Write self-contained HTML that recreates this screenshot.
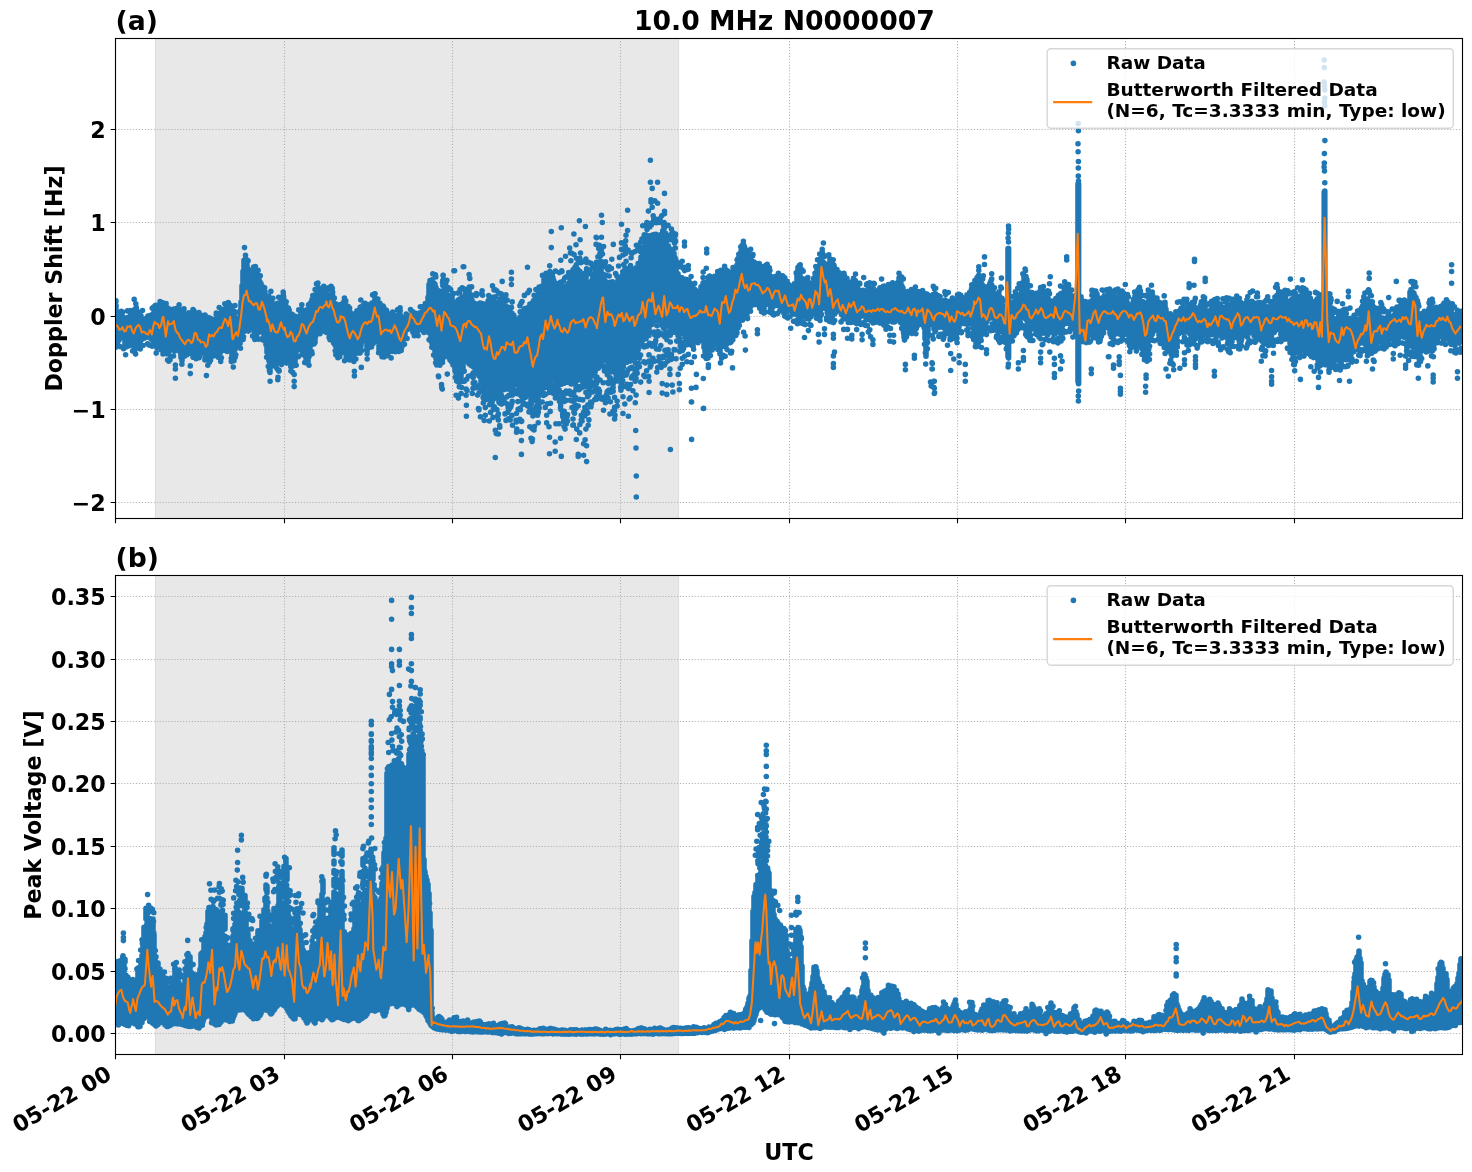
<!DOCTYPE html>
<html lang="en"><head><meta charset="utf-8"><title>10.0 MHz N0000007</title>
<style>html,body{margin:0;padding:0;background:#fff}svg{display:block}text{font-family:'DejaVu Sans','Liberation Sans',sans-serif;font-weight:700;fill:#000}</style></head><body>
<svg width="1472" height="1172" viewBox="0 0 1472 1172">
<rect width="1472" height="1172" fill="#fff"/>
<defs><clipPath id="c0"><rect x="115.5" y="38.5" width="1347" height="480"/></clipPath><clipPath id="c1"><rect x="115.5" y="575.5" width="1347" height="479"/></clipPath></defs>
<rect x="155.5" y="38.5" width="523" height="480.0" fill="#e8e8e8"/>
<path d="M155.5 38.5V518.5M678.5 38.5V518.5" stroke="#dedede" stroke-width="1.2" fill="none"/>
<path d="M115.5 518.5V38.5M284.5 518.5V38.5M452.5 518.5V38.5M620.5 518.5V38.5M789.5 518.5V38.5M957.5 518.5V38.5M1125.5 518.5V38.5M1294.5 518.5V38.5M115.5 502.5H1462.5M115.5 409.5H1462.5M115.5 316.5H1462.5M115.5 222.5H1462.5M115.5 129.5H1462.5" stroke="#b0b0b0" stroke-width="1.11" stroke-dasharray="1.11 1.83" fill="none"/>
<g clip-path="url(#c0)">
<path d="M116 308.8V343.6M117 317.7V336.5M118 313.2V341.2M119 316.7V340.3M120 317.2V334.2M121 314.5V332.2M122 314.8V337.5M123 317.8V335.8M124 321.2V335.4M125 326.2V343.8M126 320V346.9M127 318V340.2M128 317.8V344M129 317.1V340.7M130 325.7V338.4M131 316.4V340.2M132 314.6V339.2M133 314.4V345.1M134 315.6V347.9M135 314.2V349.6M136 319.3V341M137 310.9V337.9M138 313.6V342.4M139 315.6V341.6M140 322.5V340.4M141 315.8V340M142 318.9V337.8M143 319.1V338.4M144 319.9V337.9M145 322.9V337.9M146 324.9V334.9M147 329.7V330.4M148 319.7V336M149 318.5V337.2M150 315.5V337.2M151 323.3V339.1M152 315.5V338.9M153 314V339.6M154 312.3V337.1M155 312.5V344.8M156 313.4V341.7M157 310.6V347.9M158 310.2V346.3M159 312.1V342.8M160 314.6V343.4M161 308.4V344.1M162 311.8V345.8M163 307.3V345M164 312.8V350.7M165 312.5V346.4M166 314.2V353.6M167 313.8V353.7M168 317.5V345.6M169 320.7V351.4M170 315.2V346.4M171 313.2V348.1M172 311V349.6M173 312.4V349.2M174 309.1V346.4M175 310.7V345.9M176 311V344M177 313V345.4M178 313V350M179 320.4V349.6M180 313.5V351.7M181 321.7V357.5M182 313.7V360.8M183 315.4V347.8M184 321.1V351.4M185 316.5V347.9M186 321.4V346.4M187 313.8V347.9M188 313.8V345.3M189 314.2V347.3M190 323V346.9M191 314V353M192 313.4V345.2M193 315.4V348.6M194 319.9V349M195 316.3V355.4M196 318.6V349.4M197 317.3V352.3M198 316.9V350.4M199 319.6V349.5M200 319.5V341.8M201 316.5V347.2M202 320.2V343.6M203 316.8V349.4M204 318.6V351.1M205 319.6V352.6M206 323.7V354.7M207 324.2V356.8M208 326.9V356.1M209 324.9V354.5M210 323.8V346.7M211 321.9V354.9M212 323.1V348.2M213 325.5V350.2M214 320.2V347M215 327.1V345.6M216 322V346.8M217 317V340.9M218 314.8V349.8M219 317.5V351.9M220 317.1V346.4M221 312.6V351.1M222 312.5V348.9M223 310.3V346M224 309V333.9M225 312V340.6M226 314.2V337.8M227 307.1V341M228 310.7V345.2M229 304.5V348.8M230 305V351.2M231 306.7V348.9M232 309.2V358.6M233 311.7V351.1M234 311.4V352.9M235 321.2V349.6M236 320.8V343.5M237 323.5V343.9M238 318.1V343.5M239 322.7V340.1M240 317.4V336.8M241 302.1V340.5M242 285.9V332.7M243 271.2V324.1M244 260.4V323.9M245 259.6V314.9M246 260.5V323.1M247 264.2V317.8M248 268.8V323.7M249 273.4V323.3M250 275.3V324.3M251 275.6V326.9M252 276V328.4M253 270.8V326.1M254 271.5V331.5M255 271.3V331.3M256 274.5V333.3M257 274.9V331.4M258 275V331.5M259 277.6V332.2M260 282V329M261 284.7V329.2M262 286V323.4M263 290V331.5M264 290.4V335.5M265 291.8V338.3M266 298.6V344.7M267 302.7V352.2M268 303V358.2M269 309.6V361M270 303.9V372.4M271 303V362M272 308V355.8M273 306.5V351.4M274 306.3V360.3M275 308.1V362.9M276 315.7V363M277 307.3V362.7M278 305.4V359.9M279 305V361.6M280 304.3V361.6M281 308V355.6M282 298.4V351.6M283 303.1V353.4M284 303.6V347.6M285 308.9V353.6M286 306.1V352.7M287 308.5V355.7M288 318.6V356.4M289 318.1V359.6M290 317V360M291 326V359.6M292 319.7V365.8M293 320.4V366.1M294 323.7V362.7M295 325.9V363.5M296 320.6V355.1M297 320.6V348.5M298 322.2V348.7M299 323.2V346M300 315.9V345.2M301 313.1V343.6M302 314V341.5M303 312.4V347.2M304 312.7V344.7M305 311.5V355.7M306 315.4V358.4M307 317.4V361.1M308 321.1V363.6M309 310.5V356.8M310 306.2V347.8M311 305.7V344.9M312 299.6V344.5M313 301.8V340.3M314 304.4V343.9M315 301.6V342.5M316 294.1V327.8M317 291.6V325.4M318 290.9V330.4M319 292V329.1M320 293.7V327.3M321 292.1V319.1M322 292V327.1M323 292.8V331M324 293.8V323.6M325 294.5V330.3M326 295.5V332M327 298.9V332.7M328 297.8V330.7M329 294.7V329.4M330 297.7V333.5M331 295.6V335.8M332 303.5V335.8M333 296.7V338.9M334 302.8V342.8M335 304.9V344.9M336 305.9V346.8M337 316.6V341.3M338 313.5V347.7M339 306.9V352.2M340 306.8V349.3M341 305.2V348.9M342 304.1V346.4M343 310.7V348.9M344 312V352.6M345 304.8V353M346 309.7V351.3M347 308.1V351.4M348 306.4V345.6M349 311.9V347.1M350 311.8V353.3M351 321V349.3M352 320.8V353.8M353 322.9V353.5M354 314V353.5M355 315V351.1M356 315.2V347.9M357 310.7V351.7M358 318.2V352.6M359 314V346.1M360 316.7V349.3M361 306.8V345.8M362 308.6V341.5M363 308.4V337.7M364 307.1V331.9M365 303.2V329.6M366 309.5V339.7M367 311.1V349.9M368 315V345.2M369 308.3V347.4M370 310.7V337.5M371 307.8V339.9M372 303V339.4M373 305.2V333.7M374 307V334.5M375 298V332.2M376 299.9V332.7M377 304.8V335.8M378 304.8V332.8M379 306.4V346.9M380 307V351.3M381 313.2V353.2M382 309.4V356.7M383 315.4V354.7M384 319.8V352.3M385 313.3V344.9M386 314.3V344.3M387 319V346.9M388 318.3V346.5M389 318.1V348.9M390 317.4V346.1M391 325.3V351.1M392 317.7V342.5M393 319.1V344.1M394 320.7V342.1M395 320.8V341.3M396 319V343.3M397 315.6V335.9M398 319.3V342M399 313.4V337.5M400 314.1V335.2M401 317.5V342.3M402 317.4V345.4M403 319.6V341.6M404 320.7V336.9M405 323.2V335.1M406 325.2V330M407 322.7V329.8M408 317.3V325.3M409 323.6V325.6M410 315.6V318.5M411 316.6V318M412 312.7V321.8M413 311.8V327.4M414 313.8V330.7M415 322V332.2M416 313.7V330.1M417 315.1V332.2M418 317.2V329.4M419 314.8V329M420 312.7V323.6M421 316.9V320M422 312.1V322M423 320.6V323.5M424 315.7V325.3M425 313.5V325.9M426 308V326.3M427 304.6V328.9M428 297.3V330.2M429 284.6V332.8M430 280.6V328.3M431 284V336.7M432 279.8V343.2M433 287.7V342.8M434 283.1V347.1M435 284.2V351.9M436 287.6V358.2M437 294.5V358.1M438 290.6V358.3M439 301V356.4M440 295.1V360.1M441 292.9V355.5M442 298.9V350.7M443 290.8V358.1M444 291.6V353.8M445 295.4V349.6M446 294.9V353.2M447 295.4V354.7M448 299.7V356.9M449 299.6V351M450 303.9V360M451 301.1V360.9M452 302.1V362.3M453 301.5V364.9M454 307.1V365.3M455 308V370.7M456 302.7V373M457 303V369M458 300.3V378.8M459 301.8V381.9M460 299V376.7M461 301.2V377.9M462 300.8V372.2M463 297V369M464 300.5V362.1M465 299.5V360.8M466 298.4V353.8M467 298.3V355.3M468 298.8V350.9M469 291V353.4M470 294.8V353.3M471 295.8V361.3M472 300.1V363.7M473 303.5V361.2M474 303.1V356.2M475 303.8V359.5M476 304.9V357.2M477 304.8V366.2M478 303.9V368.5M479 306V376M480 303V372.5M481 303.6V383.7M482 303.6V386.2M483 303.9V388.9M484 309.6V383.8M485 318.6V389.4M486 314.1V386.4M487 313.6V385.6M488 305.3V385.1M489 300.1V384.2M490 302.8V384.6M491 299.5V392.1M492 303.6V393.4M493 297.4V393.6M494 300.3V395.6M495 304V398.3M496 308.4V397.8M497 311.3V396.2M498 303.6V393.8M499 302V391.5M500 307.9V389.1M501 303.3V381.9M502 305.3V387.9M503 308.5V389.9M504 310.4V389.5M505 307.1V389.3M506 313.5V382.4M507 306.7V385.6M508 307.2V384.8M509 307.6V383.4M510 310.3V379.1M511 314.9V386.4M512 313.4V387M513 316.6V383.2M514 316.4V383M515 318.9V383.6M516 322.1V384M517 326.1V379.8M518 321.6V383M519 322V377.7M520 317V376.2M521 317V380M522 320.1V380.6M523 311.4V379.6M524 309.4V384.1M525 308.6V382.4M526 311.5V385.9M527 311.6V387.5M528 307.6V389.6M529 306.7V394M530 316.2V394.9M531 319.7V402M532 325.4V395.3M533 321.7V398.5M534 310V394.5M535 306V400.1M536 300.3V395.5M537 295.9V399.1M538 295.1V400M539 300.9V394.9M540 295V394.5M541 295.8V392.3M542 286.1V387M543 286V381.9M544 279.1V382.9M545 278.1V387.5M546 282.2V387.2M547 276.4V383.5M548 281.6V382.4M549 272.9V380.4M550 271.6V384M551 273.3V379.2M552 282.2V377.2M553 277.9V373.1M554 281V379.9M555 286.6V378.9M556 290.5V379M557 283.9V382.4M558 290.8V378.4M559 285V381.9M560 284.5V376.5M561 286.6V384.3M562 294V384.1M563 285.8V383.5M564 287.1V377.7M565 290.4V380.1M566 293.5V382M567 299.6V382.3M568 295.9V382.1M569 287.6V378.1M570 281.4V380M571 275.3V383.7M572 275.9V381.6M573 269.8V383.6M574 272.7V379.8M575 267.4V380.4M576 271.1V378.6M577 268.8V378.4M578 269.5V370.3M579 278.6V373.7M580 271.6V378.2M581 274.8V374M582 281.4V376.8M583 280.1V377.6M584 277.7V375.6M585 279.2V378.5M586 274.1V379.8M587 285.9V384.4M588 289.8V383.9M589 284.8V385.6M590 282.9V380.2M591 283.7V374.2M592 280.1V371.9M593 281.6V367.2M594 278.5V363.4M595 278.4V360.9M596 279.9V357.8M597 279.6V356.5M598 274.1V356.9M599 264.3V355.1M600 267.4V350.8M601 268.2V354.7M602 275V355.8M603 277.9V357.1M604 275.1V355.5M605 280.6V359.9M606 282.3V360.5M607 286.6V360.9M608 285.9V364M609 284.9V364.9M610 282.7V366.6M611 284.7V369M612 285.1V369.2M613 286V369.7M614 286.9V371.5M615 288.9V368.6M616 283V360.5M617 287.4V366.3M618 280.2V364.5M619 279.3V363.4M620 281.7V356.1M621 278.5V357.9M622 278.4V352.8M623 273.5V357.3M624 271.5V357.2M625 268.2V359.4M626 268.3V362.2M627 270.2V362.3M628 270.7V361.3M629 271.5V354.6M630 276.3V358.2M631 268.6V356.4M632 269.9V352.3M633 270.4V356.7M634 278V346.1M635 275.1V348M636 267.9V341.8M637 271.1V343.6M638 269.4V337.6M639 269V337.1M640 264.2V332.6M641 257.1V327.8M642 261.8V329.6M643 249.5V335.3M644 247.2V338.2M645 245.1V336.9M646 242.3V338.7M647 242.3V335M648 243.8V335M649 237.9V335.4M650 236.7V323.1M651 242.5V324M652 242V324.4M653 234.9V320.6M654 234.5V321.1M655 241.1V314M656 234.4V317M657 237V316.7M658 239.2V320.8M659 241.7V312.1M660 243.7V319.2M661 239.6V317.2M662 241.2V325M663 241.4V326.8M664 245.9V328.6M665 247.3V326M666 251.4V322.4M667 251.6V317.7M668 252.8V316.9M669 251.5V314.6M670 253V312.9M671 249.2V313.3M672 250.6V311.6M673 252.9V318.2M674 253.6V318.8M675 257.8V324.2M676 262.3V321.3M677 275.9V329.5M678 273.8V335.5M679 276.8V339.4M680 277.6V333.2M681 278.5V333M682 277.8V332.2M683 281.9V327.1M684 286.4V334M685 285.1V337.4M686 279.4V338.7M687 283.2V341.2M688 284.7V335.8M689 281.4V339.3M690 284.1V342.1M691 283.7V340M692 288.5V342.3M693 287.1V334.7M694 290.8V342.5M695 289.5V340M696 290.7V339.7M697 293.4V339.7M698 297.2V342.7M699 299.6V339M700 297.9V340.6M701 286.8V339.3M702 292.8V331.2M703 283.3V337.4M704 285.2V347.5M705 285.5V351.4M706 285.5V351.8M707 287.4V355.7M708 291V350.5M709 284.5V352.7M710 292V342.8M711 284V340.6M712 285.4V337.3M713 286.3V337.1M714 286.6V341.1M715 285.8V336.5M716 286.8V337.3M717 283.5V343.8M718 279.9V342.7M719 281.6V347.8M720 279.9V354.1M721 285.2V346M722 281.2V346.4M723 279.1V346M724 278.9V344.8M725 275.4V343.5M726 272.5V341.4M727 272V339.5M728 271.1V340.6M729 272.3V338M730 272.4V342.7M731 275.2V341.9M732 281.2V340.3M733 276.5V336.9M734 272.3V331.9M735 274.3V331.4M736 272.4V328M737 273.5V324.8M738 269.9V318.9M739 259.7V318.8M740 255.7V316.9M741 251.1V312.5M742 249V311.7M743 250.5V307.4M744 250.5V309.5M745 253.8V310.9M746 257.2V310.8M747 260.6V308.4M748 254.7V307.4M749 255.5V308.7M750 255.4V307.8M751 259.7V304.5M752 266.1V301.4M753 264.9V302.8M754 262V299.1M755 262.8V301.6M756 271.2V302M757 273.4V300.9M758 274.2V301.5M759 269.4V301M760 271.8V300.4M761 277.1V299.7M762 274.3V303.6M763 278.5V308M764 272.7V309M765 275.7V305M766 271.8V296.3M767 273.6V295.7M768 276.1V300.5M769 272V304.4M770 278.1V305.4M771 281.9V306M772 280.3V298.7M773 282.7V307.1M774 290.2V305.5M775 284.9V304.1M776 282.8V303.5M777 281.6V297.5M778 278.8V301.7M779 280.4V304.2M780 282.7V302.8M781 287.3V304.5M782 286V305.5M783 284V303.4M784 284.9V309.8M785 281.6V305.3M786 284.6V311.5M787 284.1V311.6M788 292.8V309.4M789 292.1V304.8M790 295.9V310.6M791 295.7V309.2M792 292.9V303.4M793 297.2V311M794 287.4V303.7M795 283.6V309.4M796 286.4V312.2M797 272.6V311.8M798 267.3V312.2M799 268.3V315.8M800 271.3V315.7M801 281.9V310.1M802 284V310.1M803 278.7V312.6M804 279.7V313.4M805 284.2V315.9M806 284.2V315.8M807 284.9V318.7M808 286.4V315.8M809 286.9V316.6M810 285.2V309.7M811 288V316.7M812 285.3V314.4M813 283V312.1M814 280.8V311.6M815 277V312.3M816 282.2V306.7M817 268.7V316.3M818 269.8V315.4M819 269.9V315.8M820 259V311M821 258.3V309.5M822 261.8V305.4M823 261.7V302.6M824 263V298.2M825 268V305.8M826 266.8V301M827 269.8V309.7M828 269.6V307.2M829 263.6V312.5M830 258.7V315.5M831 261.6V313.1M832 267.4V309.4M833 264.2V304.5M834 265.4V306.9M835 273.8V313.6M836 277.1V308.3M837 274.6V309.3M838 272.2V307.6M839 280.6V311M840 281.1V309.7M841 284.9V311.5M842 279.4V309.3M843 280.6V307.7M844 279.7V311.7M845 281.2V306.5M846 286.5V310.8M847 282.7V313.1M848 286.7V311.5M849 291.9V311.8M850 297V313.5M851 289.7V307.2M852 287V313.3M853 285.7V307.3M854 292.2V317.2M855 293.3V311.9M856 288.3V321.5M857 287V319.4M858 288.8V316.1M859 290.9V317.1M860 297.7V316.7M861 297.3V314.1M862 291.1V313.6M863 290.4V315.6M864 291.5V315.2M865 298.2V312M866 294.2V318.6M867 292.2V319.3M868 296.3V319.1M869 288.1V319.6M870 287.7V316.5M871 288.1V321M872 289.3V320.4M873 288.9V323M874 291.1V321.1M875 291.2V312.4M876 294V318.3M877 297.6V314M878 295.8V313.6M879 297.7V315.1M880 293V315.1M881 292.4V321.3M882 298.1V315.1M883 296.4V322.8M884 294.2V322M885 294.1V321.2M886 295.2V317.6M887 291.4V321M888 293.4V319M889 292.4V319.7M890 292.2V318.9M891 291.3V318.2M892 291.6V309M893 294.7V316.5M894 292.3V312M895 296.4V313.8M896 292.8V316.8M897 287.6V314.6M898 282.5V311.2M899 280V307M900 283.4V316.5M901 285.7V315.3M902 286.1V323.7M903 288V325.3M904 301.3V337.2M905 298.7V334.4M906 298V331.6M907 298.7V328.5M908 305.4V322.5M909 299.2V326.5M910 297.3V324.3M911 295.3V321.3M912 294.9V323.2M913 299.7V320.7M914 292.4V326.6M915 294.6V318.5M916 292V325.7M917 291.5V326.4M918 293.9V319.3M919 291.8V324.8M920 296.1V311.8M921 292.3V316.5M922 300.5V318.7M923 294.8V323.5M924 295.8V327.4M925 298.5V338.8M926 293.8V356.2M927 294.1V339.9M928 297.6V333.7M929 297.3V318.7M930 298.2V320.3M931 301.1V319.3M932 299.2V324.4M933 297.6V321.5M934 297.1V329.2M935 296.8V330M936 297.6V328.9M937 298V323.9M938 298.2V325.3M939 302.8V323.3M940 308.1V327.2M941 304.5V326.9M942 303.4V323.2M943 302.5V326.3M944 306.6V327.7M945 300V328.9M946 308.7V324.8M947 301.4V331.5M948 308.3V330.5M949 302.2V332.2M950 303.9V327.2M951 309.5V330.1M952 308.1V328.6M953 313.4V322.7M954 311.2V327.3M955 309.9V326M956 308.3V324.9M957 312.3V327.5M958 306V320.9M959 306.7V327.3M960 312V320.7M961 308.3V321.9M962 306.1V320.5M963 308.3V318.2M964 312.1V317.6M965 308.9V315.8M966 310V313.8M967 307.5V316.2M968 302.9V318.4M969 299.8V323.4M970 299.3V322.6M971 296.7V321.2M972 291.9V320.6M973 285.3V327.7M974 287.9V334.7M975 280.5V334.9M976 280V336.7M977 277.8V335.7M978 276.5V331.7M979 277.4V332.3M980 280V328.7M981 280.6V330M982 284.3V320M983 285.7V324.6M984 287.2V321.6M985 289.1V324.5M986 295.1V323M987 289.1V321.5M988 296.2V316M989 294.2V315M990 290.3V318.3M991 287.8V316.6M992 285.9V313.3M993 290.4V312.2M994 293.3V317.2M995 296.1V326.5M996 307.7V324.2M997 301.3V330.6M998 301.7V331M999 308.5V331.8M1000 302.8V329.6M1001 301.8V329.1M1002 298.4V327.7M1003 305.7V331.7M1004 317.9V335.9M1005 312.1V336.6M1006 314.2V336.1M1007 318.8V335.1M1008 314.9V335.4M1009 320.5V335.1M1010 312.2V330.9M1011 314.5V333M1012 313.9V321.9M1013 302.4V325.9M1014 303.7V325.1M1015 303.5V323.1M1016 305.2V318.7M1017 301.4V319.4M1018 304.9V311.6M1019 295V312.3M1020 297.1V308.4M1021 296.7V312.5M1022 299.3V315.8M1023 283.8V316M1024 277.1V310.9M1025 278.6V314.4M1026 276.6V319.5M1027 280.2V320.8M1028 298.5V330.5M1029 294.7V328.6M1030 299.2V329.7M1031 301.2V322.5M1032 298.5V327.1M1033 299.4V328.8M1034 300.5V328.9M1035 302.9V327.7M1036 306V325.4M1037 306.6V325.8M1038 300.3V319M1039 299.7V327.6M1040 304.1V326.3M1041 295.8V332.1M1042 297.2V333.1M1043 296.6V330.6M1044 299V333.1M1045 301.1V331.4M1046 305V328.2M1047 301.2V320.8M1048 305.3V327.3M1049 300.6V330.2M1050 304.4V329.7M1051 310.8V323.9M1052 307.3V332.3M1053 311.3V331.1M1054 313.6V332.8M1055 312.9V334.1M1056 307.8V332.2M1057 307.1V327.8M1058 305.1V324.4M1059 301.7V332.3M1060 307.3V332.7M1061 297.1V326.4M1062 293.1V329.6M1063 299.1V324.7M1064 292.3V318.9M1065 289.5V323.8M1066 288.3V318.2M1067 290.2V314.9M1068 291.2V317.1M1069 294.8V311.6M1070 303.3V323.3M1071 305.8V326.6M1072 298.8V317.8M1073 301.4V323.9M1074 305.8V324.6M1075 303.8V323.4M1076 304.1V325.5M1077 305.2V331M1078 309.2V331.3M1079 308.1V330.3M1080 307.1V329.3M1081 307.4V329.9M1082 306.8V327.9M1083 304.4V331.4M1084 307.9V328M1085 309.6V324.8M1086 307.1V329.6M1087 306.9V333.2M1088 311.7V334.7M1089 307.9V327.6M1090 303.3V335M1091 303.2V324.3M1092 302.4V328M1093 305.3V320.4M1094 300V318M1095 299.4V327M1096 295.8V325.3M1097 295.9V328.3M1098 306.3V327.8M1099 299.4V334.4M1100 298.4V323.5M1101 304.6V325.6M1102 303.7V323.8M1103 297.7V320.3M1104 299.1V320M1105 297.9V317.6M1106 301.2V315.1M1107 306.2V325.3M1108 303.5V320.4M1109 298.9V327M1110 300V333.3M1111 295.9V328M1112 303.1V331.6M1113 299V329.2M1114 299.6V326.4M1115 300.1V332.3M1116 302.1V331.5M1117 306.3V332.9M1118 308.3V330.9M1119 306V329.3M1120 299.2V322.3M1121 300.3V324.7M1122 302.4V321M1123 305V325.5M1124 302.4V328.1M1125 302.3V329.4M1126 309.9V330M1127 302V331M1128 304.4V329.1M1129 309.4V339.6M1130 313.6V341.4M1131 317.7V334.9M1132 308.8V333M1133 306.9V332.7M1134 308V333.9M1135 298.3V330.3M1136 295.2V338.9M1137 295.4V331.6M1138 297.4V329.8M1139 306.1V336.2M1140 300.5V333.5M1141 302.9V332M1142 307.8V335.3M1143 307.3V348.3M1144 307.5V351.7M1145 310.1V354M1146 307.6V354.7M1147 310.3V351.2M1148 302.3V346.4M1149 298.7V338.7M1150 298.4V336.6M1151 299V335M1152 299.4V329.4M1153 307V326.8M1154 304.2V320.2M1155 302.7V328.5M1156 302V327.3M1157 305.4V329.2M1158 303.9V328.7M1159 309.9V331.8M1160 311.9V331.6M1161 310.9V334.8M1162 307.6V335.3M1163 307.1V338.9M1164 305.1V344.5M1165 302.4V340.6M1166 309.2V347.3M1167 314.1V349.1M1168 318.8V350.4M1169 317.8V346.8M1170 318.8V350.6M1171 320.1V353.7M1172 330.6V356.3M1173 327.8V354.9M1174 320.9V351.9M1175 320.6V349M1176 319.7V336.2M1177 314.1V336.6M1178 312.6V325.9M1179 313.3V329.7M1180 318.1V324.8M1181 308.3V328.2M1182 308.9V331M1183 316.1V328.9M1184 309.5V329.2M1185 310.6V324.4M1186 313.2V330.8M1187 309V326M1188 309V330.9M1189 308.1V328.5M1190 310.3V334.1M1191 304.5V329M1192 305.4V332.8M1193 305.8V331.6M1194 309.1V335.4M1195 307.4V336.2M1196 308.9V335.5M1197 311.9V336.6M1198 315.5V334.1M1199 314.1V332.3M1200 310.7V331.6M1201 307.9V328.6M1202 308.1V331.2M1203 303.7V331.2M1204 303.8V331.8M1205 305.4V329.4M1206 315.9V327.7M1207 311.7V332.4M1208 318.8V332.5M1209 312.9V332.4M1210 313V333.1M1211 309.4V330.7M1212 308.6V327.9M1213 307.8V329.9M1214 308.4V333M1215 305.6V331.4M1216 303.2V324.8M1217 301.4V333.3M1218 305.5V333M1219 308.1V327.9M1220 314.4V330.7M1221 313.3V334.4M1222 311.5V337.9M1223 309.1V328.8M1224 308.1V331.4M1225 307.3V334.2M1226 309V332.4M1227 314.4V337M1228 307.7V340.5M1229 308.7V340.7M1230 308.9V338.7M1231 311.9V345.1M1232 310.4V341.8M1233 308.8V337.2M1234 307.3V337.3M1235 306.4V334.3M1236 309.5V335.9M1237 309.1V332M1238 309.5V337.7M1239 310.4V340M1240 313V337.3M1241 319.1V335M1242 316.1V336.3M1243 319.1V335.7M1244 315.4V328.9M1245 312.1V328.5M1246 311.6V327.6M1247 309.3V331.6M1248 306.3V332.4M1249 306.2V333.2M1250 302.2V333M1251 302.3V329.2M1252 301.3V329.3M1253 307.1V327.7M1254 310.3V331.7M1255 307.4V329.8M1256 303.6V324.6M1257 304V328.7M1258 302.9V335.7M1259 307.7V329.1M1260 319V339.3M1261 317.3V338.1M1262 319.6V341.3M1263 314.7V337.5M1264 310.8V343.7M1265 315.2V341.4M1266 308.9V342.6M1267 314.2V331.9M1268 306.9V338.1M1269 308.4V335.8M1270 316.6V334.7M1271 315.3V331.9M1272 316.2V333.7M1273 311.4V333M1274 308.4V331.2M1275 301V328.1M1276 296.9V329.9M1277 295.3V323.5M1278 295.9V329M1279 298.5V327.9M1280 307.2V329.2M1281 303.7V331.2M1282 310.2V331.5M1283 304.8V334.6M1284 303.2V333.4M1285 300V330.5M1286 300.7V336.8M1287 303.6V338.6M1288 303.9V338.9M1289 303.5V334.7M1290 301.1V343.3M1291 304.5V344.1M1292 299.1V351M1293 302.1V355.2M1294 299.2V352.5M1295 309.5V350.2M1296 309.2V352.3M1297 302.9V351.9M1298 303.7V348.8M1299 298.1V347.8M1300 297.5V343.7M1301 296.6V346.2M1302 295.2V346.9M1303 297V339.8M1304 296.8V343M1305 298V342M1306 298.8V337.6M1307 298.8V345M1308 299.8V345.4M1309 301.1V340.6M1310 306.2V341.2M1311 303.4V341.2M1312 303.7V345.7M1313 311.3V347.9M1314 302.3V342.2M1315 301.6V343.1M1316 301.5V343.7M1317 300.9V355.4M1318 300.4V360.6M1319 302.3V361.3M1320 310V355.1M1321 302.8V357.8M1322 303.5V349.5M1323 303.9V352.3M1324 305.1V350M1325 314.4V350.1M1326 307.1V357M1327 311.7V355.8M1328 304.7V356.9M1329 307.7V360.7M1330 310.8V359M1331 307.7V354.3M1332 311.2V353.2M1333 321.2V357.4M1334 325.7V358.1M1335 319.9V352.6M1336 319.5V360.1M1337 318.5V352.8M1338 319.7V356.1M1339 321.4V357.9M1340 327.8V359.8M1341 324.6V357.1M1342 322V352.4M1343 325.7V354.6M1344 321.4V353.3M1345 318.5V351.6M1346 319.8V355.4M1347 322.1V355.4M1348 327.6V351.8M1349 324.4V354.9M1350 318.5V357.5M1351 318.6V354.3M1352 327.6V351.9M1353 319.5V347.5M1354 322V351.6M1355 330.4V345.5M1356 321.2V349.7M1357 321.7V342M1358 319.8V344.3M1359 319.1V339.3M1360 321.2V341.7M1361 318.2V342.9M1362 323.4V340.5M1363 318.8V339.9M1364 304.8V335.8M1365 300.1V344M1366 301.2V345.6M1367 300.7V347.1M1368 303.7V339.8M1369 301.3V347.3M1370 307.9V348.4M1371 311.4V346.8M1372 310.5V348.3M1373 318.7V350.4M1374 318.6V348.9M1375 318.7V347.7M1376 318.4V337M1377 313.8V340.1M1378 313.6V339.7M1379 311.1V335.5M1380 317V338M1381 321.7V329.2M1382 317.9V336M1383 318.8V334.1M1384 322.8V337.4M1385 318.9V332.1M1386 318.1V334.6M1387 326.4V336.3M1388 318.5V334.9M1389 318.3V334.7M1390 318.2V334.9M1391 316.9V335.2M1392 317.9V337.7M1393 317.3V336.9M1394 315.3V336.3M1395 318.5V336.6M1396 311.6V334.8M1397 307V336.2M1398 309.5V335.6M1399 312V332.7M1400 316.5V334.7M1401 316.9V331M1402 311.1V334M1403 312.7V327.5M1404 314.3V324.4M1405 310.8V332M1406 317V336.2M1407 315.8V334.4M1408 317.3V343.6M1409 304.5V342.7M1410 292V342.7M1411 290.6V340.8M1412 291.9V343.5M1413 292.7V341.9M1414 293.4V345.7M1415 296.3V343.3M1416 297.5V350M1417 303.1V356M1418 316.2V356.3M1419 314.8V356M1420 323.6V351.2M1421 316.9V351.5M1422 320.2V349M1423 324.6V347.3M1424 319V348.6M1425 319.8V344.5M1426 323.5V343.5M1427 314.8V343.9M1428 312.2V345.5M1429 308.8V344.9M1430 306.5V338M1431 306.9V342.6M1432 307.2V338M1433 311.6V344.2M1434 311.8V344.8M1435 312.1V341.6M1436 314.4V335.5M1437 313.4V333.9M1438 312.9V334.2M1439 311.3V331.2M1440 316.3V334.8M1441 313.5V327.9M1442 314.7V333.2M1443 319.3V332.9M1444 316.1V333.7M1445 312.5V332.6M1446 318.1V334.3M1447 312.1V335.7M1448 312.1V329.8M1449 311.2V339.8M1450 311.8V340.6M1451 313.9V341.4M1452 313.9V341.4M1453 317.7V343.6M1454 319V343.4M1455 320.6V342.6M1456 321.8V343.3M1457 319.5V341.5M1458 321.3V340.4M1459 319.4V338.1M1460 314V331.8M1461 313.6V337M1462 316.1V331.7M1008 248.5V356.8M1008.6 248.5V358.1M1078 183.7V381.7M1078.6 184V383.8M1324.2 192.2V357.7M1324.8 191.1V356.1M116 300.9v.01M116.2 306v.01M115.6 302.8v.01M115.8 347.2v.01M117.7 314.5v.01M118.2 345.5v.01M119.3 315.7v.01M120 346.6v.01M119.5 315.7v.01M119.6 315.3v.01M121.3 311.3v.01M122.1 312.8v.01M122.6 312.1v.01M123.1 347.4v.01M123.6 348.7v.01M124.5 318.2v.01M125.6 354.7v.01M126.5 317.9v.01M125.7 345.9v.01M127.5 310.9v.01M129.1 311.5v.01M128.8 340.1v.01M128.7 345.9v.01M130.3 310.5v.01M131.5 311.4v.01M130.6 314.2v.01M132.4 314.9v.01M133.3 310.2v.01M132.6 351v.01M133.7 311v.01M135.2 309v.01M135.4 353.6v.01M135.8 303.8v.01M136.2 307.6v.01M136.3 307.6v.01M135.6 354.1v.01M137.5 345.3v.01M136.6 347.5v.01M139.3 313.1v.01M138.7 345.1v.01M140.2 349v.01M141.2 344.8v.01M142.5 310.5v.01M143.1 345.5v.01M142.6 339.1v.01M147 319.8v.01M146.8 317.8v.01M147.9 316.1v.01M147.6 343.8v.01M148.9 345.1v.01M149.1 336.3v.01M150.6 338.3v.01M152.2 308.2v.01M151.6 315.2v.01M152.1 346.2v.01M153.3 342v.01M153.8 306.8v.01M154.7 306.6v.01M155.6 305.2v.01M156.2 353.1v.01M159.2 304.7v.01M159.4 307.5v.01M158.6 307.7v.01M160.1 301.6v.01M161.5 345.6v.01M161 349.8v.01M162.1 302.5v.01M162.1 306.6v.01M162.2 349.6v.01M163 304.5v.01M163 354v.01M163.4 305.8v.01M164.5 303.6v.01M165 306.1v.01M164.8 352.3v.01M166.1 303.5v.01M165.8 310.8v.01M166 309.8v.01M167.4 307.7v.01M167.3 309.6v.01M167.6 360v.01M168.8 361.2v.01M169.2 312.2v.01M168.9 313.1v.01M168.5 353.5v.01M170 359.7v.01M169.6 309.1v.01M170.1 311.9v.01M170.7 356.6v.01M173.4 350.3v.01M173.5 356v.01M173.6 348.7v.01M174.4 345.7v.01M174.7 351.1v.01M174.9 350.3v.01M175.7 311.8v.01M176.8 308.2v.01M177.9 309.4v.01M179.1 304.9v.01M178.6 350.3v.01M179.3 349.8v.01M180.2 352v.01M181.3 310.1v.01M181.9 364.2v.01M183.4 310.3v.01M184 308.9v.01M184.8 356.1v.01M186.1 354.7v.01M185.8 353v.01M187 354.7v.01M186.6 349.4v.01M188.9 312.7v.01M190.1 315.2v.01M191.4 353.7v.01M193 309.6v.01M193 357.2v.01M193.8 310.5v.01M195.6 317v.01M195.6 352.7v.01M196.1 358.7v.01M197.4 313.3v.01M196.8 350.6v.01M197.6 316v.01M198.9 312.6v.01M199.1 357.8v.01M199.3 353.4v.01M199.5 356.4v.01M200.1 315.4v.01M200.8 353.5v.01M200.8 315v.01M201.4 348.3v.01M205 315.1v.01M204.9 359.9v.01M205.2 357.4v.01M205.8 357.8v.01M208.2 317.6v.01M207.8 365.3v.01M208.6 320.7v.01M209.4 323.5v.01M209.4 362.3v.01M210.4 318.3v.01M210.5 360.3v.01M209.5 361.5v.01M211.2 320.8v.01M211 355v.01M213.4 356v.01M213.1 319.9v.01M214.1 352.1v.01M215.2 353.2v.01M214.6 345.6v.01M216.3 313v.01M216.2 314.6v.01M215.9 351.8v.01M216.1 348.7v.01M217.9 354.1v.01M218.2 357.2v.01M217.5 355v.01M219.2 307.5v.01M220.3 352.7v.01M220.7 361.5v.01M221.1 313.2v.01M220.8 314.5v.01M221.4 357.8v.01M224.1 350.3v.01M224.1 348v.01M224.8 303.7v.01M226.3 348.2v.01M226.4 345.9v.01M226.5 347.3v.01M227.1 351.5v.01M228.3 302.5v.01M227.7 350v.01M231.3 361.6v.01M231.3 358.2v.01M233.3 367.1v.01M232.6 359.6v.01M234 360.8v.01M235 305.5v.01M235.1 357.4v.01M235.8 354.8v.01M237.5 346.6v.01M238.1 312.3v.01M240.1 343.4v.01M240.5 348.2v.01M243.1 339.4v.01M243.5 336.9v.01M244.4 326.5v.01M244.4 326.5v.01M244.6 331.2v.01M245.5 255.2v.01M244.6 325.8v.01M244.9 324.5v.01M246.1 259.3v.01M245.7 261v.01M247.1 260v.01M246.7 328v.01M248.1 260.7v.01M248.4 331.1v.01M248.5 269.7v.01M249.6 272.8v.01M249.9 271.5v.01M250.7 272.6v.01M252.6 336.1v.01M253.6 267.1v.01M254.5 337.5v.01M255.4 266.5v.01M254.8 339.4v.01M256.7 336.4v.01M258.1 270.4v.01M258.3 276.7v.01M258.4 339.2v.01M260.3 275.8v.01M261 283.5v.01M261.8 338.9v.01M262.7 339.9v.01M263 338.3v.01M264.7 287.8v.01M266.6 357.2v.01M267.1 298.6v.01M267.2 296.3v.01M268.3 366.4v.01M268.8 296.4v.01M269.4 370.6v.01M269 298.6v.01M271.8 301.5v.01M272.2 364.4v.01M272.9 298.3v.01M273.7 365.4v.01M275.2 304.4v.01M275.6 366.1v.01M276.3 367.4v.01M275.9 364.3v.01M277.3 303.2v.01M277.5 369.3v.01M278 377.2v.01M278.7 297.3v.01M279 370.7v.01M279 370.3v.01M279.2 371v.01M278.8 371.1v.01M279.9 297.8v.01M281.5 364.6v.01M281 298v.01M281 301.1v.01M281.2 359v.01M283.2 292.1v.01M283.3 361.7v.01M283.3 294.3v.01M283.6 296.5v.01M283.8 299v.01M284.4 357.4v.01M284.4 358.2v.01M285.4 353.2v.01M286.2 301.7v.01M285.6 359.1v.01M286.6 363.1v.01M286.8 308.8v.01M288.3 308v.01M289.2 310v.01M289.1 314.8v.01M289.4 359.4v.01M290.1 315.3v.01M290.7 314.3v.01M290.8 366.8v.01M290.9 371.1v.01M292.2 314.4v.01M292 318.7v.01M292.7 372.4v.01M294.2 374.5v.01M294.8 316v.01M295.1 318.2v.01M295.2 363.6v.01M296.2 365.2v.01M298.3 356.8v.01M298.2 319.7v.01M298.8 309.9v.01M299.5 348.5v.01M300.2 349.6v.01M301.8 304.8v.01M302 354.4v.01M301.8 309.6v.01M303.6 310.9v.01M304.7 362.6v.01M304.8 311.6v.01M306.7 309.7v.01M308.5 304.9v.01M309 365.3v.01M310.4 303.3v.01M310.9 302.5v.01M310.7 352.2v.01M312.1 353.7v.01M311.7 351.6v.01M311.8 351.9v.01M312.8 295.5v.01M314.3 296.4v.01M315.1 289.5v.01M315.6 336.4v.01M316.5 283.9v.01M316.6 291v.01M316.8 333.1v.01M317.9 283.1v.01M318.3 333.3v.01M319 288.6v.01M318.7 287.9v.01M318.7 333.4v.01M319.7 333.6v.01M320 333.7v.01M320.4 330.4v.01M321.7 293.4v.01M321.5 327.9v.01M323.8 286.2v.01M323.6 292.9v.01M324.3 289.9v.01M325.2 288.3v.01M326.3 332.5v.01M327.2 294.5v.01M327.2 289.4v.01M328.4 287.7v.01M328.3 289.5v.01M329.1 337.6v.01M330 288.4v.01M330 339.7v.01M329.5 333.2v.01M331.1 286.3v.01M331.1 339v.01M332.3 288.4v.01M332.5 294.2v.01M332.4 339.7v.01M332.7 292.3v.01M334.3 298.1v.01M333.6 343v.01M335.2 350.7v.01M335.8 354.8v.01M336.2 304v.01M336.6 355.2v.01M337.1 309.1v.01M337.9 357.7v.01M338.5 307v.01M338.4 306.5v.01M337.7 355.1v.01M339.3 306.7v.01M340.4 353.4v.01M339.8 356.8v.01M341.1 304.2v.01M343 303.5v.01M344.4 298v.01M344 301.4v.01M344.6 360.8v.01M345 303.9v.01M345.8 300.9v.01M346.2 357.1v.01M346.9 354.9v.01M349.6 360v.01M349.6 308v.01M350.1 355.2v.01M352.6 359.4v.01M353.9 361.5v.01M354.5 354.3v.01M354.5 352.3v.01M355.9 359v.01M358.2 352.9v.01M360.2 307.4v.01M360.1 353v.01M360.8 300v.01M361.8 350.5v.01M363.5 306.4v.01M363.2 305.3v.01M365.2 335.7v.01M366.3 304.4v.01M367.1 353.7v.01M370.2 305.9v.01M371 303.7v.01M371.5 347v.01M372.6 294.9v.01M373.2 343.5v.01M374.1 341.5v.01M373.7 294.3v.01M375.1 338.3v.01M375.1 293.7v.01M374.8 293.7v.01M374.5 335.1v.01M375.6 338.3v.01M377.3 341.4v.01M377.9 299v.01M378.9 348.9v.01M378.6 352.7v.01M379.9 303.4v.01M381.9 310v.01M383.1 306.1v.01M383.5 310.6v.01M382.8 307.3v.01M383.3 311.8v.01M383.7 307.4v.01M384 356.9v.01M385.1 310.5v.01M384.8 350.3v.01M386 355.9v.01M386.5 310.4v.01M386.4 351.4v.01M387.8 354.4v.01M388.6 313.7v.01M390.5 316.2v.01M390.3 316.3v.01M390.4 316.4v.01M391.1 357.9v.01M391.4 318.8v.01M392.6 312.1v.01M393.3 317.4v.01M393 315.2v.01M392.8 351.3v.01M393.8 317.7v.01M394.1 318.6v.01M394.5 347v.01M395.5 351.8v.01M395.5 346.8v.01M395.4 347.5v.01M396 345.9v.01M397.4 310.3v.01M396.9 346.6v.01M397.7 309.6v.01M397.9 309.5v.01M398.8 351.5v.01M399.1 311.1v.01M398.6 348.2v.01M400.1 307.7v.01M399.6 314.5v.01M400.1 346.8v.01M401.2 350.5v.01M401.6 347.5v.01M401.9 346.9v.01M402.1 345.9v.01M404.5 344.2v.01M405.9 316.6v.01M406.2 314v.01M407.1 338.5v.01M407.9 317.7v.01M409.4 315.9v.01M409.1 326.3v.01M409.2 325.1v.01M410.5 309.6v.01M410.6 329v.01M410.8 327.6v.01M410.7 325.1v.01M412.9 332.3v.01M413.5 330.4v.01M414.3 335.8v.01M415.4 313.2v.01M417.4 313.5v.01M418.4 330.6v.01M418.1 335.7v.01M419.1 313.9v.01M419.2 313.3v.01M418.8 327.8v.01M419.1 328.4v.01M420.3 306.8v.01M420.5 313.8v.01M419.6 313.2v.01M421.2 329.6v.01M421.4 326.2v.01M422.9 306.6v.01M422.5 323.4v.01M423.9 332.5v.01M424.1 327.8v.01M425.3 303.6v.01M424.5 311.3v.01M424.9 308.2v.01M425.3 325.1v.01M425.4 331.8v.01M425 329.8v.01M425.9 303.9v.01M427.2 331.1v.01M429.1 339.7v.01M431 341.2v.01M431.8 347.3v.01M432.8 273.9v.01M432.9 347.8v.01M433.6 355.1v.01M435.4 274.7v.01M435.2 354.3v.01M435.8 276.9v.01M435.6 357v.01M435.6 362.7v.01M436.7 364.9v.01M436.7 364.9v.01M439.5 291.1v.01M439.1 362.9v.01M439.9 363v.01M440.1 363.6v.01M439.9 365.3v.01M440.2 361.1v.01M442.1 292.1v.01M442.5 282.5v.01M442.4 359.7v.01M443.5 279.3v.01M442.5 362.5v.01M442.8 285.5v.01M443.4 290.5v.01M442.8 280.5v.01M445.2 286.8v.01M446.3 292.3v.01M445.8 283.6v.01M446.9 280.2v.01M449.3 289.1v.01M448.6 287.8v.01M450.1 289v.01M450.7 289.6v.01M451.6 294.8v.01M452.2 297.4v.01M453.6 293.5v.01M455.3 377.3v.01M456.4 303v.01M456.6 381v.01M457.9 293.1v.01M458.2 382v.01M459.3 386.8v.01M459.6 292.9v.01M459.6 299v.01M460.1 289.6v.01M461.1 393.6v.01M462.2 287.9v.01M462.2 381.4v.01M461.6 387.5v.01M464.2 371.2v.01M464.2 371.1v.01M464.4 381.2v.01M465.4 294.2v.01M464.5 289.3v.01M465 289.4v.01M465 290.2v.01M466.5 290.2v.01M467.1 390.5v.01M466.7 379.2v.01M467.5 358.1v.01M468.4 376.2v.01M469 363.7v.01M469.2 289.5v.01M469.3 287v.01M469.4 362.2v.01M469.4 356.8v.01M469.8 278.4v.01M470.8 365.3v.01M471.4 375.4v.01M472.2 295.2v.01M471.6 286.9v.01M472.3 393.4v.01M473.1 366.7v.01M473.1 373.2v.01M473.3 383.3v.01M473.2 373v.01M472.7 375.3v.01M473.4 374.1v.01M473.3 373.4v.01M473.3 382.7v.01M473.2 377.6v.01M473.9 374.6v.01M475.1 370.6v.01M474.8 382.5v.01M475.9 373.5v.01M476.3 295.4v.01M475.5 305v.01M476.3 293.6v.01M476.1 369.6v.01M476.4 366.5v.01M476.1 387.7v.01M477.2 294.2v.01M476.7 385.8v.01M477.6 395.1v.01M478.4 408.5v.01M479.1 392.7v.01M479 408.8v.01M479.1 387.1v.01M478.9 410v.01M478.9 385.8v.01M480.4 416.7v.01M480.9 387.6v.01M480.9 391.3v.01M482.1 290.7v.01M481.9 293.8v.01M482.6 295.2v.01M483.5 398.3v.01M483.3 402.9v.01M483.1 397.3v.01M484.5 393.7v.01M484.4 400.6v.01M484.2 420.5v.01M484.9 390.7v.01M484.6 391.7v.01M484.5 399.1v.01M485.1 398.7v.01M486 399.4v.01M486.1 305.8v.01M486.4 387.9v.01M487.2 393.2v.01M487.2 305.1v.01M486.8 393.7v.01M488 301.2v.01M489 299.3v.01M488.7 295.6v.01M488.8 396.4v.01M488.8 399.5v.01M489.3 421v.01M489.5 404.7v.01M491.1 403.1v.01M490.5 412.5v.01M492.5 286v.01M492.5 285.7v.01M492.1 404.8v.01M492.2 401.7v.01M493.4 398.2v.01M492.6 394.4v.01M493.2 409.6v.01M493 417.4v.01M494 289.9v.01M494.4 406.9v.01M495.3 296.9v.01M495.3 289.8v.01M496.2 433.6v.01M496.7 290.7v.01M496.9 409.5v.01M497.7 415.8v.01M498.1 415.2v.01M498.8 293v.01M498.9 402.1v.01M499.8 403.2v.01M500 298.8v.01M500.3 293.6v.01M500.2 390.3v.01M500.3 399.1v.01M499.7 425.5v.01M499.8 427.2v.01M501.4 294v.01M500.6 302.2v.01M501.4 395.2v.01M502.2 399v.01M501.6 404.1v.01M502 400.2v.01M502 402.7v.01M502.5 399.7v.01M504.4 402v.01M504.2 301.9v.01M504.2 298.9v.01M505.2 299.9v.01M505 413.9v.01M505.9 294.9v.01M505.8 301.2v.01M506 420.4v.01M506.8 397v.01M507.2 300v.01M506.5 387.6v.01M507.4 388.9v.01M506.5 403.6v.01M508.2 406v.01M508.1 407.7v.01M507.7 412.3v.01M509.5 386v.01M509 418.6v.01M508.9 395.2v.01M509.1 409.4v.01M510.2 420v.01M511.4 307.4v.01M511.2 388.8v.01M511.2 391v.01M511.1 405.7v.01M510.5 395.2v.01M512.2 301.9v.01M512 390.3v.01M511.8 403.3v.01M512 415.4v.01M512.6 395v.01M513.8 315.4v.01M513.9 385.3v.01M514.3 390.4v.01M514.5 393.5v.01M516.4 422v.01M516.5 413.5v.01M515.6 392.4v.01M517 320.3v.01M517.4 393.7v.01M518.1 409.3v.01M517.8 401.6v.01M518.7 386.2v.01M518.9 389.5v.01M519.5 393.8v.01M520.2 311.7v.01M519.8 392.4v.01M520.4 384.2v.01M519.9 305.8v.01M519.8 419.3v.01M520 408.2v.01M520.4 409.7v.01M521 303.2v.01M521 303.3v.01M520.9 388.6v.01M520.8 385.9v.01M521.5 392.9v.01M521 395.8v.01M522.1 301.5v.01M521.8 393.4v.01M522.2 388.4v.01M521.7 421.1v.01M521.9 400.6v.01M523 404.6v.01M523.4 402.8v.01M524.4 295.4v.01M524.2 383.9v.01M523.9 388.7v.01M524.5 393.4v.01M525.3 397.5v.01M524.9 390.3v.01M525.3 395v.01M525.5 392.4v.01M527 388.7v.01M527.2 391.8v.01M527.1 404.2v.01M527.9 292.8v.01M529.4 290.4v.01M530.3 308.7v.01M529.9 304.1v.01M530.4 407.9v.01M530.3 408.3v.01M530.6 304.9v.01M531.3 403.7v.01M530.8 411.9v.01M531.2 411.5v.01M531 438.2v.01M531.6 411.6v.01M532.5 302.5v.01M532.1 441.6v.01M532.3 428.8v.01M532.7 409.2v.01M532.9 415v.01M534.3 411.3v.01M533.7 300.5v.01M534.2 409.1v.01M534.1 295.3v.01M534 429.9v.01M533.5 428.6v.01M535.4 296.5v.01M534.5 412.1v.01M535.3 409.8v.01M535.9 289.5v.01M535.6 408.9v.01M535.5 298.9v.01M536.2 406.8v.01M536.6 407.9v.01M537.3 404.3v.01M538.3 407.9v.01M538.4 293v.01M538.2 422.7v.01M538.4 412.2v.01M538 409.8v.01M537.7 412.7v.01M539.1 287.1v.01M539.2 407.9v.01M539.4 287.4v.01M538.8 405.9v.01M538.9 407.7v.01M539.9 287.6v.01M542.2 402v.01M542.5 275.4v.01M543.4 395.4v.01M543.3 392.9v.01M544.4 387.3v.01M545.3 394.6v.01M545.3 407.4v.01M546.1 273.4v.01M549.2 392.4v.01M549.7 265.8v.01M550.1 391.7v.01M549.6 388.9v.01M550.7 388.4v.01M552.2 387.8v.01M552.3 275v.01M551.7 274.7v.01M551.6 386v.01M552.5 388v.01M553.5 393.6v.01M554.7 388.9v.01M555.4 398v.01M555 386.5v.01M555.5 271.1v.01M555.6 383.7v.01M556.2 396.9v.01M556.9 391.4v.01M557.7 385.4v.01M558.1 382.6v.01M557.7 393v.01M559.3 272.6v.01M559.5 401.4v.01M559.1 389.7v.01M558.7 392.1v.01M559 389.8v.01M559.3 390.7v.01M559.7 391.7v.01M560.4 282.4v.01M559.6 397.7v.01M560.8 260.2v.01M560.9 409.5v.01M560.7 405.5v.01M561.7 270.7v.01M562 271.6v.01M561.7 392.8v.01M563.4 280.8v.01M562.7 382.5v.01M562.8 395.2v.01M562.6 413.4v.01M562.7 416v.01M562.7 413.3v.01M563.4 398.9v.01M564.2 411.3v.01M564 426.6v.01M565 392.4v.01M564.7 278.1v.01M564.6 383.1v.01M565.5 256.2v.01M564.9 416v.01M566.2 276.7v.01M565.6 393.8v.01M566 400.4v.01M566.2 391.1v.01M566.3 424.1v.01M566.4 393v.01M566.9 381.5v.01M567 416.8v.01M567.5 414.5v.01M566.7 391.5v.01M567.4 421.2v.01M568.5 288v.01M568 283.9v.01M568.1 392.1v.01M568.8 273.3v.01M568.7 272.5v.01M569.4 391.1v.01M570 279.3v.01M569.7 248v.01M570.4 252.9v.01M570 400.2v.01M570.7 394.5v.01M570.9 260.7v.01M571.1 384v.01M571.3 253v.01M572.1 395v.01M572.3 401v.01M573.4 424.9v.01M573 419v.01M574.1 254.6v.01M573.9 234v.01M573.9 392.3v.01M573.9 412.1v.01M574.5 268.6v.01M575.2 384v.01M575.3 397.1v.01M575.2 404.8v.01M574.5 413.2v.01M575 399.5v.01M574.9 398.8v.01M576.5 258.3v.01M576.3 264.7v.01M576 244.7v.01M575.5 398.6v.01M576.3 388.5v.01M576 388.4v.01M575.8 408.6v.01M576 407v.01M577.2 387.2v.01M578.5 386.5v.01M578.4 261.8v.01M577.8 380.3v.01M579.3 387.2v.01M578.8 387.9v.01M578.8 389.7v.01M579.6 388.5v.01M579.8 258.4v.01M579.9 259.2v.01M580.1 239.8v.01M580.5 253v.01M579.5 399.4v.01M579.8 389v.01M579.9 424.5v.01M580.8 262.8v.01M582.1 377.3v.01M582.4 379.8v.01M582.1 421.1v.01M582.8 382.3v.01M582.9 383.2v.01M582.9 414.6v.01M583 387.1v.01M583.9 386.8v.01M583.7 412v.01M584.5 261.5v.01M585.3 273.1v.01M585.1 384.6v.01M584.8 407.5v.01M584.6 416v.01M585.9 259.1v.01M585.9 392.4v.01M585.6 411.6v.01M586.6 274.8v.01M586.7 272.5v.01M586.6 268.9v.01M586.7 262.4v.01M587 262.8v.01M587.5 396.8v.01M586.7 410.5v.01M588.4 262.4v.01M587.9 404.9v.01M587.8 413.1v.01M588.8 387.9v.01M589.8 270.2v.01M589.7 389.6v.01M589.6 389.7v.01M590 390.1v.01M591 375.2v.01M591.1 383v.01M590.9 263.4v.01M591 406.7v.01M590.6 402.1v.01M591.9 273.7v.01M592.2 267.7v.01M592 275.3v.01M592 375.9v.01M591.7 385.9v.01M592.4 391.9v.01M594.2 265.3v.01M594.8 275.9v.01M595.4 399.1v.01M595.2 371.5v.01M594.7 374.2v.01M595.3 381.7v.01M595.7 270.8v.01M596.1 269.5v.01M596.4 262.3v.01M596.4 383.4v.01M595.8 368.2v.01M595.6 387.4v.01M596.3 377.6v.01M597 359.6v.01M596.8 391.6v.01M596.5 396.9v.01M596.5 399.2v.01M596.9 377.1v.01M598.3 368.2v.01M597.9 256.7v.01M597.6 381.3v.01M597.6 366.2v.01M598.7 248.4v.01M599.3 245.4v.01M599.5 391v.01M599.2 380.2v.01M599.4 366.6v.01M598.6 389v.01M600.3 256.1v.01M599.9 253.5v.01M600 380v.01M600 396.9v.01M599.7 363.4v.01M601.4 250.1v.01M601 261.3v.01M601.3 353.6v.01M601.5 359.7v.01M601.5 399.1v.01M602 365.9v.01M602.5 265.1v.01M602.1 364.7v.01M602 359.5v.01M603.3 274.3v.01M602.5 254v.01M603.2 382.7v.01M602.7 365.8v.01M604.4 370.4v.01M603.6 246.5v.01M605.5 261.9v.01M604.5 371v.01M604.9 399.7v.01M604.6 370.4v.01M605.8 266.9v.01M606.1 275.2v.01M606.4 394.8v.01M606 369.2v.01M605.6 370.7v.01M607.4 268.9v.01M607.4 365.4v.01M607.3 374.7v.01M607.2 391.7v.01M608.4 270v.01M608.1 397.8v.01M607.8 372.8v.01M607.6 382.5v.01M607.6 372.5v.01M608.7 267.6v.01M609.2 276v.01M609.2 266.9v.01M608.7 392v.01M608.5 383.6v.01M608.7 390.4v.01M610 282.4v.01M609.7 283.8v.01M609.9 414v.01M610.4 401.8v.01M610.2 377.9v.01M609.7 377.8v.01M611.4 268.4v.01M611.1 371.9v.01M611 392.2v.01M611.8 381v.01M612.5 281.8v.01M611.8 259.2v.01M612.3 388.5v.01M613.1 387.4v.01M613.4 380.4v.01M613.2 391.3v.01M613.2 383.8v.01M612.7 380.8v.01M613 411.3v.01M613.6 380.7v.01M614.5 381v.01M615.2 379.5v.01M615 415.3v.01M615.6 273.5v.01M615.9 374.1v.01M616.3 377.4v.01M617.4 378.4v.01M616.9 275.9v.01M616.6 373.1v.01M617.2 406v.01M617.1 381v.01M616.8 376.7v.01M617.1 401.1v.01M616.6 376.2v.01M617 378.8v.01M618.6 266v.01M618.9 370.7v.01M619 373.5v.01M618.9 372.2v.01M620.1 277.5v.01M620.4 370.4v.01M619.5 257.4v.01M621.4 367.7v.01M621.2 370.8v.01M620.8 377.1v.01M621.3 384.1v.01M620.9 390.2v.01M622.3 369.9v.01M621.8 378.9v.01M621.7 387.8v.01M621.7 375.4v.01M622.8 271.8v.01M623.3 273.4v.01M623.4 362.5v.01M623.4 366.6v.01M623.1 255v.01M622.7 380.5v.01M623.1 375.7v.01M622.6 371.5v.01M623.8 264.5v.01M623.8 361.6v.01M625.5 253.7v.01M625.2 250.3v.01M624.8 404v.01M625.1 375.1v.01M626.1 261.2v.01M626 235.2v.01M625.7 240.9v.01M626.2 375v.01M625.7 386.6v.01M625.7 373.5v.01M627.5 268.7v.01M627 373.1v.01M628.1 250v.01M628.4 388.6v.01M628.1 369.7v.01M627.6 386.2v.01M628.6 268.5v.01M629.1 388v.01M630.3 361.1v.01M630 368.4v.01M629.8 368.7v.01M630.1 397.9v.01M631.1 252.8v.01M630.5 265.6v.01M631.1 257.8v.01M630.5 384.6v.01M631.1 367.7v.01M632.2 253.1v.01M632 367.2v.01M632 376.5v.01M631.5 378v.01M632.9 390.8v.01M634.3 271.1v.01M633.6 354.8v.01M634.4 357.4v.01M634.1 352.8v.01M634 374.5v.01M634 369.1v.01M634.6 251.8v.01M635.5 351.4v.01M635.4 362.8v.01M635.2 381.2v.01M634.8 358.2v.01M636 348.5v.01M636.4 245.2v.01M635.6 372.5v.01M637.1 345.1v.01M637.5 250.1v.01M636.7 369.4v.01M636.5 353.8v.01M637.2 373.3v.01M636.6 355.9v.01M636.8 373.5v.01M638 247.9v.01M638.4 348.9v.01M638.1 263.5v.01M637.9 346.7v.01M637.5 344.6v.01M638.4 355.9v.01M637.5 366.8v.01M637.7 351.2v.01M637.8 350.6v.01M639.2 246v.01M639.4 366.8v.01M638.7 363.5v.01M639.3 358.3v.01M640.3 251.4v.01M641.2 339.3v.01M640.6 242.2v.01M640.6 355.1v.01M641.7 343.5v.01M641.9 239v.01M641.8 339.7v.01M643 345v.01M643 339.7v.01M642.7 225.7v.01M643.9 237.4v.01M644.3 234.8v.01M644.1 347v.01M644 361.9v.01M643.6 346.4v.01M645.2 346.6v.01M644.9 376.8v.01M646.2 224.6v.01M646.2 235v.01M646.9 222.5v.01M647 229.4v.01M647.3 345.5v.01M646.9 346.2v.01M646.6 370.8v.01M648.4 211.1v.01M648.6 376.4v.01M649 361v.01M649 354.9v.01M649.5 343.2v.01M649.8 226.9v.01M650 235.9v.01M650.2 224.7v.01M650.5 363.1v.01M650.2 367.1v.01M650.9 223.4v.01M651.4 225v.01M651 202.3v.01M651 365v.01M652.3 343.8v.01M652.2 346.2v.01M653.2 215.7v.01M653.7 219.9v.01M653.8 222v.01M654.4 344.3v.01M653.6 332.3v.01M654.2 332.1v.01M654.8 200.9v.01M654.8 335.1v.01M654.9 344.5v.01M655.2 342.9v.01M656.4 219.2v.01M656.1 222.8v.01M655.6 220.1v.01M655.7 340.6v.01M657.3 237.6v.01M657.1 325.7v.01M656.5 348.9v.01M658 222.4v.01M658.4 237.6v.01M658 331.5v.01M657.6 335.9v.01M658.2 335.1v.01M658.7 360.9v.01M659 349.3v.01M658.9 333.7v.01M660.1 238.6v.01M660.2 218.5v.01M660 333v.01M661.4 222.7v.01M660.9 234.6v.01M660.8 345.6v.01M661.1 367.5v.01M662 334.7v.01M662 222.9v.01M661.7 215.8v.01M662.3 334v.01M661.6 364v.01M661.9 333.9v.01M662.5 238.6v.01M662.7 230.7v.01M663.2 356.3v.01M663.4 357.8v.01M663.8 229.6v.01M664.1 222.6v.01M663.7 226v.01M664.5 365.1v.01M664.7 227.6v.01M665.5 235.6v.01M664.7 336.3v.01M664.9 350.3v.01M665 337v.01M665.2 363.6v.01M666.1 237.7v.01M665.6 233.2v.01M666.5 355.1v.01M665.9 350.3v.01M667 252.3v.01M667.4 246.4v.01M666.8 241.1v.01M666.6 325.1v.01M666.8 332v.01M667.2 333.1v.01M666.9 339.7v.01M667.3 332.8v.01M666.7 332v.01M668.3 332v.01M668.2 245.8v.01M668.1 225.2v.01M667.8 361.1v.01M668.1 349.9v.01M667.9 351.3v.01M669.1 326.8v.01M668.8 250.4v.01M669.3 323.8v.01M670.1 235.3v.01M669.9 322.9v.01M670.2 335.2v.01M670.2 355.5v.01M670.3 335v.01M669.5 358.5v.01M670.3 342v.01M671.4 239.7v.01M671.2 320.9v.01M671.1 320.3v.01M671.3 327.7v.01M670.5 323v.01M671.1 359.4v.01M671.4 355.5v.01M672.3 232v.01M671.6 234v.01M671.7 331.3v.01M673.2 237v.01M672.6 330v.01M673.1 322.8v.01M673.6 331.3v.01M673.8 253.9v.01M674 332.3v.01M674.1 349.6v.01M675.3 248.1v.01M674.5 243.1v.01M675.2 326.6v.01M675.3 235.4v.01M675 240.1v.01M675.2 349.9v.01M675.6 262.9v.01M675.7 259.5v.01M676 358.8v.01M676.6 268.1v.01M676.7 341.1v.01M678.3 266.9v.01M678.2 374.4v.01M679.3 341.3v.01M680.3 346.4v.01M679.7 339.4v.01M679.8 262.7v.01M680.2 368.2v.01M679.8 351.6v.01M680.3 345.4v.01M680.8 266v.01M681.3 343.8v.01M682.5 350.4v.01M681.6 349.7v.01M683 268.3v.01M682.6 344.5v.01M683.6 348.6v.01M683.7 342.6v.01M684.7 267.3v.01M684.6 270.6v.01M684.7 356.3v.01M684.7 342.6v.01M687.2 344.7v.01M686.9 361.8v.01M688.3 269.2v.01M687.6 269.4v.01M689 344v.01M691.1 276.6v.01M691.8 345.5v.01M693.2 346.6v.01M693.6 349.2v.01M694.7 283.4v.01M694.7 341.1v.01M703 277.5v.01M703.5 282.6v.01M703.5 356v.01M706.1 282.5v.01M706.2 358.5v.01M707.8 277.9v.01M708.4 364.8v.01M708 358.1v.01M708.7 279.4v.01M708.6 277v.01M709.6 276v.01M710.4 355.6v.01M710.5 349.2v.01M710.6 282.8v.01M710.9 279.9v.01M711.4 342.6v.01M712.1 350v.01M712 280.8v.01M712.5 345.8v.01M711.6 341.8v.01M712.7 347.9v.01M714.4 281v.01M714.5 276.2v.01M714.8 340.8v.01M715.9 276.2v.01M716.2 280v.01M717 276.2v.01M716.8 277.3v.01M716.9 344.6v.01M717.7 271.5v.01M717.7 274.8v.01M717.8 349.4v.01M720.8 270.4v.01M722.2 270.5v.01M722.2 273.6v.01M721.7 276.7v.01M722.2 273.9v.01M721.6 358.2v.01M722.6 270.2v.01M722.7 355v.01M724.6 266.3v.01M725.3 270v.01M724.9 268.3v.01M725.3 343.4v.01M725.2 343.2v.01M724.5 346.5v.01M726.2 272.7v.01M726 344.2v.01M726.4 344.5v.01M727.1 349.6v.01M731.3 352.9v.01M730.6 272.8v.01M731.7 351.3v.01M733 267.5v.01M732.8 339.7v.01M733.5 273.8v.01M733.8 268.5v.01M735.2 267.9v.01M735.5 267v.01M735 271v.01M735.8 335.4v.01M736.2 270.5v.01M736.4 332.8v.01M737.1 259.8v.01M737 332.9v.01M737.2 264.6v.01M737.1 326.4v.01M738.2 258.3v.01M738.1 328.1v.01M738.8 254.3v.01M739 254.5v.01M738.9 322.4v.01M739.3 325.6v.01M739.6 318.8v.01M739.9 318.8v.01M740 318.9v.01M740.8 246.9v.01M741.4 317.2v.01M742.4 245v.01M741.7 249.1v.01M741.9 248.8v.01M743.4 241.2v.01M742.7 320.1v.01M743.3 316.1v.01M742.9 315.2v.01M744.4 251.5v.01M744.3 247.1v.01M743.7 244.9v.01M744.5 247.4v.01M744.6 247v.01M744.9 314.6v.01M744.9 314.7v.01M745.3 311.9v.01M747 315.6v.01M747.6 318.6v.01M747.5 252.3v.01M748.8 253.5v.01M748.5 250.4v.01M749.4 311v.01M749.8 254.1v.01M750.5 311.3v.01M749.6 306v.01M750.7 249.2v.01M750.8 306.1v.01M751.4 305.1v.01M752.6 255.9v.01M753 254.5v.01M753.2 304.7v.01M755.4 300.6v.01M755.2 304.4v.01M757.5 304.8v.01M759.2 266.8v.01M759.2 263.5v.01M759.7 308.3v.01M759.7 307.8v.01M760.9 269.3v.01M762.3 310.4v.01M762.4 270.1v.01M761.5 311.8v.01M762.8 266.6v.01M763.6 273.9v.01M764 313.1v.01M765 312.2v.01M766 265.3v.01M766.2 265.2v.01M767.2 264.4v.01M766.6 269.7v.01M768 302.7v.01M768.7 268.9v.01M769.4 267.7v.01M768.6 302.9v.01M768.8 304.2v.01M769.5 311.7v.01M769.9 270.6v.01M770.4 312.6v.01M770.4 308.9v.01M770.5 309.8v.01M771.4 310.9v.01M770.7 309.8v.01M771.8 276.8v.01M772.4 313.1v.01M773.4 278.2v.01M773.1 280.3v.01M773 314.4v.01M772.8 312.6v.01M773.8 314.9v.01M774.5 279.6v.01M775.7 276.3v.01M776.6 278.2v.01M777 280.9v.01M777.4 305.4v.01M777.6 313.4v.01M778.4 273.2v.01M778.7 274.1v.01M779.7 305.7v.01M779.7 310.9v.01M781 309.4v.01M782 283.9v.01M782.6 275.9v.01M783 284.7v.01M783.4 280v.01M784 313.5v.01M784.8 316.3v.01M784.8 277.7v.01M784.9 310.8v.01M786.3 317.1v.01M786.3 310.6v.01M787.1 281.3v.01M788.4 284.4v.01M787.7 318v.01M789.2 286.6v.01M789.7 292.9v.01M790.4 290.3v.01M789.6 295.1v.01M790.1 316.4v.01M790.6 290v.01M791.9 289.7v.01M792.2 291.5v.01M792.3 313.2v.01M793.4 285.4v.01M793.5 321.3v.01M794.3 283.8v.01M793.9 311v.01M794.1 313.5v.01M794.6 321.4v.01M794.7 314.3v.01M796.2 272.9v.01M797.5 323.7v.01M797.9 319.3v.01M798.6 322.4v.01M799.5 267.2v.01M798.6 319.6v.01M798.8 321.8v.01M800.2 264.8v.01M799.6 265.3v.01M800.2 268.1v.01M801.4 323.1v.01M800.8 268.9v.01M801.4 318.7v.01M802 269.8v.01M802 314.5v.01M802.5 322v.01M803.3 323v.01M803.2 271.2v.01M803.6 324v.01M805.2 324.6v.01M807.1 280.4v.01M807.4 283v.01M806.8 279.9v.01M807.4 278.8v.01M807.8 277.6v.01M807.6 280.1v.01M809.2 284.3v.01M809 319.1v.01M810.4 283.2v.01M809.8 324.6v.01M810.9 325.4v.01M811 315.5v.01M812.3 284v.01M811.8 283.2v.01M813.6 278.4v.01M813.5 313v.01M815 273.2v.01M815.8 266.6v.01M816.6 318.2v.01M817.5 259.8v.01M819.7 254.1v.01M820 313.3v.01M820.1 320.4v.01M820.8 315.8v.01M820.7 313.6v.01M821.4 314.4v.01M820.5 315.7v.01M822.2 249.4v.01M822.5 252.7v.01M822.9 257.1v.01M824.3 307.3v.01M825.3 256.1v.01M825.6 308.6v.01M826.6 319.7v.01M826.6 317.8v.01M827.2 312.7v.01M828.8 254.7v.01M829.6 321.5v.01M829.9 317.5v.01M832 322.1v.01M832.1 262.5v.01M833.2 259.7v.01M833.5 322.6v.01M832.8 315.4v.01M834.1 320.7v.01M834.3 313.6v.01M834.7 320.5v.01M834.8 268.4v.01M835.7 269.5v.01M836.4 275.2v.01M836.2 269.9v.01M837 269.5v.01M836.9 271.1v.01M839.3 272.7v.01M841.1 321.9v.01M841.2 313.8v.01M842.3 279.1v.01M842.4 277v.01M841.9 314.8v.01M843.1 319.3v.01M844.4 275.6v.01M843.9 273.2v.01M845.2 318.7v.01M844.7 277.3v.01M845.1 317.7v.01M846.5 282.3v.01M846.7 278.3v.01M846.9 278.2v.01M847.3 311.6v.01M848.3 322.4v.01M848.3 281.7v.01M848.8 287.4v.01M848.9 316v.01M850.3 317.9v.01M850.9 322.4v.01M850.7 316.5v.01M852.4 283.8v.01M852.4 321.2v.01M853.3 281.5v.01M853.2 279.7v.01M852.8 285.1v.01M853.5 278.2v.01M855.3 280.5v.01M855.1 320.4v.01M854.7 322.4v.01M856.3 321.6v.01M855.5 322.7v.01M856.4 320.5v.01M856.7 329.6v.01M857.2 283.7v.01M856.9 283v.01M856.5 323.6v.01M857.9 283.1v.01M859 283.8v.01M858.8 320.8v.01M859.7 283.3v.01M859.7 283.9v.01M860.9 324.5v.01M862.2 291.8v.01M863.4 322.9v.01M864.9 324.6v.01M866.2 318.8v.01M865.6 325.4v.01M866.8 284.1v.01M866.5 285.1v.01M867.3 325.5v.01M867.8 283.5v.01M867.9 289.8v.01M868.8 288.7v.01M869.1 318.6v.01M869.6 282.7v.01M869.8 329.7v.01M869.8 319.1v.01M873.8 283.4v.01M874.3 283.7v.01M874 290.1v.01M873.7 288.8v.01M875.6 322.3v.01M878.4 290.6v.01M879.1 322.4v.01M879.9 287.9v.01M880 291.6v.01M879.9 323.1v.01M882.1 289.7v.01M882.5 289.2v.01M883.2 286.2v.01M883.2 288.6v.01M882.8 287.1v.01M882.7 323.8v.01M884.2 286v.01M883.6 289.4v.01M884 325.3v.01M886 329.3v.01M886.1 290.2v.01M885.8 322.7v.01M887 286.6v.01M887.3 286.1v.01M888.4 284.5v.01M887.7 327.6v.01M888.1 292.6v.01M887.7 286.2v.01M888.2 286.9v.01M888.1 321.6v.01M887.9 327v.01M888.7 291.9v.01M890.5 328.5v.01M890.9 287.6v.01M891.2 289.5v.01M892.6 282.7v.01M893 319.4v.01M892.6 321.9v.01M894.1 286.2v.01M895.1 291.6v.01M895.5 320.7v.01M894.6 322v.01M896 289.5v.01M896 289.1v.01M895.6 291.8v.01M895.8 320.3v.01M897.4 317.9v.01M897.9 282.2v.01M898 315.4v.01M899 273.2v.01M899 278v.01M899.7 277.8v.01M900.2 276.9v.01M900.4 322.5v.01M900.7 276.5v.01M900.9 282.8v.01M900.9 319.2v.01M901.6 277v.01M901.7 328.4v.01M902.1 328.9v.01M903.3 278.9v.01M903.5 333v.01M904.7 339.5v.01M904.5 340.1v.01M906.4 336.9v.01M907 293.5v.01M906.7 297.5v.01M906.7 335.5v.01M907 332.7v.01M907.1 333.5v.01M907 329.7v.01M907.8 291.5v.01M908.1 295.8v.01M907.8 331.3v.01M909.4 295.7v.01M909 325.3v.01M908.8 331.2v.01M909.9 327.4v.01M911.4 289.6v.01M910.6 332.2v.01M911.5 330.7v.01M910.6 324.6v.01M911.4 329.7v.01M911.9 333.6v.01M911.6 327.8v.01M912.4 331.8v.01M913.7 291.8v.01M914.2 292.6v.01M915.4 287v.01M915.6 291.4v.01M916.3 328.4v.01M915.9 333.8v.01M920.5 322.3v.01M921.8 291.9v.01M922.6 290.5v.01M925.4 352.9v.01M925.1 293.9v.01M924.5 344.2v.01M925.7 364.1v.01M927.4 348.8v.01M927.6 342.5v.01M927.9 336.2v.01M929.1 295.6v.01M929.2 322.9v.01M932.2 335.6v.01M933.3 286.4v.01M933.2 338.9v.01M932.5 298v.01M933.2 294.5v.01M933.7 297.8v.01M934.5 289v.01M935.5 293.7v.01M935.5 330.7v.01M935.1 331.8v.01M935.7 288.2v.01M936 327.7v.01M936.6 299.3v.01M937 296.8v.01M937.4 295.2v.01M939.1 301v.01M939 298.1v.01M938.8 336.4v.01M940.5 301.3v.01M940 299.7v.01M940.1 296.5v.01M940.3 334.2v.01M941 302.1v.01M941.7 334.3v.01M943.3 339.3v.01M943.9 337.2v.01M944.9 291.9v.01M945 332.7v.01M945.7 294.5v.01M945.5 333.9v.01M946.6 301v.01M947.5 345.3v.01M948.3 292.5v.01M948.4 333.8v.01M950.2 338.2v.01M950 339.8v.01M950.9 300.9v.01M950.6 339.8v.01M952.4 298.1v.01M952.3 331.1v.01M953.4 334.1v.01M953.5 301.3v.01M953.9 303.5v.01M954.4 337.1v.01M953.9 338.3v.01M954.3 335.9v.01M954.9 299.7v.01M955.3 303.8v.01M954.9 305.5v.01M955.3 332.3v.01M954.9 331v.01M954.6 332.9v.01M955.9 339v.01M956.1 308.9v.01M957.1 342.8v.01M956.8 299.8v.01M957 338.2v.01M956.9 333.7v.01M956.6 330.3v.01M957.5 294.9v.01M957.8 297.3v.01M959.1 294.2v.01M958.9 303v.01M959.3 331.1v.01M959.7 298.6v.01M960.4 304.2v.01M960.8 295.4v.01M961.3 332.7v.01M961.3 331.6v.01M961.3 323.6v.01M961.8 297v.01M961.6 332.1v.01M962.4 297.8v.01M962.3 303.7v.01M962.8 299.9v.01M963.2 308.7v.01M962.8 300.4v.01M962.9 318.8v.01M962.6 318.6v.01M963.7 308v.01M964.1 321.2v.01M964 322.4v.01M964.2 319.1v.01M964.7 323.8v.01M964.6 302.6v.01M965.3 305.3v.01M966.4 297.3v.01M966.3 323.9v.01M967 294.9v.01M966.8 330v.01M968.2 333.4v.01M968 335.6v.01M968.1 329.1v.01M969.3 333.5v.01M969.7 292.4v.01M971.5 288.9v.01M971.3 323.3v.01M971.3 324.2v.01M971.8 335v.01M972.2 289.1v.01M971.7 284.7v.01M972.6 336.8v.01M972.9 333.2v.01M973.6 339.6v.01M975.3 346.6v.01M974.9 280.6v.01M976 343.1v.01M975.6 346.7v.01M976.8 346.5v.01M976.7 341v.01M977.4 341.9v.01M978.3 343.2v.01M978.8 266.8v.01M978.8 341.1v.01M978.8 275.4v.01M978.8 270.5v.01M978.7 276.1v.01M980.4 339.1v.01M981.2 340.5v.01M980.8 334.4v.01M980.5 337.9v.01M981.9 333v.01M981.9 331.8v.01M981.7 332.3v.01M983.3 275.8v.01M982.7 279.1v.01M982.9 334.1v.01M982.8 330v.01M984.1 327.2v.01M984.6 332.1v.01M986.5 334.6v.01M985.9 287v.01M987.5 327.5v.01M989.3 329.6v.01M989.4 285.1v.01M989.9 283.6v.01M990.4 282.4v.01M990.8 330.7v.01M991.2 280.4v.01M991.7 273.7v.01M991.6 284.9v.01M991.7 278.9v.01M992.3 328.6v.01M992.3 324.3v.01M991.6 327.7v.01M992.3 323.7v.01M993.3 330.3v.01M994.1 329.2v.01M994 328.4v.01M994.5 287.7v.01M996.4 337.4v.01M996.7 335.7v.01M998.4 293.2v.01M998.5 340.1v.01M997.7 297.6v.01M998.3 336.4v.01M999.1 291.7v.01M999.2 295.8v.01M999 299.5v.01M999.3 299.3v.01M999.3 337v.01M998.6 338.4v.01M999.8 342.6v.01M999.8 338.6v.01M1000.8 287v.01M1003.8 300.7v.01M1004.2 339.4v.01M1003.6 339.1v.01M1004.9 310.8v.01M1005 308.2v.01M1004.9 342.3v.01M1006.3 349.1v.01M1007.4 308.2v.01M1006.5 336.9v.01M1007 347.4v.01M1008 306.6v.01M1008.1 310.7v.01M1007.9 344.7v.01M1009 303.1v.01M1008.6 307.1v.01M1008.8 305.1v.01M1008.7 338.7v.01M1010.3 336.8v.01M1010.8 336.5v.01M1012.4 341v.01M1012.4 306.1v.01M1012.2 330.6v.01M1013.1 296.5v.01M1014 335.8v.01M1014.1 302.8v.01M1014.4 330.1v.01M1013.7 327.7v.01M1015.3 291.7v.01M1014.9 299.2v.01M1015.2 300.1v.01M1014.7 323.8v.01M1015.4 329.6v.01M1016.2 293.8v.01M1016.4 332.9v.01M1016.2 298.4v.01M1016.7 328.7v.01M1017.1 321.5v.01M1017.9 329.6v.01M1017.7 288.2v.01M1018.1 321.7v.01M1018.3 325.2v.01M1019.1 283.8v.01M1018.9 321.6v.01M1019 316.5v.01M1019.2 315.6v.01M1019.9 287v.01M1020.4 322.7v.01M1019.9 325.1v.01M1021 284.8v.01M1020.7 287.8v.01M1021.5 325.5v.01M1022 327.8v.01M1022 292v.01M1021.5 292.1v.01M1022.4 282.7v.01M1022.8 273.8v.01M1023.1 325.5v.01M1022.7 317.8v.01M1023.6 274.9v.01M1025.5 270.8v.01M1025.1 269v.01M1025 316.9v.01M1025.7 334.4v.01M1026 330.8v.01M1026.9 279.5v.01M1026.8 336.1v.01M1027.1 329.4v.01M1026.7 332.9v.01M1027.8 285.3v.01M1027.7 337v.01M1030.4 285.7v.01M1030.1 339.8v.01M1030.2 292.6v.01M1030.1 334.5v.01M1030.1 330.2v.01M1029.9 340.3v.01M1031.1 340.4v.01M1030.8 292.5v.01M1030.5 335.7v.01M1031.9 292.6v.01M1032.9 340.5v.01M1032.7 298.2v.01M1033.3 295.1v.01M1034 297.6v.01M1035.4 294.4v.01M1036.1 293.2v.01M1036.2 300.4v.01M1035.6 334.1v.01M1036.8 295.6v.01M1036.7 331.2v.01M1038 330.4v.01M1037.9 335.4v.01M1038.6 298.1v.01M1038.9 329.9v.01M1039.1 337.3v.01M1039.5 292.3v.01M1040.2 290.9v.01M1040.6 287.5v.01M1041.3 293.9v.01M1040.6 338.7v.01M1042.2 344.7v.01M1043.4 286.5v.01M1043.2 298v.01M1042.8 344.3v.01M1043.8 291.4v.01M1044.7 291.7v.01M1045.3 339.4v.01M1045.7 292.1v.01M1046 294.8v.01M1046.4 298.8v.01M1047.3 300.7v.01M1047.6 290.8v.01M1048 297.2v.01M1047.8 335v.01M1048.9 340.6v.01M1048.7 291.4v.01M1049.2 329.5v.01M1049.2 331.7v.01M1049.5 293.7v.01M1051.5 301v.01M1052.2 306.5v.01M1051.9 306.9v.01M1053.3 338.5v.01M1053.5 341.7v.01M1053.5 304.9v.01M1054.1 334.2v.01M1054.9 301.8v.01M1055.3 340.4v.01M1055 333.2v.01M1055.8 298.6v.01M1057.1 298v.01M1057.9 343v.01M1057.7 297.2v.01M1058.5 295.3v.01M1059 297.6v.01M1059.5 295.3v.01M1058.7 338.2v.01M1060.5 293.7v.01M1060.5 286.1v.01M1061.1 341v.01M1060.7 296.1v.01M1060.6 337v.01M1061.2 333.6v.01M1062.8 338.4v.01M1062.9 331.5v.01M1063 333.3v.01M1064.2 288.6v.01M1063.7 330.7v.01M1064.7 281.8v.01M1066.4 331.9v.01M1065.9 284.7v.01M1067 287.2v.01M1068.5 284.5v.01M1068.1 287.9v.01M1067.9 317.4v.01M1068.3 323.3v.01M1068.7 285.5v.01M1069.9 331.6v.01M1070.3 291.3v.01M1069.6 293v.01M1070.1 329v.01M1071.7 290.1v.01M1072.4 295.9v.01M1072.9 337.1v.01M1073.6 328.5v.01M1075.5 296.2v.01M1074.9 298v.01M1075.2 301.4v.01M1074.5 299.3v.01M1075.2 323.7v.01M1076.4 295.2v.01M1075.5 297.5v.01M1075.7 300.7v.01M1075.6 329.4v.01M1076.4 335.4v.01M1075.6 333v.01M1077.4 300.1v.01M1078.5 297.7v.01M1078.6 302v.01M1079.1 302.2v.01M1078.7 333.8v.01M1078.5 337.1v.01M1079.6 300.4v.01M1080.3 331.2v.01M1081.4 341.4v.01M1080.7 297.6v.01M1081.1 296.9v.01M1081.2 339.9v.01M1081.2 329.7v.01M1081.2 336.5v.01M1081.7 300v.01M1082 332.8v.01M1083.8 341.7v.01M1084.3 337.7v.01M1085.3 301.6v.01M1086.3 342.6v.01M1087.1 333.8v.01M1087.6 303.3v.01M1087.8 339.2v.01M1087.5 340.7v.01M1089.1 302v.01M1088.6 335v.01M1089.2 342.3v.01M1090.4 341.3v.01M1090.8 301.8v.01M1091.9 290.4v.01M1092.4 302.8v.01M1091.9 295.3v.01M1093.2 290.6v.01M1093.4 300v.01M1092.9 300v.01M1092.6 300.1v.01M1093.7 337.8v.01M1094.7 291.2v.01M1095.1 332.5v.01M1094.8 333.9v.01M1094.6 333.9v.01M1096.2 295.2v.01M1095.8 291v.01M1097 294v.01M1096.7 338.2v.01M1098.5 341.9v.01M1099.1 299.3v.01M1099.3 337.8v.01M1099.8 341v.01M1100.3 339.2v.01M1099.9 341.5v.01M1101.4 336.2v.01M1102.2 290v.01M1102.5 327.2v.01M1101.7 325.7v.01M1103.3 290.6v.01M1103.2 328.3v.01M1103.6 332.9v.01M1104.3 295.8v.01M1103.6 328.8v.01M1104.1 319.9v.01M1105.4 327.2v.01M1106.4 289.8v.01M1106.1 327.6v.01M1108.1 292.2v.01M1108.8 297.6v.01M1109.1 296.4v.01M1109.5 289v.01M1110.2 290.5v.01M1110.2 334.3v.01M1110.2 343.8v.01M1111.3 337.1v.01M1112.8 344.6v.01M1112.6 296.2v.01M1113.4 295.4v.01M1113.2 339.3v.01M1113 336.4v.01M1113.2 336.2v.01M1113.2 341.8v.01M1113.8 294v.01M1114.2 341.4v.01M1114.3 330.9v.01M1114.3 334.7v.01M1115.2 290.1v.01M1114.7 291.1v.01M1115.2 292.3v.01M1116.2 341.3v.01M1117 342.1v.01M1117.2 297.5v.01M1117 333.5v.01M1117.9 289.1v.01M1117.9 342.6v.01M1119.1 292.5v.01M1120.4 334.5v.01M1120.1 340.5v.01M1121.2 341.1v.01M1120.5 298.1v.01M1122.1 291v.01M1122.5 337.3v.01M1122.3 295.4v.01M1121.7 299.7v.01M1122.1 330.4v.01M1123.2 292.7v.01M1123.5 295.9v.01M1124.5 300v.01M1123.5 332.3v.01M1125.7 302.8v.01M1127.4 294.5v.01M1127.4 334.8v.01M1126.6 340.5v.01M1128.4 297.1v.01M1127.6 341.7v.01M1129.4 345.4v.01M1129.8 309.9v.01M1129.8 351.8v.01M1130.8 348.1v.01M1130.7 312.4v.01M1130.9 347.9v.01M1131.7 305.8v.01M1131.7 341.9v.01M1133.1 302v.01M1132.8 335.9v.01M1133.1 334.6v.01M1133.9 343.1v.01M1133.6 299.3v.01M1134.3 342.9v.01M1134.4 338.2v.01M1134 343.7v.01M1134.9 296.4v.01M1134.6 292.1v.01M1135.1 347.3v.01M1136.4 351.1v.01M1138.2 289.5v.01M1138.4 339.4v.01M1138.2 346.6v.01M1139.5 287.3v.01M1139.4 291.3v.01M1138.8 292.4v.01M1139 342.2v.01M1140.4 290.9v.01M1139.7 298.3v.01M1140.4 338v.01M1140.5 294.4v.01M1140.6 342.5v.01M1141.3 347.5v.01M1140.6 340.8v.01M1141.3 339.2v.01M1141.9 354.4v.01M1142 349.1v.01M1142.7 295.2v.01M1143.2 301.8v.01M1144.4 359.7v.01M1144.6 356.5v.01M1145.5 303.8v.01M1145.9 295.9v.01M1147 361.3v.01M1146.6 295.1v.01M1147 356.5v.01M1148.2 290.1v.01M1147.6 358.5v.01M1147.7 295.3v.01M1147.8 295.1v.01M1149.4 359.5v.01M1148.7 296v.01M1148.7 349.4v.01M1148.9 347.6v.01M1149.6 354.1v.01M1149.6 346.3v.01M1151 337.6v.01M1152.3 292.1v.01M1151.7 333.6v.01M1152.1 340.2v.01M1152.2 334.4v.01M1152.8 296.7v.01M1152.8 295.8v.01M1152.9 332.6v.01M1152.7 331.9v.01M1154.3 328.6v.01M1154.5 340.7v.01M1154.6 301.7v.01M1157 298.1v.01M1157.4 329.3v.01M1158.2 301.9v.01M1158.5 339.6v.01M1157.7 330.6v.01M1158 339.5v.01M1158.9 334.7v.01M1159.3 336.9v.01M1159.1 331.3v.01M1160.2 303v.01M1160.1 332.6v.01M1159.9 335v.01M1160.1 342.7v.01M1160.5 343.4v.01M1161 303.1v.01M1161.2 305.8v.01M1160.8 338.5v.01M1164.2 295.9v.01M1164.2 347.5v.01M1165.1 353.5v.01M1168.9 314.7v.01M1169.9 363.2v.01M1170.3 313.8v.01M1169.5 351.2v.01M1170.8 318.4v.01M1170.6 363.1v.01M1170.7 360.2v.01M1172.3 315.9v.01M1171.9 317.9v.01M1172.2 318.6v.01M1172.8 320.1v.01M1173.2 364.7v.01M1172.6 363.8v.01M1174.2 351.9v.01M1174.7 319.1v.01M1176.4 355.3v.01M1175.8 311.9v.01M1176.1 314.7v.01M1175.8 344.2v.01M1176.3 351.9v.01M1177.3 347v.01M1177.2 343.7v.01M1177.5 302.2v.01M1177.6 340.8v.01M1179.3 311.1v.01M1178.9 333.8v.01M1179.6 301.8v.01M1179.6 327.8v.01M1180.7 329.1v.01M1182.7 341.8v.01M1182.7 303.4v.01M1182.9 332.5v.01M1184 299.3v.01M1183.9 302v.01M1183.6 307.7v.01M1183.5 329.9v.01M1184.4 337.4v.01M1185 308.4v.01M1186.2 339.5v.01M1186.3 341v.01M1186.4 332v.01M1185.7 339.5v.01M1186.8 299.3v.01M1187 345.1v.01M1187.9 303.9v.01M1187.7 342.9v.01M1187.6 343.3v.01M1187.7 341.8v.01M1187.9 343.3v.01M1189.3 344.9v.01M1188.9 341.9v.01M1191.1 337.6v.01M1192.6 302.2v.01M1193.4 343.7v.01M1193.9 342.5v.01M1193.6 341v.01M1195.3 298.4v.01M1194.8 307v.01M1194.5 302v.01M1194.6 338.1v.01M1194.5 336.1v.01M1195.4 338.8v.01M1196.5 345.5v.01M1196.1 309.6v.01M1197.2 348.1v.01M1197.8 345.5v.01M1198.4 311.1v.01M1200.4 305.4v.01M1200.4 335.1v.01M1201.3 301.8v.01M1201.2 304.4v.01M1200.5 341.1v.01M1200.9 338.2v.01M1201.5 342v.01M1203.3 296.8v.01M1203.1 334.1v.01M1202.8 334.6v.01M1203.6 302.8v.01M1203.6 335.5v.01M1204.3 334.8v.01M1204.9 301.8v.01M1204.6 297.8v.01M1205.3 331.7v.01M1204.9 331.8v.01M1205.6 340.8v.01M1205.5 332.5v.01M1206.3 340.4v.01M1207.3 304.6v.01M1206.7 340.3v.01M1207.7 341.7v.01M1208.1 335.8v.01M1208.9 311v.01M1210.4 303v.01M1209.8 340.5v.01M1211.1 303.8v.01M1211.4 304.9v.01M1210.6 334.2v.01M1211.6 301.2v.01M1211.6 309.6v.01M1211.6 334.7v.01M1212.9 343.4v.01M1213.6 303.6v.01M1214.1 307.4v.01M1214.1 305.9v.01M1214.7 299.6v.01M1214.6 340.2v.01M1216.2 337.3v.01M1217.3 298.6v.01M1217.1 335.3v.01M1218.4 345.4v.01M1218.2 342.4v.01M1218.3 344.2v.01M1220.6 349.7v.01M1220.9 306.1v.01M1220.5 304.1v.01M1222.2 347.9v.01M1222.9 298.7v.01M1223.1 346.7v.01M1222.8 336.8v.01M1222.9 337.4v.01M1225.2 301.7v.01M1227.4 349.3v.01M1227 298.1v.01M1227.1 303.1v.01M1226.6 297.8v.01M1228.4 308.2v.01M1227.6 304.6v.01M1227.5 343.8v.01M1229.2 298.4v.01M1228.7 351.7v.01M1228.6 342.5v.01M1229.1 349.9v.01M1230.2 352.7v.01M1229.8 306.2v.01M1230 307.2v.01M1230.9 344.6v.01M1232.9 299.2v.01M1232.6 302.1v.01M1232.6 300.6v.01M1233.7 346.5v.01M1235.4 302.6v.01M1235.9 299.8v.01M1235.7 303.5v.01M1236.4 301.9v.01M1236.5 337.6v.01M1236.7 296.1v.01M1237.2 306.8v.01M1237.8 297.8v.01M1237.7 303.8v.01M1237.6 346.3v.01M1239.4 298.2v.01M1238.6 348.8v.01M1239.4 341.8v.01M1239.8 303.1v.01M1239.6 307v.01M1239.8 341.2v.01M1239.8 349v.01M1241.4 346.1v.01M1240.9 302.5v.01M1241.1 341.8v.01M1240.6 340.9v.01M1240.7 339.3v.01M1241.7 304.7v.01M1241.8 303.8v.01M1241.7 339.3v.01M1242 337.1v.01M1243 306.7v.01M1242.9 308.4v.01M1243.7 310.9v.01M1244.3 304.5v.01M1244.2 311.8v.01M1246.1 303.1v.01M1246.3 348v.01M1246.9 299.8v.01M1247 346.3v.01M1247.8 296.5v.01M1247.7 307.3v.01M1247.8 302.1v.01M1247.6 337.2v.01M1247.8 333.9v.01M1247.6 344.2v.01M1248.4 342.4v.01M1248.7 302.4v.01M1250.2 292.5v.01M1250.1 342.7v.01M1250.4 341v.01M1252.6 291.1v.01M1254.3 341.6v.01M1254.2 336.2v.01M1254.7 303.4v.01M1255.4 337.1v.01M1255.1 342.2v.01M1256.5 296.8v.01M1255.9 337.4v.01M1257.3 293.1v.01M1257.4 338.1v.01M1257.6 296.7v.01M1258.4 337.8v.01M1259.5 338.9v.01M1259.5 305v.01M1260.1 302.5v.01M1259.9 310.2v.01M1259.8 339.4v.01M1259.7 339.8v.01M1260.8 312.6v.01M1261.2 309.9v.01M1261.2 312.9v.01M1261.4 349.3v.01M1262.2 313.5v.01M1262.3 347v.01M1262.8 312.7v.01M1262.9 355.7v.01M1264.2 308.1v.01M1264 304.7v.01M1263.6 303.9v.01M1264 303.1v.01M1264 344.3v.01M1265.3 351.8v.01M1264.7 301.8v.01M1266.3 307.6v.01M1266.3 307.5v.01M1266.5 299.8v.01M1265.9 300.9v.01M1265.7 350.9v.01M1267.5 298.8v.01M1267.7 296.8v.01M1268.3 345.4v.01M1269.3 335.7v.01M1270 301.4v.01M1270.1 345v.01M1271.2 306.1v.01M1270.8 310.7v.01M1270.7 301.7v.01M1271 338v.01M1271 334.9v.01M1271.6 307.4v.01M1271.5 337.4v.01M1271.5 342.1v.01M1273.3 345.4v.01M1272.6 307.4v.01M1274.3 341.7v.01M1273.8 301.1v.01M1274.2 332.5v.01M1275.2 340.4v.01M1274.9 297v.01M1274.9 331.1v.01M1275.6 287.2v.01M1276.3 340.3v.01M1276 329.9v.01M1276.9 284.6v.01M1277.4 341.4v.01M1277.3 287.8v.01M1277 295.9v.01M1278.4 329.4v.01M1279.2 296.1v.01M1278.6 297v.01M1278.6 291.3v.01M1279.3 294.3v.01M1278.9 339v.01M1279.4 339.4v.01M1279.4 339.8v.01M1280.6 292.3v.01M1281 303v.01M1280.8 334.3v.01M1281.5 338v.01M1281 341.6v.01M1281.6 294.5v.01M1281.9 298v.01M1281.9 299.6v.01M1281.8 301.7v.01M1282.8 336.8v.01M1283.6 291.5v.01M1283.8 301.1v.01M1283.6 299.2v.01M1285.1 290.4v.01M1285.5 297.7v.01M1284.8 295.7v.01M1285.1 339.2v.01M1285.8 299.9v.01M1286.5 292.5v.01M1287.4 348.1v.01M1286.9 292.9v.01M1287.5 337.7v.01M1287.7 290.7v.01M1287.6 348.5v.01M1288.7 293.8v.01M1289.1 302.3v.01M1289.7 293.6v.01M1289.9 292.7v.01M1290.1 352.5v.01M1291.9 359.5v.01M1292.6 292.9v.01M1294 291.7v.01M1293.8 297.9v.01M1293.6 364.6v.01M1294.3 364.8v.01M1295.2 293.1v.01M1294.7 370.7v.01M1294.7 358.3v.01M1294.7 359.2v.01M1295.5 361.5v.01M1297.1 296v.01M1297.3 352.8v.01M1297.7 287.8v.01M1298.2 350.6v.01M1299 348.7v.01M1299.1 356.7v.01M1300 354.9v.01M1300.5 350.2v.01M1299.8 357.6v.01M1300.8 290.9v.01M1302.4 287.7v.01M1302.4 345.7v.01M1303 348.5v.01M1303.9 288.3v.01M1304 356.1v.01M1303.6 292.9v.01M1304.3 345.3v.01M1305.5 352.2v.01M1305 290.5v.01M1305.4 290.7v.01M1304.8 290.2v.01M1304.7 351.2v.01M1305.4 342.7v.01M1306 289.8v.01M1305.6 296.1v.01M1306.4 296v.01M1306.5 345.2v.01M1306.9 293.6v.01M1306.8 353.3v.01M1307.8 294.7v.01M1308.4 297.3v.01M1307.8 348.6v.01M1308.5 351.9v.01M1309.4 293.4v.01M1309.1 298.7v.01M1309.3 298.3v.01M1309.5 350.3v.01M1308.6 351.5v.01M1310.4 298.4v.01M1310.8 302.6v.01M1310.8 300.9v.01M1311.3 356.5v.01M1310.7 355.6v.01M1311.7 356.4v.01M1313.4 357.6v.01M1312.7 303.8v.01M1312.6 353.5v.01M1313.6 347.9v.01M1314.3 355.1v.01M1313.5 351v.01M1315.2 356.7v.01M1315.5 292.4v.01M1315 352.1v.01M1315.5 355.9v.01M1315.1 350.2v.01M1316.5 300.1v.01M1317.3 293.2v.01M1317.3 364.8v.01M1317.3 298.7v.01M1318.2 360.2v.01M1317.9 367.7v.01M1319.2 294.5v.01M1319.3 300.3v.01M1319.4 363.7v.01M1320.2 365.8v.01M1321.1 297.5v.01M1320.9 299.3v.01M1321.6 298.9v.01M1321.6 356.2v.01M1321.7 364.6v.01M1322.5 303.1v.01M1323.1 359.6v.01M1323.8 356.2v.01M1325 364.8v.01M1326.5 297.9v.01M1326.1 363.3v.01M1326.2 358.2v.01M1325.8 359.6v.01M1326.6 295.9v.01M1326.6 299.5v.01M1327.2 364.9v.01M1329 372.2v.01M1329.2 293.9v.01M1329.4 299.5v.01M1328.9 370.2v.01M1329.9 294v.01M1330.3 302.7v.01M1329.8 364.6v.01M1330.2 365.9v.01M1329.5 368.5v.01M1330.8 298.2v.01M1330.9 364.4v.01M1330.7 366.6v.01M1331 361v.01M1332 308.1v.01M1332.2 357.6v.01M1331.7 357.4v.01M1333 364.5v.01M1334.3 309.3v.01M1333.8 358v.01M1333.7 364v.01M1333.8 367.6v.01M1335.2 312.1v.01M1334.5 365.1v.01M1334.5 365.1v.01M1335 360.2v.01M1336.2 319v.01M1335.8 369.5v.01M1336.7 366.4v.01M1337.8 311.3v.01M1338.8 315.5v.01M1340.1 320.2v.01M1339.9 363.9v.01M1340.2 369.9v.01M1341 368v.01M1341.2 311.4v.01M1340.7 314.6v.01M1340.8 359.8v.01M1341.2 363.8v.01M1341.6 311.1v.01M1341.7 364.7v.01M1342.3 315.4v.01M1342.1 315v.01M1341.8 360.5v.01M1341.5 355.9v.01M1342.9 311.6v.01M1343 316.3v.01M1342.8 313.8v.01M1343.6 309.7v.01M1344.9 309.3v.01M1345.3 366.8v.01M1346.5 309.4v.01M1346.3 313.7v.01M1345.8 317v.01M1345.9 359.8v.01M1347.1 319.7v.01M1348.1 365.4v.01M1347.6 366.3v.01M1350 308.1v.01M1350.2 356.3v.01M1350.2 360.1v.01M1352.1 362.1v.01M1352 358.8v.01M1354 322.5v.01M1353.9 319.7v.01M1354.1 315.2v.01M1354.9 315.3v.01M1354.5 320.5v.01M1356.4 361.2v.01M1356.8 349.5v.01M1357.6 311v.01M1357.6 347.8v.01M1358.4 348.6v.01M1358.7 355.3v.01M1359.4 310.3v.01M1358.9 313.5v.01M1360.1 355.6v.01M1360.1 353.2v.01M1359.9 351.3v.01M1360.5 312.4v.01M1360.8 318.3v.01M1361.3 309.1v.01M1361.6 307.7v.01M1361.9 311.2v.01M1362.3 349.9v.01M1361.5 350.2v.01M1362.5 301.2v.01M1362.8 350.9v.01M1362.6 306.1v.01M1364.3 350v.01M1363.8 296.9v.01M1364.2 342.5v.01M1364.9 293v.01M1365.2 350.3v.01M1367.3 299v.01M1367.2 291.7v.01M1367.4 355.8v.01M1368.5 289.7v.01M1367.8 353.9v.01M1369.3 291.3v.01M1369.3 353.9v.01M1370.2 294.6v.01M1369.8 349.4v.01M1371.4 295.8v.01M1371.2 349.7v.01M1372.5 305.6v.01M1372.3 301.8v.01M1372.2 306.9v.01M1371.8 353.2v.01M1373.3 360.1v.01M1374.2 307.3v.01M1374.1 361.4v.01M1374.6 312.5v.01M1375.2 315.7v.01M1375.2 347.9v.01M1374.9 351.3v.01M1375.4 350.8v.01M1376.4 348.1v.01M1376.5 311.7v.01M1376.9 345.9v.01M1377.8 311.8v.01M1377.8 309.8v.01M1377.8 312.5v.01M1378.6 348.6v.01M1378.6 308.3v.01M1379.1 341.6v.01M1380.8 302.6v.01M1381.7 304.9v.01M1382 348.1v.01M1382.4 310.2v.01M1381.6 308.3v.01M1381.8 310.2v.01M1382.1 340.9v.01M1382.5 345.5v.01M1382.2 346.9v.01M1382.2 342.9v.01M1382.8 309.7v.01M1383.5 345.7v.01M1383.4 308.9v.01M1383.5 345.1v.01M1384.1 349v.01M1383.6 311.7v.01M1383.9 342.5v.01M1385.3 311.1v.01M1386.4 311.5v.01M1385.6 341.7v.01M1385.7 347.1v.01M1386.2 346.9v.01M1385.8 338.2v.01M1386.5 341.9v.01M1388.3 315.1v.01M1388.2 342.5v.01M1388 343.7v.01M1388.1 342.6v.01M1388.8 312.1v.01M1388.7 339.6v.01M1389.5 338.3v.01M1389.3 336.5v.01M1388.9 334.6v.01M1390.1 338.1v.01M1389.6 344.4v.01M1391.3 338.9v.01M1390.5 339.3v.01M1392.2 309v.01M1394 309.4v.01M1394.5 343.1v.01M1393.5 339.6v.01M1394 345.1v.01M1395.3 313.3v.01M1395.4 341.7v.01M1394.7 339.9v.01M1395 345.8v.01M1396.3 340.3v.01M1396.6 341.6v.01M1396.8 340.9v.01M1397.8 343.8v.01M1397.9 337.4v.01M1399.1 300.4v.01M1399.3 337.6v.01M1398.9 342.2v.01M1400.1 300.2v.01M1400.9 304.9v.01M1400.6 301.8v.01M1402.4 343v.01M1401.9 301.8v.01M1401.9 308.3v.01M1401.9 301.1v.01M1402 307.2v.01M1402.6 308v.01M1404.4 300v.01M1404 333.3v.01M1404.1 337.3v.01M1405.2 343.9v.01M1404.6 304.2v.01M1404.5 331.4v.01M1405.4 337.7v.01M1405.2 331.4v.01M1406.3 301.9v.01M1406.6 350.9v.01M1406.8 347.3v.01M1408.4 303.1v.01M1407.8 307v.01M1408.8 346.3v.01M1410 342.7v.01M1411 281.5v.01M1410.5 353.7v.01M1411 289.6v.01M1410.5 352.1v.01M1411.9 282.3v.01M1412.1 356.3v.01M1412.4 291.9v.01M1412.3 352.2v.01M1412.5 281.6v.01M1413 346.7v.01M1413.7 283.4v.01M1413.6 285.7v.01M1414.3 351.6v.01M1414.4 348.7v.01M1414.9 282.4v.01M1414.9 356.5v.01M1414.9 355.8v.01M1415.9 286.7v.01M1416.4 356.5v.01M1415.6 356.1v.01M1416.2 355.3v.01M1416.8 365v.01M1416.8 364.3v.01M1417.5 300.8v.01M1418.2 303.9v.01M1418.3 363.6v.01M1418.3 363.5v.01M1418.8 306.2v.01M1418.6 365.3v.01M1419.3 359.4v.01M1420.4 356.3v.01M1421.2 317.1v.01M1420.8 316.4v.01M1421.3 313.8v.01M1420.6 360.2v.01M1420.5 361.5v.01M1422.2 314.1v.01M1422 314.7v.01M1421.7 358.6v.01M1423.5 319.9v.01M1424.3 311.4v.01M1424 313.2v.01M1424.4 319v.01M1424.1 349.1v.01M1424.6 345.7v.01M1425.9 312.7v.01M1426.3 316v.01M1425.8 318v.01M1425.9 312.1v.01M1426.2 352v.01M1426.2 349.6v.01M1427.3 351.4v.01M1428.1 312.4v.01M1429.1 302.9v.01M1428.9 345.4v.01M1429.9 300.3v.01M1430.8 303.7v.01M1430.8 348.2v.01M1431.3 350.5v.01M1431.6 300.3v.01M1431.5 355.9v.01M1431.9 299.3v.01M1432.2 299.3v.01M1432.7 302.5v.01M1433.4 356.7v.01M1432.8 350.6v.01M1434.1 348.7v.01M1435.3 340.3v.01M1436 311.9v.01M1436.2 307.3v.01M1436.2 312.6v.01M1437.3 339.4v.01M1437.8 342.6v.01M1440.3 336.6v.01M1440.6 306.6v.01M1441.2 343.1v.01M1442 306.5v.01M1443 304.9v.01M1443.2 309.4v.01M1443.5 340.6v.01M1444.1 303.1v.01M1444 310.8v.01M1443.9 342.5v.01M1445.4 344.5v.01M1444.9 307.8v.01M1445.2 333.4v.01M1445.3 335.9v.01M1445.4 337v.01M1446.4 299.7v.01M1445.7 302.5v.01M1445.9 305v.01M1446.3 334.6v.01M1448 302.1v.01M1448.2 337.3v.01M1449.3 338.7v.01M1449.7 306.8v.01M1450 342.7v.01M1450.8 350.8v.01M1451.4 309.7v.01M1451 344.3v.01M1452.3 303.8v.01M1451.8 309v.01M1452.4 343.7v.01M1452.3 344.5v.01M1453.2 306.2v.01M1454.4 306.7v.01M1454.1 314.5v.01M1454.4 315.2v.01M1454.3 344.2v.01M1454.6 316v.01M1455 345.6v.01M1454.8 352.4v.01M1455.9 353v.01M1455.7 349.3v.01M1457.4 310.2v.01M1458.3 316.5v.01M1458.2 312.3v.01M1459.1 350.5v.01M1459.3 343.1v.01M1460.2 350.2v.01M1460.1 349.5v.01M1460.5 352.3v.01M1461 314.6v.01M1461 340.5v.01M1461.2 348.3v.01M1460.7 348.8v.01M1461.8 312.4v.01M1461.7 311.4v.01M134.2 299.4v.01M175.4 365.1v.01M175.4 369v.01M175.4 378.2v.01M190.3 365.9v.01M190.3 373.6v.01M206.4 375.6v.01M244.5 247.6v.01M270.9 291.4v.01M270.1 381.3v.01M277.8 379.7v.01M294.2 381.3v.01M294.2 386.6v.01M354.4 371.3v.01M354.4 375.9v.01M361.3 367.4v.01M367.2 350.5v.01M367.2 359v.01M400.2 310.6v.01M453.9 270.7v.01M463.2 266.8v.01M443.2 275.3v.01M441.7 387.4v.01M438.6 376.7v.01M551.3 231.5v.01M551.3 247.6v.01M561.3 227.7v.01M579.4 220.8v.01M585.4 226.5v.01M527.5 267.3v.01M511.4 272.2v.01M511.4 279.1v.01M511.4 284.5v.01M502.2 281.4v.01M596.6 237.7v.01M596.6 244.6v.01M443 275.3v.01M454.6 270.7v.01M463.8 266.8v.01M469.1 274.5v.01M438.4 376.1v.01M447.3 374.1v.01M441.5 384.5v.01M442.3 389.1v.01M466.1 389.1v.01M473 388.4v.01M456.1 395.3v.01M458.4 398.1v.01M466.1 395.3v.01M466.4 405.3v.01M466.4 416.3v.01M485.3 407.6v.01M485.3 415.3v.01M498.3 413.7v.01M498.3 419.9v.01M495.3 430.3v.01M498.3 434v.01M495.3 457.5v.01M512.2 401.4v.01M510.6 407.1v.01M516 420.2v.01M521.4 421.4v.01M512.5 425.2v.01M516.8 429.1v.01M521.4 431.7v.01M516.5 432.2v.01M521.4 440.6v.01M521.4 454.4v.01M527.5 406v.01M529 411.9v.01M532.9 416v.01M537.5 415.3v.01M529.8 426.8v.01M534.4 426.5v.01M532.4 439.1v.01M547.5 403.7v.01M550.5 403.3v.01M550.2 411.4v.01M546.7 415.3v.01M546.7 422.9v.01M549 426.8v.01M549.5 437.2v.01M555.2 442.1v.01M560.5 438.3v.01M549.5 453.7v.01M555.2 451.3v.01M561.3 456.4v.01M561.3 398.4v.01M564.4 401.4v.01M560.5 407.6v.01M562.8 416.8v.01M565.9 418.3v.01M555.9 423.7v.01M559 423.7v.01M565.1 429.1v.01M563.6 421.4v.01M572 407.6v.01M578.2 406v.01M582.8 399.9v.01M588.9 395.3v.01M591.2 403v.01M586.6 411.4v.01M581.3 415.3v.01M588.9 419.9v.01M581.3 419.9v.01M588.2 425.2v.01M585.9 429.1v.01M572.8 425.2v.01M576.7 429.1v.01M579.7 432.9v.01M576.3 439.5v.01M585.1 439.8v.01M583.6 443.7v.01M586.6 445.7v.01M578.2 454.4v.01M583.6 455.2v.01M578.2 456.4v.01M586.6 461.6v.01M650.4 160.3v.01M650.4 182.2v.01M657.6 182.2v.01M652.2 188.4v.01M664.5 193.4v.01M651 199.9v.01M657.6 203.3v.01M652.2 207.3v.01M664.5 211.4v.01M664.5 213.7v.01M601.5 215.3v.01M602.3 222.5v.01M627.6 210.3v.01M621.5 224.2v.01M627.6 230.6v.01M596.1 237.2v.01M601.5 237.2v.01M596.1 244.4v.01M613.3 244.4v.01M621.5 242.9v.01M625.3 246v.01M621.5 249.4v.01M671.4 229.1v.01M675.5 234.1v.01M684.5 242.1v.01M684.5 246v.01M675.5 241.4v.01M706.7 249v.01M706.7 252.9v.01M682.2 261.3v.01M688.3 265.5v.01M706.3 268.2v.01M703.2 272.1v.01M640.7 382.1v.01M649.1 381.3v.01M649.1 392.5v.01M662.2 383.6v.01M662.2 393.1v.01M666.8 385.1v.01M666.8 394.4v.01M672.2 385.1v.01M672.9 392v.01M679.4 383.6v.01M679.4 389.7v.01M603.8 397.4v.01M614.6 397.4v.01M623 396.7v.01M629.2 399v.01M635.3 402.8v.01M636.1 395.1v.01M591.5 403.6v.01M603.5 410.2v.01M614.6 407.4v.01M614.6 410.5v.01M623 413.5v.01M628.4 416.2v.01M614.6 418.9v.01M691.4 388.2v.01M696 387.4v.01M691.4 402v.01M703.3 408.5v.01M696.4 374.4v.01M703.3 378.5v.01M691.4 362.4v.01M682.2 358.3v.01M682.2 364.4v.01M688.3 354.4v.01M694.4 356.7v.01M708.3 367.5v.01M720.5 362.9v.01M732.5 367.9v.01M745.4 350.1v.01M743.6 332.2v.01M745.1 336v.01M757.4 329.8v.01M757.4 333.7v.01M725.2 356.3v.01M730.5 352.9v.01M669.9 374.4v.01M669.9 369v.01M656.8 372.1v.01M657.6 367.5v.01M660.6 362.9v.01M654.5 361.3v.01M653 358.3v.01M665.3 350.6v.01M671.4 354.4v.01M659.1 356.7v.01M599.2 393.6v.01M594.6 399.7v.01M608.4 390.5v.01M620.7 387.4v.01M626.9 384.4v.01M605.4 402.8v.01M636.1 378.2v.01M643.8 375.2v.01M645.3 362.9v.01M823.4 243v.01M855.5 274.1v.01M863.7 277.6v.01M881.6 279.1v.01M790.7 328.3v.01M804.5 337.5v.01M808.4 330.6v.01M818.4 334.4v.01M819.1 342.1v.01M824.5 334.4v.01M824.5 328.7v.01M833.4 334.4v.01M833.4 338.3v.01M834.5 352.1v.01M833.4 355.9v.01M833.4 363.6v.01M833.4 367.4v.01M843.7 329.4v.01M847.5 329.4v.01M847.5 338.3v.01M851.8 335.2v.01M851.8 339v.01M862.1 334.4v.01M862.1 339.8v.01M868.3 332.1v.01M870.6 336.7v.01M872.9 339.8v.01M872.9 344.4v.01M889.8 335.2v.01M889.8 341.3v.01M893.6 335.2v.01M893.6 342.1v.01M914.4 355.2v.01M914.4 358.2v.01M905.4 364.4v.01M905.4 369.7v.01M932 362.8v.01M932 369v.01M930.5 382v.01M934.3 381.3v.01M931.2 385.9v.01M934.3 388.2v.01M934.3 393.5v.01M984.5 256.9v.01M984.5 264.5v.01M1001.4 278.1v.01M1001.4 288.3v.01M1050.3 276.8v.01M1049.5 283.7v.01M1066.7 256.9v.01M1066.7 259.9v.01M932.3 363.6v.01M932.3 369v.01M933.8 381.3v.01M933.8 387.4v.01M934.6 392.8v.01M950.7 353.6v.01M953.8 359v.01M950.7 370.5v.01M959.2 355.9v.01M959.2 362.8v.01M965.3 364.4v.01M965.3 374.4v.01M965.3 381.3v.01M981.5 347.5v.01M986.5 349.8v.01M986.5 353.6v.01M1018.3 362.8v.01M1018.3 369v.01M1023.4 350.5v.01M1023.4 357.5v.01M1023.4 360.5v.01M1040.6 352.1v.01M1040.6 358.2v.01M1040.6 362.8v.01M1049.8 352.1v.01M1054.4 358.2v.01M1054.4 364.4v.01M1060.5 355.9v.01M1062.1 361.3v.01M1060.5 369v.01M1054.4 373.6v.01M1054.4 377.4v.01M1091.3 369v.01M1091.3 373.6v.01M1108.9 356.7v.01M1125.3 284.5v.01M1151.5 285.3v.01M1189.1 283.7v.01M1194 285.3v.01M1189.1 287.6v.01M1205.2 278.4v.01M1205.2 281.4v.01M1194.5 259.2v.01M1194.5 261.5v.01M1108.4 356.7v.01M1113.5 365.1v.01M1113.5 368.2v.01M1119.2 356.7v.01M1119.2 361.3v.01M1119.2 364.4v.01M1120.4 375.4v.01M1120.4 388.2v.01M1120.4 391.2v.01M1120.4 394.3v.01M1146.1 375.1v.01M1146.1 378.2v.01M1145.6 386.3v.01M1145.6 392.3v.01M1168.3 376.3v.01M1166 369v.01M1173.7 369.7v.01M1179.9 368.2v.01M1184.5 364.4v.01M1184.5 359.8v.01M1184.5 352.8v.01M1188.3 350.5v.01M1195.5 356.7v.01M1195.5 360.5v.01M1195.5 364.4v.01M1195.5 367.4v.01M1214.4 371.3v.01M1214.4 375.9v.01M1261.3 361.3v.01M1265.1 355.9v.01M1273.5 353.3v.01M1271.6 370.5v.01M1271.6 376.7v.01M1271.6 381.3v.01M1271.6 384.3v.01M1290.4 279.1v.01M1302.4 279.9v.01M1331.1 299.9v.01M1337.2 301.4v.01M1342.6 303.7v.01M1348.4 291.4v.01M1348.4 296.8v.01M1369.2 273v.01M1369.2 278.4v.01M1388.7 297.6v.01M1396.3 281.4v.01M1451.6 264.8v.01M1451.6 271.5v.01M1451.6 283.3v.01M1300.4 379.4v.01M1310.8 366.7v.01M1314.2 371.3v.01M1317.3 366.7v.01M1320.3 372v.01M1318.5 377.4v.01M1318.5 387.4v.01M1339.5 380.5v.01M1349.5 381.3v.01M1366.4 361.3v.01M1372.5 369v.01M1393.3 353.6v.01M1393.3 359v.01M1400.2 355.2v.01M1405.6 355.9v.01M1408.6 360.5v.01M1405.6 365.1v.01M1405.6 368.2v.01M1410.9 355.2v.01M1418.3 378.2v.01M1427.8 365.9v.01M1433.2 375.1v.01M1433.2 378.2v.01M1433.2 382v.01M1457.5 371.7v.01M1457.5 378.2v.01M635.7 430.5v.01M636 448v.01M636.3 476v.01M636.3 497v.01M670.4 449.5v.01M691.6 439.4v.01M703.6 408.4v.01M691.6 402v.01M1008.5 226v.01M1008.7 229v.01M1008.4 233v.01M1008.1 238v.01M1008.5 242v.01M1008.4 364v.01M1008.1 367v.01M1078.2 123.6v.01M1078.4 130.7v.01M1078 143.7v.01M1078.1 151.8v.01M1078.4 161.5v.01M1078.3 168v.01M1078.3 176v.01M1078.5 181v.01M1078.7 391v.01M1078.3 396v.01M1078.4 401v.01M1324.2 60.1v.01M1324.3 67.6v.01M1324.2 82v.01M1324.5 86v.01M1324.7 90v.01M1324.8 98v.01M1324.5 102v.01M1324.7 106v.01M1324.9 140.6v.01M1324.4 153.6v.01M1324.3 163v.01M1324.1 167v.01M1324.5 171v.01M1324.8 182.8v.01" stroke="#1f77b4" stroke-width="5.56" stroke-linecap="round" fill="none"/>
<path d="M116.2 325.2L117.8 326.5L119.4 329.7L121 329.4L122.6 327.2L124.2 331.5L125.8 331.1L127.4 326.4L129 326.8L130.6 325.8L132.2 331L133.8 333.5L135.4 328.6L137 326.3L138.6 324.9L140.2 327.1L141.8 332.6L143.4 331.7L145 332.5L146.6 334.1L148.2 334.4L149.8 330.1L151.4 332.6L151.9 334.4L153 327.5L154.6 321.9L156.2 323.6L157.8 323.7L159.4 328.1L161 325.3L162.6 317.6L163.4 316.8L164.2 323.2L165.8 336.6L167.4 326L168 321.4L169 324.4L170.6 324L172.2 323.5L173.8 321.2L175.4 329.5L177 332.7L178.6 333.8L180.2 338.1L181.8 339.9L183.4 342.5L185 344.4L186.6 341.2L188.2 339.8L189.8 340.6L191.4 343.2L193 340.8L194.6 333.1L196.2 333.3L197.8 339.5L199.4 339.9L201 342.5L202.6 341.9L204.2 342.6L205.8 346.9L207.4 345.1L209 334.4L210.6 336.5L212.2 335L213.8 336.4L215.4 332.8L217 331.9L218.6 328.5L220.2 327.4L221.8 328.1L223.4 323L225 318.8L226.6 320.9L228.2 326.1L229.8 318.8L230.2 316.8L231.4 328L232.5 339L233 339.2L234.6 335L236.2 332.4L237.8 335.8L239.4 328.2L241 316.3L242.6 301.8L244.2 295.1L245.8 294.7L246.6 290.6L247.4 294.4L249 301.2L250.6 301.4L252.2 303.8L253.8 305.2L255.4 303.4L257 303.2L258.6 309.4L260.2 309.5L261.8 301.8L263.4 305.2L265 311L266.6 317.4L267 321.4L268.2 320.1L269.8 325.2L270.9 331.3L271.4 328.9L272.4 324.4L273 326.7L274.6 331.1L276.2 332.4L277.8 332.5L279.4 327.6L281 322.2L282.6 327.3L284.2 329.9L284.7 327.5L285.8 333.4L287.4 337.2L289 336.3L290.6 331.8L292.2 333.8L293.8 341.1L295.4 341.4L297 336.8L298.6 335.4L300.2 331.1L301.8 324L303.4 325L305 329.6L306.6 333.5L308.2 328.5L309.8 324.9L311.4 322.9L313 321.8L314.6 317.1L316.2 311L317.8 311.7L319.4 307.5L321 306.9L322.6 308.1L324.2 305.8L325.8 304.1L326.5 301.4L327.4 306.1L329 307.3L330.6 300.7L332.2 307.2L333.8 310.5L335.4 317L337 322.1L338.6 322.6L340.2 319.7L340.6 316L341.8 317.4L343.4 316.9L345 320.6L346.6 327.6L348.2 334.1L349.8 338.4L351.4 333.1L353 331L354.6 333L356.2 335.8L357.8 339.3L359.4 336.5L361 330L362.6 325.3L364.2 323.1L365.8 322.2L367.4 324L369 321.4L370.6 322.2L372.2 320L373.8 312.4L374.8 307.5L375.4 311L377 316.6L378.6 316.1L380.2 327.4L381 334.4L381.8 332.1L383.4 331.3L385 329.7L386.6 329.8L388.2 331.2L389.8 330L391.4 333.1L393 329.4L394.6 325.3L396.2 328.3L397.8 333L399.4 338.6L401 340.9L402.6 336.3L404.2 331.5L405.8 328.8L407.4 326.3L409 322.5L410.6 313.8L412.2 317.6L413.8 318.6L415.4 322.2L417 324L418.6 324.1L420.2 323.4L421.8 319.5L423.4 316.8L425 312.9L426.6 312.1L428.2 309.6L429.8 307.7L431.4 308.5L433 311.5L434.6 310.5L436.2 320.7L437.2 326L437.8 320.8L439.4 315.6L441 326.5L441.5 330.6L442.6 322.2L444.2 311.8L445.8 313.7L447.4 316.9L449 318.7L450.6 325.3L452.2 326.1L453.8 326.3L455.4 327.7L457 330.9L458.6 336.1L460.2 341.3L461.8 333.1L463.4 324.7L465 323.6L466.1 327.5L466.6 323.5L468.2 321.1L469.8 321L471.4 323.9L473 325.4L474.6 327L476.2 326.9L477.8 329.2L479.4 331.6L481 333.4L482.6 343L484.2 349L485.8 347.8L486.8 349.8L487.4 346.1L489 336.4L490.6 343.5L492.2 353.6L493.8 358.8L495.4 358.8L497 352.2L498.6 354.6L500.2 350.1L501.8 346.8L503.4 347.3L505 350.1L506.6 342.2L508.2 343.8L509.8 344.6L511.4 345.1L513 341.7L514.6 352.1L516.2 353L517.8 351.6L519.4 347.1L521 346.1L522.6 345.8L524.2 342.1L525.8 343.6L527.4 337.3L529 346.2L530.6 353.4L532.2 363.9L532.9 366.7L533.8 362.3L535.4 356.9L537 355.8L538.6 347.5L540.2 336.9L541.8 334.4L542.9 339L543.4 336.5L545 324.8L545.6 320.6L546.6 324.9L547.5 329.8L548.2 327.6L549.8 320.9L550.9 316L551.4 318.9L553 324.7L554.6 328.5L556.2 324.8L557.5 319.8L557.8 322.3L559.4 325.7L561 331.2L562.6 332.1L564.2 328.2L565.8 330.3L567.4 332.9L569 330.6L570.6 323L572.2 321L573.8 319.9L575.4 323.2L577 322.2L578.6 322.5L580.2 321.4L581.8 321.1L583.4 319L585 324.7L585.6 327.5L586.6 324.2L588.2 319.4L589.8 317.4L591.4 317.4L593 318.8L594.6 322.4L596.2 325.3L596.9 328.3L597.8 321.3L599.4 312.7L601 303.4L602.6 297.5L603.1 297.6L604.2 311.2L605.4 322.2L605.8 319.1L607.4 311.7L609 315L610.6 314L612.2 316L613.8 320.6L614.6 326L615.4 324.4L617 318.3L618.6 314.5L620.2 316.6L621.8 312.8L623.4 321.3L625 319.4L626.6 313.2L628.2 318.1L629.8 321.2L631.4 317.3L633 316.6L634.6 326L636.2 322.5L637.8 316L639.4 314L641 312.6L642.6 301.7L644.2 310.6L645.3 317.6L645.8 314.4L647.4 301.7L649 299.3L650.6 301.3L651.4 301.4L652.2 295L652.5 293L653.8 302.5L655.4 314.3L657 309.7L658.6 305.7L660.2 310.4L661.8 316.3L662.2 316.8L663.4 303.1L664.2 296.1L665 302.9L666.6 315.3L668.2 311.9L669.8 302.2L671.4 304.3L673 308.1L674.6 307.7L676.2 308.1L677.8 305.7L679.4 311.6L681 307.2L682.6 308.2L684.2 312.2L685.8 309.9L687.4 308.9L689 314.4L690.6 318L692.2 317L693.8 315.7L695.4 316.1L697 314.7L698.6 313.1L700.2 310.4L701.8 312.6L703.4 312.1L705 312.1L706 306L706.6 307.7L708.2 315.1L709.8 314.9L711.4 316.1L713 312.7L714.6 308.7L716.2 310L717.8 311.9L719.4 321.5L719.8 323.7L721 311.2L722.1 302.2L722.6 302.3L724.2 302.9L725.8 296L727.4 305.3L729 313L730.6 310.4L732.2 302.6L733.8 298.3L735.4 289.5L737 292.8L738.6 288L740.2 280.2L741.8 273.8L743.4 283.9L745 288.2L746.6 284.6L748.2 290.6L749.8 289.7L751.4 283.9L753 283.6L754.6 283.1L756.2 285L757.8 284.7L759.4 286.6L761 289.7L762.6 293.4L764.2 291.9L765.8 290.5L767.4 287.9L769 289.3L770.6 293.3L772.2 298.6L773.8 293.5L775.4 290.6L777 291.2L778.6 290.6L780.2 297.6L781.8 302.9L783.4 299.9L785 295.4L786.6 300.7L788.2 305.9L789.8 305.7L791.4 305.3L793 304.3L794.6 310.8L796.2 304.5L797.8 298.6L799.4 300.5L801 294.8L802.6 298.5L804.2 300.1L805.8 302L807.4 308.4L809 299.2L810.6 299.4L812.2 307.8L813.8 302.2L815.4 291.1L817 293.1L818.6 298.7L819.1 304.5L820.2 286.2L821.4 266.8L821.8 268.7L823.4 277.5L825 282.6L826 280.7L826.6 284.9L828.2 296.1L829.8 290.9L830.3 289.1L831.4 295.1L833 307.9L834.6 303.8L836.2 301.3L837.8 299.4L839.4 306.9L841 310.5L842.6 304.9L844.2 308.4L845.8 313.3L847.4 309.1L849 303.4L850.6 307.2L852.2 305L853.8 301.9L855.4 307.5L857 312.2L858.6 310.6L860.2 309.5L861.8 306.4L863.4 307.4L865 311.9L866.6 311.9L868.2 310.7L869.8 310.6L871.4 312L873 309.9L874.6 310.9L876.2 310.6L877.8 308.5L879.4 310.6L881 309.1L882.6 309L884.2 311L885.8 312.2L887.4 311.1L889 312.3L890.6 312L892.2 309.5L893.8 309.3L895.4 308L897 310.2L898.6 310.8L900.2 311.8L901.8 310.7L903.4 312.8L905 313.3L906.6 311.6L908.2 307.6L909.8 311.9L911.4 315.1L913 309.4L914.6 308.7L916.2 312.6L916.7 316L917.8 310.3L919.4 311.8L921 310.8L922.6 308.4L924.2 319.3L925.1 322.9L925.8 317.4L927.4 309.6L929 311.2L930.6 313.1L932.2 317L933.8 320.3L935.4 315.6L937 314.2L938.6 313.1L940.2 312.9L941.8 313.7L943.4 314.2L945 316.8L946.6 311.8L948.2 315L949.8 321.7L951.4 316.3L953 319.9L954.6 321.8L956.2 317.4L956.9 311.4L957.8 311.5L959.4 312.6L961 314.3L962.6 312.8L964.2 315.7L965.8 314.6L967.4 313.4L969 311.3L970.6 316.7L972.2 312.2L973.8 305.9L974.1 301.4L975.4 303.8L977 301.5L978.6 297.7L980.2 299.8L981.8 317L983.4 314.4L985 316.7L986.6 319.6L988.2 314.7L989.8 309L991.4 308L993 310.4L994.6 316.5L996.2 318.3L997.8 317.4L999.4 314.4L1001 314.8L1002.6 316.8L1004.2 323.1L1005.3 323.7L1005.8 311.9L1007.3 282.2L1007.4 285.7L1009 323.3L1009.6 333.7L1010.6 323.9L1011.4 315.2L1012.2 315.3L1013.8 318.7L1015.4 318.2L1017 313.9L1018.6 312.3L1020.2 310.9L1021.8 308.5L1023.4 304.6L1025 305.6L1026.6 309.6L1028.2 310L1029.8 317L1031.4 318.6L1033 315.9L1034.6 313.4L1036.2 309.5L1037.8 313.8L1039.4 311.4L1041 308.2L1042.6 310.5L1044.2 316.5L1045.8 318.1L1047.4 317.4L1049 316.2L1050.6 314.3L1052.2 314.9L1053.8 317.7L1055.4 307L1057 313.8L1058.6 317.2L1060.2 319.3L1061.8 317.8L1063.4 313.3L1065 310.8L1066.6 311.5L1068.2 312.8L1069.8 313.5L1071.4 315.2L1072.8 319.8L1073 316.3L1074.6 301.6L1075.1 298.3L1076.2 272L1077.7 233.8L1077.8 236.9L1079.4 317.5L1079.7 333.7L1081 329.6L1082.6 330.8L1083.6 329.8L1084.2 334.7L1085.4 340.6L1085.8 337.3L1087.4 321L1089 320.1L1090.6 323.2L1092.2 318.2L1093.8 312.5L1095.4 310.3L1097 317.7L1098.6 322.9L1100.2 317.1L1101.8 314L1103.4 311.6L1105 311.4L1106.6 312.6L1108.2 313.8L1109.8 313.5L1111.4 313.4L1113 311L1114.6 314L1116.2 314.7L1117.8 319.3L1119.4 316.3L1121 313.2L1122.6 311.6L1124.2 310.9L1125.8 311.5L1127.4 313.7L1129 317.5L1130.6 314.8L1132.2 315.4L1133.8 320L1135.4 317.1L1137 313.5L1138.6 313.6L1140.2 312.3L1141.8 315.6L1143.4 323.6L1145 335.6L1146.6 333.8L1148.2 322.3L1149.8 319.1L1151.4 317.5L1153 315.5L1154.6 320.2L1156.2 321L1157.8 315.5L1159.4 317.6L1161 318.7L1162.6 317.8L1164.2 320.7L1165.8 321.3L1167.4 331.2L1169 341L1170.6 338.7L1172.2 333.5L1173.8 330.6L1175.4 325.6L1177 323.1L1178.6 318.5L1180.2 320.5L1181.8 320.9L1183.4 317.3L1185 321.2L1186.6 319.1L1188.2 319.5L1189.8 317.8L1191.4 316.2L1193 313L1194.6 315.4L1196.2 319.7L1197.8 322.1L1199.4 320.9L1201 322.2L1202.6 320.7L1204.2 318.8L1205.8 320.8L1207.4 327.3L1209 323.3L1210.6 325.3L1212.2 322.8L1213.8 320.3L1215.4 316.4L1217 323.1L1218.3 326L1218.6 322.6L1220.2 316.3L1221.8 315.7L1223.4 318L1225 318.6L1226.6 319.5L1228.2 319.2L1229.8 322.3L1231.4 328.5L1233 322.6L1234.6 319L1236.2 316.4L1237.8 313.2L1239.4 315.9L1241 325.6L1242.6 323.9L1244.2 319.5L1245.8 317.4L1247.4 316.9L1249 319.5L1250.6 322.2L1252.2 319.6L1253.8 317.2L1255.4 317.5L1257 317.1L1258.6 317.8L1260.2 324.6L1261.3 330.6L1261.8 327.6L1263.4 324.4L1265 319.6L1266.6 318.1L1268.2 320.9L1269.8 323.3L1271.4 322.7L1273 317.7L1274.6 318.6L1276.2 319.3L1277.8 318.9L1279.4 316.8L1281 316.3L1282.6 317.6L1284.2 317.5L1285.8 317L1287.4 321.3L1289 318.6L1290.6 322.1L1292.2 322L1293.8 325L1295.4 323.1L1297 322.5L1298.6 326.4L1300.2 324.6L1301.8 321.1L1303.4 327.9L1305 320.4L1306.6 320.3L1308.2 326.1L1309.8 323.5L1311.4 324.4L1311.9 329L1313 328.6L1314.6 322.1L1316.2 322.4L1317.8 330.7L1318.8 336.7L1319.4 330.4L1320.3 322.1L1321 329.3L1321.9 336.7L1322.6 300.9L1324.2 232.5L1324.6 217.7L1325.8 255L1327.2 319.8L1327.4 322.2L1328.8 342.1L1329 341L1330.6 332.3L1332.2 333.5L1333.8 333.7L1335.4 339.7L1337 341.9L1338.6 343L1340.2 338.4L1341.8 327.6L1343.4 335.3L1345 328.7L1346.6 327.1L1348.2 328.8L1349.8 328.9L1351.4 331.8L1353 336.9L1354.6 343.6L1355.6 348.2L1356.2 345.5L1357.8 340.4L1359.4 337.9L1361 333.9L1362.6 334.4L1364.2 331L1365.2 325.2L1365.8 329.2L1366.4 330.6L1367.4 324L1368.7 311.4L1369 314.4L1370.6 333.9L1371.3 342.9L1372.2 339.1L1373.8 331.6L1375.4 331L1377 331.2L1378.6 327.8L1380.2 325.6L1381.8 333.7L1383.4 328.4L1385 328.5L1386.6 330.1L1388.2 326L1389.8 323.3L1391.4 321.5L1393 320.3L1394.6 318.8L1396.2 321.7L1397.8 321L1399.4 319.7L1401 322L1402.6 317.1L1404.2 319.1L1405.8 317L1407.4 319.3L1409 323.8L1410.6 323.1L1410.9 324.4L1412.2 311.4L1413.2 301.4L1413.8 301.6L1415.4 306L1417 328.9L1417.4 336L1418.6 329.4L1419.4 321.4L1420.2 329.5L1421.8 337.7L1423.4 331.9L1425 328.3L1426.6 324.8L1428.2 326.3L1429.8 326.5L1431.4 325L1433 326.1L1434.6 326.1L1436.2 321.3L1437.8 320.9L1439.4 317.9L1441 320L1442.6 317.5L1444.2 319.6L1445.8 320.8L1447.4 316.6L1449 321.7L1450.6 322.7L1452.2 328.2L1453.8 331L1455.4 333.6L1457 331.2L1458.6 329.2L1460.2 326.7" stroke="#ff7f0e" stroke-width="2.08" stroke-linejoin="round" stroke-linecap="square" fill="none"/>
</g>
<path d="M115.5 518.5v4.86M284.5 518.5v4.86M452.5 518.5v4.86M620.5 518.5v4.86M789.5 518.5v4.86M957.5 518.5v4.86M1125.5 518.5v4.86M1294.5 518.5v4.86M115.5 502.5h-4.86M115.5 409.5h-4.86M115.5 316.5h-4.86M115.5 222.5h-4.86M115.5 129.5h-4.86" stroke="#000" stroke-width="1.11" fill="none"/>
<rect x="115.5" y="38.5" width="1347.0" height="480.0" fill="none" stroke="#000" stroke-width="1.11" stroke-linejoin="miter"/>
<text x="105.78" y="510.94" text-anchor="end" font-size="22.222">−2</text>
<text x="105.78" y="417.94" text-anchor="end" font-size="22.222">−1</text>
<text x="105.78" y="324.94" text-anchor="end" font-size="22.222">0</text>
<text x="105.78" y="230.94" text-anchor="end" font-size="22.222">1</text>
<text x="105.78" y="137.94" text-anchor="end" font-size="22.222">2</text>
<text transform="translate(61.52 278.5) rotate(-90)" text-anchor="middle" font-size="22.222">Doppler Shift [Hz]</text>
<text x="115.5" y="30.17" font-size="26.667">(a)</text>
<rect x="1047.19" y="48.70" width="406.05" height="79.5" rx="3.7" fill="#fff" fill-opacity="0.8" stroke="#ccc" stroke-opacity="0.8" stroke-width="1.39"/>
<circle cx="1073.4" cy="63.40" r="2.78" fill="#1f77b4"/>
<path d="M1053.1 102.10H1092.2" stroke="#ff7f0e" stroke-width="2.08" fill="none"/>
<text x="1106.42" y="69.23" font-size="18.511">Raw Data</text>
<text x="1106.42" y="96.40" font-size="18.511">Butterworth Filtered Data</text>
<text x="1106.42" y="117.13" font-size="18.511">(N=6, Tc=3.3333 min, Type: low)</text>
<rect x="155.5" y="575.5" width="523" height="479.0" fill="#e8e8e8"/>
<path d="M155.5 575.5V1054.5M678.5 575.5V1054.5" stroke="#dedede" stroke-width="1.2" fill="none"/>
<path d="M115.5 1054.5V575.5M284.5 1054.5V575.5M452.5 1054.5V575.5M620.5 1054.5V575.5M789.5 1054.5V575.5M957.5 1054.5V575.5M1125.5 1054.5V575.5M1294.5 1054.5V575.5M115.5 1033.5H1462.5M115.5 971.5H1462.5M115.5 908.5H1462.5M115.5 846.5H1462.5M115.5 783.5H1462.5M115.5 721.5H1462.5M115.5 659.5H1462.5M115.5 596.5H1462.5" stroke="#b0b0b0" stroke-width="1.11" stroke-dasharray="1.11 1.83" fill="none"/>
<g clip-path="url(#c1)">
<path d="M116 972.5V1022.4M117 971V1021.4M118 965.4V1017.6M119 965V1019.9M120 961.1V1022.3M121 964V1021.8M122 962.1V1021.7M123 955.9V959M123 961.1V1023.6M124 965.3V1023.9M125 959.3V961.9M125 968.5V968.8M125 975.3V1024.5M126 975.2V1025.1M127 977.4V1025.2M128 977.2V982.9M128 981.9V1024.7M129 986.8V1024.2M130 992.3V1022.9M131 998.1V1022.9M132 987.7V1022.5M133 983.1V987.1M133 986.2V1021.9M134 980.3V984.9M134 994.2V1021.3M135 986.5V1024M136 982V1023.8M137 979.9V1024.2M138 968.1V975.4M138 973.4V1026.8M139 978.4V1026.8M140 976.5V1026.4M141 963.2V1022.9M142 955.5V1022.4M143 943.5V1019M144 927.3V934.2M144 932.3V1018.5M145 930.1V1017.3M146 908.4V918.9M146 932V1017M147 923.4V1016.1M148 921.1V1015.2M149 923.4V1016.8M150 909.7V911.5M150 918.6V925.6M150 929.9V1018.9M151 938.4V1020.4M152 922.8V930.2M152 930.3V1022.5M153 919.1V930.5M153 930.5V1023.6M154 934.5V1024.1M155 959V1025.1M156 964.4V1025.9M157 966.3V1024.4M158 963.1V972M158 979V1024.4M159 977.2V1023.2M160 969.2V979.1M160 979.2V1022.3M161 988.4V1021.9M162 980.8V1021.5M163 982.4V1022.8M164 985.4V1023.3M165 986.9V1024.7M166 984.2V990.5M166 991.3V1025.6M167 999.7V1026.5M168 993.6V1026.4M169 993.3V1026M170 988.9V1025.5M171 990.7V1025M172 984.3V1023.6M173 982.1V1023.4M174 977.7V1023M175 967.4V977.5M175 977.3V1023.6M176 974.4V1023.3M177 977V1023.4M178 973.8V1023.9M179 982.9V1023.6M180 985.1V1023.7M181 987.7V1023.2M182 991.4V1024.5M183 995.1V1024.2M184 987.2V1024.7M185 969V969.6M185 978.3V1025.4M186 973V1025.6M187 961.1V1025.8M188 953.5V1026.2M189 958.5V1026.2M190 956.9V966.7M190 967.2V1026.5M191 972.2V1024.2M192 973.1V1026.2M193 974.3V1025.4M194 977.2V1025.8M195 981.8V1026.1M196 982.5V1026.4M197 974.8V985.3M197 987.8V1026.7M198 990.1V1026.7M199 989V1027.9M200 969.2V1026M201 954.1V1025.8M202 952.8V1023.8M203 952.4V1021.8M204 944V1018.7M205 936.6V1014.9M206 932.7V1016.3M207 924.1V1016.2M208 911.5V1014.6M209 907.6V1014.3M210 907.5V1014.7M211 908.9V1014.5M212 909.3V1019M213 921.1V1022.1M214 935.9V1022.8M215 934.3V1024.2M216 909.5V910.3M216 917.3V927.9M216 934.1V1024.9M217 910.5V927.9M217 934.2V936.9M217 938.5V1024.8M218 938.1V1024.4M219 928.4V1024.5M220 927.5V1023.1M221 904.7V905.2M221 914V928.5M221 930.1V1022.1M222 933.2V1020.1M223 937.8V1019.5M224 937.5V1018.2M225 915.3V929.1M225 936.4V946.1M225 947.5V1019.7M226 952.8V1019.1M227 961.4V1019.1M228 963.9V1019.2M229 970V1019.2M230 968.4V1019M231 954.7V1017.9M232 945.2V1018.9M233 928.7V930.3M233 936.1V938.4M233 937.2V1018.6M234 931.6V1016M235 924.2V1013.6M236 915.2V1010.8M237 908.8V1009.5M238 911.4V1008.6M239 917V1009.9M240 888.1V891.9M240 899.7V905.1M240 913.7V915M240 916.8V1009.8M241 915V1009.8M242 888.2V896M242 902.4V905.8M242 913.2V915.2M242 915.1V1008M243 917.7V1009.5M244 921.4V1009.5M245 895.6V899.6M245 906.5V920.9M245 920.8V1010M246 918.6V1010.8M247 907.2V907.5M247 915.4V919.7M247 929.1V1012.1M248 933.8V1013.4M249 942V1014.6M250 940.7V1015M251 947.1V1016.4M252 952.2V1016.6M253 956.5V1016M254 951.3V1016.2M255 949.9V1016.6M256 947.3V1017.4M257 951.5V1018.5M258 930.9V938.3M258 946.4V957M258 956.5V1018M259 933.9V950.5M259 949.3V1015.9M260 946.5V1015.4M261 937.8V1013.5M262 921.1V933.5M262 931.9V1011.1M263 927.5V1008.3M264 909.7V918.9M264 923.8V1009.8M265 898.2V900.8M265 909.3V914.6M265 921.2V1009.7M266 874.8V876.2M266 885.1V889.5M266 897.3V912.2M266 912.8V1010.1M267 886.4V892.8M267 898.1V898.2M267 905.7V907.2M267 913.2V921.7M267 925.1V1009.6M268 928.3V1010.3M269 917.1V920.3M269 933.5V1010.8M270 930.9V1012.7M271 929V1014M272 930.1V1013M273 927V1010.6M274 908.5V1010.2M275 909.2V1008.5M276 909.3V1006.3M277 908.6V1006.3M278 905.9V1004.7M279 882.9V883.2M279 891.2V900.7M279 907.5V910M279 910V1001.8M280 871.6V877.3M280 884.5V913.2M280 912.4V1003.5M281 914.1V1001.8M282 913.1V1003.9M283 907.2V1005.1M284 866.4V880.5M284 889.4V896.9M284 905.4V908.2M284 909.8V1005.2M285 912.7V1006.2M286 858.5V879.2M286 885.8V887M286 894.2V894.2M286 899.5V904.3M286 909.3V1006.3M287 872.1V879.7M287 888.5V890.3M287 899V900.8M287 905.7V1008.7M288 911V1011M289 916.6V1012.5M290 926.9V1014M291 945.3V1015.8M292 946V1016M293 948.6V1018.1M294 950.8V1018.9M295 911.4V912.7M295 917.9V922.6M295 928.2V929.3M295 935.1V1018.7M296 922V1015M297 911.9V1013.7M298 917.1V1011.2M299 927V1011.4M300 930.1V1013.9M301 939.3V1014.8M302 944.5V1014.9M303 949.7V1015.6M304 951.6V1017.9M305 965.9V1015.8M306 954.7V965.8M306 972.7V1020.9M307 967V1022.9M308 967.7V1021.6M309 952.8V954.8M309 960.6V961.6M309 963.2V1019.7M310 961.8V1019M311 952.7V1016.6M312 946.4V1017.4M313 943.4V1019.6M314 944.2V1021.8M315 953.6V1023.1M316 951.6V1019.7M317 943.8V1017.8M318 943.5V1013.4M319 919.4V922.3M319 936V1013.1M320 901.7V917.3M320 920.3V1016M321 906.4V1017.2M322 894.2V1019.7M323 880.4V893.1M323 900.6V901.6M323 903.4V1018.3M324 917.8V1015.4M325 924.6V1015.9M326 924.1V1014.2M327 918.7V1012.1M328 918.3V1015.5M329 923.8V1015.5M330 919.2V1017.4M331 904.1V1018.8M332 909.9V1019.7M333 907.6V1019.5M334 847.9V854.4M334 861.1V863.9M334 870.5V871.7M334 879.2V885.9M334 892V896.1M334 895.8V1018.5M335 892.8V1018M336 872.5V874.7M336 879.3V887.2M336 894.3V898.9M336 905.5V1017.1M337 916V1016.9M338 926.2V1017.1M339 909.5V1016.7M340 894.8V1017.3M341 882.4V1018.2M342 850.1V856.3M342 862.1V864.2M342 871.5V880.2M342 885.1V901.2M342 906.3V1018.6M343 935.7V1018.6M344 943V1019.4M345 945V946.5M345 955V961.2M345 962.7V1019.2M346 944.1V959.4M346 964.2V967.6M346 968.6V1018.1M347 964.3V1020M348 946V966.6M348 965.4V1018.5M349 964.3V1017.3M350 954V1019.4M351 933.6V940.3M351 945.9V947.6M351 951.3V1018.6M352 947.6V1018.6M353 937.2V1017.9M354 928.9V1017.5M355 906.3V917.6M355 922.5V925.5M355 932.6V933.5M355 940.5V1018.1M356 932.2V1018.6M357 924.5V1018.7M358 895.1V899.1M358 904V919.4M358 919.5V1020.4M359 924.8V1020.6M360 913.2V1019.5M361 903.7V1018.5M362 906.1V1018.4M363 858.6V865.2M363 871.6V877.2M363 882.3V888M363 894.2V899.1M363 906.1V1016M364 897.5V1017.1M365 857.9V861.5M365 868.2V875.3M365 882.2V884.4M365 890.6V891.1M365 891.2V1016.4M366 895.2V1015.5M367 893.1V1014.1M368 895V1012.1M369 881.8V1010.7M370 871.1V1006.9M371 849.3V857M371 863V863.7M371 867.4V1006.1M372 872.3V1008.9M373 860.7V863.1M373 868.5V879.5M373 885.3V886.1M373 895V1010.5M374 896.6V1010.3M375 897.9V1011.1M376 906.2V1010.6M377 918V1010.1M378 912.3V1009.6M379 908.6V1009M380 912.1V1008.5M381 898.6V1010M382 883.3V1010.8M383 867.4V1013.9M384 852.7V1015.9M385 845.2V1015.5M386 838.4V1012.6M387 773.2V1008.2M388 770.4V1004.8M389 770.8V1004.1M390 766.9V1002.7M391 772.8V1001.1M392 765.1V1001.8M393 767.1V1002M394 770.5V1001M395 763.6V1003.9M396 764.8V1004.5M397 764.9V1006.6M398 762.8V1004.5M399 762.5V1004.9M400 764.4V1004.1M401 769.1V1002.4M402 766.6V1003.2M403 767.4V1004M404 769.9V1002.8M405 796.9V1003.7M406 823.4V1004.9M407 790V1004.7M408 767.2V1006.7M409 754.4V1006.7M410 753.2V1004.5M411 747.7V1005.5M412 749.1V1004.9M413 748.9V1003.8M414 748.9V1002.3M415 750.7V1004.5M416 750.9V1005.7M417 758.4V1007M418 749.4V1006.3M419 750.1V1009.3M420 753.9V1007.8M421 751.5V1010.2M422 754.2V1011M423 757.4V1008.9M424 859.6V1012.5M425 872V1013.3M426 876.5V1015.7M427 880.1V1017.3M428 884.3V1020.6M429 893.5V1021.6M430 913.1V1023.3M431 930.2V1025.2M432 1012.3V1026.1M433 1018.5V1026.8M434 1019.3V1027.8M435 1020.3V1028.2M436 1022.3V1027.4M437 1018.9V1029M438 1017.3V1029M439 1016.5V1029.2M440 1017.4V1029.5M441 1018V1029.4M442 1019.6V1029.7M443 1024.5V1029.8M444 1025.5V1028.4M445 1023.3V1029.8M446 1023.2V1030.1M447 1022.1V1030M448 1021.7V1030M449 1022.2V1030M450 1022V1030.6M451 1023.7V1030.7M452 1021.6V1029.2M453 1020.8V1030M454 1020.3V1030.6M455 1019.4V1029.9M456 1019.8V1030.6M457 1020.6V1030.6M458 1021.9V1031.4M459 1022V1031.4M460 1021.7V1029.8M461 1025.3V1031.4M462 1021.4V1031.1M463 1021.1V1030.7M464 1022.1V1031.3M465 1028.6V1031.4M466 1023.1V1031.4M467 1024.3V1030.6M468 1021.8V1031.2M469 1024.1V1031.2M470 1028.5V1030.5M471 1023.6V1031.3M472 1022.7V1031.4M473 1022.9V1031.9M474 1022V1031.4M475 1024.4V1031.4M476 1022.3V1031.6M477 1021.5V1031.8M478 1026.8V1031M479 1022.1V1031.8M480 1027.6V1032M481 1024.2V1031.7M482 1024.5V1031.9M483 1028.5V1032M484 1024.9V1031.8M485 1030.3V1031.3M486 1026.4V1031.8M487 1026.8V1031.6M488 1026V1032.1M489 1026.2V1031.2M490 1024.6V1030.7M491 1026V1031.9M492 1024.4V1032.4M493 1025.1V1032.4M494 1027.3V1032.5M495 1026.2V1032.1M496 1025.6V1032.5M497 1029.6V1032.8M498 1026.8V1033M499 1025.3V1033.1M500 1024.2V1033.2M501 1025.9V1033.1M502 1023.5V1032.9M503 1024.4V1032.5M504 1024.6V1032.5M505 1024.6V1032.1M506 1026.6V1032.5M507 1027.1V1032.1M508 1028.1V1032.1M509 1028.3V1032.7M510 1027V1033.2M511 1029.4V1033.2M512 1026.9V1032.5M513 1027.6V1032.5M514 1028.2V1032.9M515 1028.9V1033.5M516 1029.8V1033.6M517 1029.4V1033.8M518 1028.2V1033.7M519 1027.7V1033.5M520 1028V1033.7M521 1028.6V1033.5M522 1029.9V1033.6M523 1029.3V1033M524 1033.1V1033.7M525 1031V1033.8M526 1030.7V1033.7M527 1031V1033.5M528 1031.9V1033.1M529 1031.3V1033.9M530 1031.3V1033.5M531 1033.2V1033.9M532 1031V1034.1M533 1031.6V1033.9M534 1030.3V1033.8M535 1030.7V1033.4M536 1032.1V1033.7M537 1030.3V1033.5M538 1031.5V1033.6M539 1029.8V1033.5M540 1028.8V1033.4M541 1029.6V1033.6M542 1028.5V1033.8M543 1028.5V1033.8M544 1031.7V1033.8M545 1029.1V1033.5M546 1030.7V1032.7M547 1029.5V1033.4M548 1030.7V1033.6M549 1029.8V1033.4M550 1028.5V1033.2M551 1028.5V1033M552 1029.4V1033.4M553 1029.4V1033.9M554 1029.8V1033.8M555 1030.3V1033.2M556 1031.8V1033.5M557 1030.1V1033.7M558 1031.1V1033.6M559 1031.9V1032.1M560 1031.1V1033.6M561 1030.2V1033.9M562 1030.3V1033.8M563 1031.7V1034M564 1030.5V1034.1M565 1030.3V1033.8M566 1031.8V1033.9M567 1031.6V1034M568 1032.7V1034.1M569 1033.5V1034.1M570 1031.8V1034M571 1031.3V1033.9M572 1031.7V1033.8M573 1030.4V1033.5M574 1030.9V1033.9M575 1031.5V1033.7M576 1030.7V1033.8M577 1031.4V1033.5M578 1031.5V1033.5M579 1031.1V1033.2M580 1031.1V1034M581 1030.7V1033.9M582 1030V1032.8M583 1031.7V1034.1M584 1031.1V1033.8M585 1030.1V1033.8M586 1031.5V1034M587 1030.2V1033.9M588 1029.8V1033.4M589 1030.7V1033.7M590 1029.6V1033.8M591 1031.8V1033.8M592 1029.8V1033.6M593 1029.8V1033.7M594 1032.9V1033.9M595 1029V1033.6M596 1032V1033.6M597 1031.2V1033.5M598 1029.5V1033.7M599 1030.3V1033.7M600 1030.2V1033.9M601 1031.1V1034.1M602 1032.1V1033.7M603 1031.6V1034.1M604 1031.1V1034.1M605 1030.6V1033.9M606 1029.6V1034.1M607 1031.6V1031.8M608 1031.5V1033M609 1032V1033.6M610 1030.3V1034M611 1031.7V1033.8M612 1031.8V1032M613 1032.6V1034M614 1030.2V1033.3M615 1032.8V1033.7M616 1029.5V1033.4M617 1031.4V1031.6M618 1029.2V1033.7M619 1032.6V1033.8M620 1029.7V1033.4M621 1029.9V1033.7M622 1030V1033.8M623 1029.5V1033.8M624 1032.3V1033.6M625 1029.1V1034.2M626 1032V1034.1M627 1030.2V1033.4M628 1030.2V1034.1M629 1030.7V1033.9M630 1030.9V1033.7M631 1031.2V1034M632 1031.7V1033.9M633 1031.8V1033.7M634 1032.4V1033.8M635 1032.4V1033.8M636 1031.7V1033.6M637 1029.6V1033.8M638 1029.6V1033.1M639 1029.3V1033.3M640 1030.9V1033.3M641 1028.1V1033.7M642 1029.7V1033.5M643 1028.6V1033.4M644 1028.9V1033.6M645 1030.2V1033.3M646 1030.5V1033.3M647 1030.8V1033.7M648 1030V1033.7M649 1029.7V1033.7M650 1029.2V1033.8M651 1030.2V1033.7M652 1030.8V1033.2M653 1029.8V1033.3M654 1029.2V1033.6M655 1028.9V1033.4M656 1030.1V1033.1M657 1030V1033.2M658 1029.3V1033.6M659 1028.4V1033.7M660 1029.1V1033.6M661 1029.9V1033.4M662 1031.9V1033.6M663 1029.4V1033.2M664 1030.3V1033.5M665 1031.1V1033.6M666 1030.5V1033.1M667 1030.1V1033.6M668 1030V1033.7M669 1029.8V1033.6M670 1032.3V1033.7M671 1029.5V1033.7M672 1028.1V1033.7M673 1027.9V1033.1M674 1027.9V1033.4M675 1029.7V1033.1M676 1027.8V1033.3M677 1028.8V1033.3M678 1028.3V1033.2M679 1030.2V1033.2M680 1028.6V1033.1M681 1028.3V1033.4M682 1028.9V1032.4M683 1028.8V1033.4M684 1028.7V1032.6M685 1029.6V1033.2M686 1028.4V1033M687 1028.4V1033.3M688 1030.5V1033.4M689 1027.7V1032.7M690 1029.3V1033.1M691 1028.4V1033.2M692 1030.2V1033.2M693 1029.2V1033.3M694 1031.3V1032.4M695 1028.6V1033.2M696 1027.8V1032.6M697 1030.4V1030.6M698 1028.7V1032.6M699 1029.7V1032.2M700 1030.8V1031M701 1030.5V1030.7M702 1028.6V1032.4M703 1029.9V1032.1M704 1027.7V1031.9M705 1029.2V1031.8M706 1028.6V1032.4M707 1029.8V1031.7M708 1028.9V1032.6M709 1027V1032.3M710 1030.2V1031.7M711 1027.3V1031.4M712 1027.4V1030.9M713 1029.4V1030.9M714 1024.5V1030.5M715 1024.7V1030.5M716 1023.3V1030.2M717 1025V1029.7M718 1025V1029.3M719 1025V1028.1M720 1025.9V1028.8M721 1022.8V1027.6M722 1027.7V1028.3M723 1021V1028.3M724 1017.9V1027.8M725 1016.7V1028M726 1015.6V1028.4M727 1016V1027.7M728 1016V1028.3M729 1014.7V1028M730 1015.1V1028M731 1013.5V1027.4M732 1016.4V1027.4M733 1014.8V1026.9M734 1018.4V1027.6M735 1017V1026.7M736 1018.4V1027.6M737 1018.1V1027.4M738 1017.9V1027.5M739 1017.6V1027.1M740 1014.7V1027.9M741 1019.7V1027.7M742 1021.5V1027.5M743 1014V1026.8M744 1013.9V1026.9M745 1012.3V1027.2M746 1017V1027.3M747 1007.1V1026.7M748 1003.4V1027.1M749 998.4V1027.4M750 996V1024.8M751 970.6V1024.7M752 940.7V1023.2M753 911.4V1023M754 896.6V1020.5M755 892.6V1016.8M756 884.6V1014.2M757 887.6V1010.7M758 875.6V1008.2M759 877.3V1008.2M760 877.3V1006.7M761 870.6V1005.4M762 870.7V1006.1M763 871.2V1007.1M764 874.1V1006.6M765 867.9V1009.3M766 871.8V1010.5M767 871V1012.2M768 870.9V1012.4M769 873.2V1012.7M770 889.7V1013.4M771 894.5V1014.2M772 906.6V1012.8M773 905.3V1014.1M774 914.5V1014M775 918.9V1014.8M776 922.7V1014.3M777 921.2V1013.8M778 923.1V1014.4M779 924.6V1013.9M780 930.9V1014.1M781 931.3V1014.7M782 927.7V1016.8M783 934V1017.9M784 928.5V1018.6M785 933.7V1021.2M786 935.2V1021.4M787 950.5V1021.6M788 958.8V1021.7M789 962V1021.8M790 960.9V1021.7M791 964V1021.1M792 967V1021.5M793 966.7V1020.9M794 959.7V1021.7M795 943.6V1022.5M796 929.4V1022.5M797 934.9V1022.4M798 927.6V1022.6M799 927.8V1022.7M800 930.5V1022.4M801 946.6V1022.6M802 966V1024M803 986.6V1023.5M804 989.6V1024.5M805 997.9V1021.9M806 1001.2V1025.4M807 996.2V1025.7M808 994.6V1024.8M809 1002.1V1026.7M810 992.6V1026.8M811 988.3V1027.9M812 983V1027.7M813 976.6V1026.7M814 967.4V1026.9M815 970.3V1027.7M816 967V1027.2M817 970.7V1027.5M818 978.3V1026.4M819 981.6V1027.5M820 990.6V1027.1M821 996.8V1026.3M822 986.3V1026.2M823 995.7V1027.1M824 991.8V1026.2M825 996.4V1026.7M826 998.2V1026.1M827 1000.9V1027.1M828 1001.9V1025.4M829 1002.2V1025.1M830 1002.4V1027.2M831 1002.4V1027M832 1002.7V1027.1M833 1005.2V1024.6M834 1007V1026.5M835 1005.5V1027.5M836 1012.8V1027.5M837 1009.4V1027.1M838 1003.8V1027.5M839 1004.6V1027.5M840 1002.8V1026.9M841 1001.9V1026.8M842 1001.5V1025.1M843 1003.5V1027.2M844 996.2V1027.5M845 993.4V1027.7M846 992.1V1027.6M847 991.6V1027.3M848 998V1025.2M849 999.5V1024.8M850 1002.4V1024.5M851 997.2V1027.1M852 998V1027.3M853 997V1027.4M854 997.8V1026.9M855 1004V1027.2M856 1001.2V1026.8M857 1004.3V1027.4M858 1006.4V1026.7M859 1002.4V1026.8M860 997.6V1026.6M861 997V1026.4M862 990.3V1025.5M863 986.8V1024.5M864 974.4V1026.1M865 974.8V1025.6M866 977.8V1027M867 981V1025.8M868 990.5V1027.6M869 1001.6V1027.4M870 996.5V1027.2M871 996.1V1028M872 998.2V1028.1M873 997.8V1028.7M874 1000.2V1028.4M875 1002.9V1029.2M876 1003.8V1029.5M877 1006.9V1028M878 1007.5V1029.9M879 999V1028.3M880 1002.7V1029.3M881 997.3V1030M882 994V1030.4M883 996.3V1029.1M884 993V1029.7M885 991.1V1027.8M886 995.3V1028.9M887 997.6V1027.2M888 988.8V1026.7M889 986.8V1027M890 991.4V1028.1M891 986.4V1028.3M892 986.2V1027.8M893 990.8V1026M894 986.8V1027.5M895 991.2V1027.8M896 991.5V1028.1M897 995.5V1028.4M898 994V1028.3M899 1000.5V1027.1M900 1004.3V1027.5M901 1008.7V1027.5M902 1002.9V1026.5M903 1010.1V1027.1M904 1006.3V1027.4M905 1003.3V1027.4M906 1008.7V1027.5M907 1005.1V1028.6M908 1010.2V1028.9M909 1005.7V1028.5M910 1006.5V1029.4M911 1003.3V1029.5M912 1005.8V1029.4M913 1005.3V1029.2M914 1004.9V1029.5M915 1007.7V1028.2M916 1007.1V1028.5M917 1013.2V1028.2M918 1012.2V1028.1M919 1011.2V1029.2M920 1011.1V1029.5M921 1010.8V1027.6M922 1011.2V1029.8M923 1013.6V1030.2M924 1014.7V1029.9M925 1018.1V1029.8M926 1017.8V1030.1M927 1017.4V1030.2M928 1019.1V1028.5M929 1019.2V1030.8M930 1011.8V1030.8M931 1011.1V1030.5M932 1011.4V1030.6M933 1014.3V1028.5M934 1016.2V1028.5M935 1007.6V1030.1M936 1008.9V1029.1M937 1008.9V1030.4M938 1011.3V1030.4M939 1014.5V1028.1M940 1020.8V1029.8M941 1013V1029.3M942 1010.6V1029.9M943 1008.2V1029.6M944 1007.2V1029.9M945 1011.6V1029.3M946 1011.8V1029.1M947 1014.9V1030.4M948 1012V1030.4M949 1016.4V1030.5M950 1010.6V1029.5M951 1015.5V1025.9M952 1009V1029.7M953 1006.6V1030.3M954 1004V1030.6M955 1001.6V1027.6M956 1004.2V1030.3M957 1011V1030.7M958 1010.3V1030.4M959 1013.4V1029.7M960 1016.1V1030M961 1014.8V1027.8M962 1017.9V1029.3M963 1024V1029.6M964 1015.5V1029.8M965 1016.8V1030.2M966 1015.5V1028.9M967 1016V1029.9M968 1017.1V1029.7M969 1011.4V1028.8M970 1009.5V1028.6M971 1005.9V1028.1M972 1007V1028.8M973 1013.4V1028.9M974 1015.3V1029.3M975 1014.6V1028.2M976 1017.6V1029.7M977 1017.5V1029.7M978 1021.6V1030M979 1015.4V1029.7M980 1017.2V1027.5M981 1011.5V1028.6M982 1009.1V1030.2M983 1008.9V1029.8M984 1009.3V1029.6M985 1013.1V1027.7M986 1008.6V1028.9M987 1005.6V1029.1M988 1003V1029.9M989 1002.8V1030.1M990 1004.1V1028.9M991 1005.6V1030.4M992 1007V1030.2M993 1004.9V1030.4M994 1007.9V1029.3M995 1006.6V1030.3M996 1003.3V1029.5M997 1002.9V1029.8M998 1006.8V1029.8M999 1008.2V1027.1M1000 1010.4V1029.7M1001 1012.1V1028.4M1002 1010.3V1029.5M1003 1005.2V1030M1004 1001V1029.5M1005 1001.8V1029.8M1006 1008.3V1030.1M1007 1010.3V1029.5M1008 1006.9V1029.5M1009 1008.4V1028.6M1010 1019.5V1031M1011 1016.9V1030.8M1012 1015.6V1030.1M1013 1015.4V1029.8M1014 1018.2V1026.4M1015 1016.8V1030.4M1016 1019.3V1029.9M1017 1018.5V1030.4M1018 1023.2V1030.6M1019 1016.5V1030.4M1020 1019V1030.7M1021 1014.9V1029.6M1022 1017V1030.2M1023 1014.4V1030.7M1024 1012.9V1030.2M1025 1012.7V1030.8M1026 1011V1030.5M1027 1011.3V1031.1M1028 1012.5V1030.7M1029 1019.5V1030M1030 1012.6V1029.5M1031 1012.3V1029.8M1032 1006.8V1029.1M1033 1005.7V1029.4M1034 1008V1030M1035 1012V1029.6M1036 1018.3V1028M1037 1011V1030.8M1038 1011.5V1030.7M1039 1015.1V1030.7M1040 1019.1V1030.2M1041 1021.2V1028.7M1042 1016.1V1030M1043 1017.4V1030.3M1044 1017.8V1030.1M1045 1018.1V1029.9M1046 1013.9V1030.7M1047 1016.3V1031M1048 1014.1V1031.3M1049 1007.7V1031.3M1050 1012.1V1030.7M1051 1003V1030.6M1052 1011V1028.4M1053 1012V1029.6M1054 1020.4V1030.7M1055 1013.6V1031M1056 1012.7V1031.1M1057 1012.9V1031.1M1058 1012.6V1029.4M1059 1013.2V1031.3M1060 1015.1V1030.3M1061 1017.5V1030.7M1062 1016.6V1030.6M1063 1017.5V1031M1064 1016.2V1031.4M1065 1017.1V1031.3M1066 1017.2V1031.6M1067 1017.4V1032.1M1068 1023.2V1031.4M1069 1019.9V1029.7M1070 1021.7V1031.1M1071 1016.6V1031.1M1072 1015.2V1031.3M1073 1012.6V1031.1M1074 1008V1030.5M1075 1013.4V1027.8M1076 1011.8V1030.6M1077 1014.6V1029.3M1078 1020.5V1028.3M1079 1020.1V1031.8M1080 1026.3V1030.7M1081 1026.1V1032.2M1082 1028.7V1032.1M1083 1027.7V1032.1M1084 1024.6V1031.5M1085 1021.3V1031.5M1086 1021.1V1031.7M1087 1020.7V1031.5M1088 1023.2V1028.6M1089 1020.2V1030.8M1090 1019.2V1031M1091 1022.7V1030.8M1092 1018.6V1030.9M1093 1016.1V1030M1094 1017.6V1029.8M1095 1010.7V1030.1M1096 1010.1V1030.4M1097 1014.8V1030.7M1098 1012.3V1029.5M1099 1011.2V1030.7M1100 1015.8V1031.2M1101 1011.3V1031M1102 1015.8V1030.3M1103 1018V1030.5M1104 1014.1V1029.6M1105 1017.7V1030.6M1106 1020.4V1028.7M1107 1012.1V1030.9M1108 1013.3V1030.2M1109 1019V1030.7M1110 1021.2V1030.8M1111 1021.5V1030.8M1112 1021.9V1031M1113 1021.6V1030.8M1114 1022.6V1030.2M1115 1023.7V1031M1116 1022.8V1031M1117 1024.6V1030.4M1118 1023.5V1030.7M1119 1023.5V1031M1120 1028.6V1031M1121 1023.1V1031.2M1122 1022.6V1030.2M1123 1021.6V1030.5M1124 1021.4V1030.3M1125 1026.2V1026.4M1126 1024V1029.1M1127 1023.6V1030.6M1128 1026.6V1030.5M1129 1025.3V1029.8M1130 1027V1031M1131 1027.7V1031M1132 1024.9V1030.4M1133 1024.8V1030.7M1134 1021.4V1029.6M1135 1022.8V1029.7M1136 1021.7V1026.7M1137 1023.3V1030.1M1138 1022.9V1029.9M1139 1024.2V1030.2M1140 1024.2V1030.4M1141 1022.9V1029.8M1142 1024.6V1030.4M1143 1026.9V1030.8M1144 1026.7V1030.1M1145 1025.1V1030.7M1146 1023.5V1030.5M1147 1023.8V1030.5M1148 1023V1029.7M1149 1024V1029.7M1150 1022.4V1030.1M1151 1023.9V1030.2M1152 1023.5V1030.3M1153 1023.8V1030.2M1154 1016.7V1029.7M1155 1021.1V1030.5M1156 1019.2V1030.3M1157 1019.8V1029.9M1158 1015.4V1030M1159 1014.6V1030.1M1160 1016.9V1029.1M1161 1022.9V1029.7M1162 1022V1029.6M1163 1017.6V1029M1164 1021.9V1028.4M1165 1016.3V1029.2M1166 1015.6V1028.7M1167 1007.7V1029.3M1168 1004.2V1029.6M1169 1007.8V1029.4M1170 1000.7V1028.3M1171 999.7V1026.6M1172 1000.9V1028.5M1173 997.7V1029.8M1174 993.8V1029.2M1175 998.9V1029.9M1176 995.4V1030.1M1177 1004.1V1030.2M1178 1006.9V1029.8M1179 1009.8V1030.2M1180 1012.1V1028.8M1181 1013.8V1029.6M1182 1022.6V1030.1M1183 1025V1030.3M1184 1018.4V1030.1M1185 1017.6V1028.5M1186 1015.5V1030.1M1187 1016.8V1028.4M1188 1013V1030.1M1189 1013.9V1028.3M1190 1012.9V1029.9M1191 1014.8V1029.4M1192 1011.3V1029.4M1193 1015.2V1029.8M1194 1012.9V1029.1M1195 1011.4V1029.9M1196 1010.8V1030.2M1197 1015.2V1029.9M1198 1009.4V1029.7M1199 1010V1030.1M1200 1007.1V1029.9M1201 1005.4V1030M1202 1003.7V1028.6M1203 1001.4V1029.6M1204 999.7V1028.6M1205 1005.7V1029.7M1206 1010V1029.1M1207 1008.4V1029.8M1208 1006.9V1028.8M1209 1004.2V1029.2M1210 1004V1029.1M1211 1001.5V1029.9M1212 1004.5V1030.5M1213 1004.2V1030.2M1214 1012V1029.7M1215 1015.7V1030.3M1216 1015.5V1030.4M1217 1006V1030.4M1218 1014V1030.1M1219 1010.8V1030M1220 1015.4V1028.8M1221 1010.8V1029.9M1222 1008.9V1028.7M1223 1015.1V1028.3M1224 1013.5V1030.1M1225 1012.5V1030.3M1226 1013.5V1030.6M1227 1018.1V1029.4M1228 1016V1030.5M1229 1014V1029.8M1230 1012V1029.8M1231 1016.1V1030.1M1232 1012.6V1030.2M1233 1011V1029.7M1234 1012.6V1030.2M1235 1012.5V1030.7M1236 1009.6V1030.2M1237 1010.4V1028.7M1238 1012V1028.3M1239 1012V1028.1M1240 1006.2V1029.4M1241 1004.5V1029.8M1242 999.1V1030.2M1243 1002.8V1030.4M1244 1006.5V1029.7M1245 1013.3V1030.5M1246 1013.6V1029.3M1247 1006.8V1029.4M1248 1005.5V1030.5M1249 1002.5V1030.4M1250 999.5V1029.9M1251 1000.2V1029.5M1252 1000.5V1029.4M1253 1007.9V1029.6M1254 1008.8V1028.7M1255 1019V1029.7M1256 1010.6V1029.4M1257 1016V1029M1258 1010.7V1029.4M1259 1008V1029.3M1260 1006.9V1029.5M1261 1009.4V1029.1M1262 1011.9V1029.3M1263 1018.1V1029M1264 1012.8V1028.6M1265 1012.1V1028M1266 1007.8V1028.4M1267 999V1028.3M1268 989.8V1027.9M1269 992.4V1028.9M1270 992.6V1028.9M1271 991V1028.6M1272 998V1028.3M1273 1011V1029.1M1274 1003V1029.4M1275 1005V1029.1M1276 1006.3V1029.5M1277 1011.1V1029.7M1278 1014.1V1029.3M1279 1020.6V1030M1280 1019.7V1027.4M1281 1018.9V1027.8M1282 1020.3V1029.6M1283 1022.2V1029.8M1284 1018.8V1029.8M1285 1026.2V1029.5M1286 1017.9V1029.7M1287 1020.7V1028M1288 1020.9V1029.6M1289 1027V1029.5M1290 1018.5V1029.7M1291 1020.7V1028.8M1292 1019.3V1029.8M1293 1018.1V1029.9M1294 1014.6V1030.2M1295 1013.8V1029.1M1296 1018V1029.7M1297 1014.7V1029.3M1298 1016.9V1029.3M1299 1017.2V1029.4M1300 1017.3V1029.8M1301 1017.9V1028.2M1302 1017.4V1028.1M1303 1019.5V1027.8M1304 1020.7V1028.6M1305 1016.2V1027.4M1306 1020.2V1028.7M1307 1020.5V1028M1308 1017.7V1029.2M1309 1019.4V1028.6M1310 1017.2V1028.9M1311 1023.2V1028.7M1312 1013.8V1028.2M1313 1019.7V1028.9M1314 1012.6V1028.5M1315 1017.1V1028.7M1316 1013.8V1028.4M1317 1014.5V1028.7M1318 1011.2V1028.9M1319 1009.9V1028.5M1320 1012.3V1027.9M1321 1014.8V1028.8M1322 1008.7V1028.2M1323 1011.5V1028.5M1324 1011.1V1025.4M1325 1009.7V1029.1M1326 1013.8V1027.9M1327 1018.3V1030.1M1328 1022V1031.1M1329 1020.4V1031M1330 1030.7V1032.1M1331 1030.3V1031.9M1332 1029.6V1031.2M1333 1028.2V1031.5M1334 1026.1V1031.1M1335 1025.3V1029.6M1336 1024V1030M1337 1023.2V1029.5M1338 1022.6V1029.4M1339 1023V1028.7M1340 1021.1V1027.9M1341 1024.8V1028.7M1342 1021.8V1028.8M1343 1017.7V1028.8M1344 1016.5V1027.8M1345 1015.4V1028.6M1346 1019.6V1028.4M1347 1010.4V1028.2M1348 1011.2V1028.3M1349 1013.8V1027.3M1350 1011.9V1027.5M1351 1008.3V1027.5M1352 1002.7V1026.6M1353 991.7V1026.7M1354 981.7V1025.3M1355 973.7V1026M1356 960.1V1025.7M1357 957.2V1025.8M1358 956.2V1025.2M1359 951V1026.1M1360 958.4V1021.6M1361 962.9V1025.1M1362 980.8V1025.5M1363 989.8V1026.3M1364 995.4V1024.2M1365 987.3V1025.8M1366 988V1026M1367 996.4V1024M1368 988.2V1026.6M1369 988.1V1026.9M1370 981.3V1026.8M1371 980.2V1024M1372 980.6V1026.5M1373 984.7V1027.7M1374 987V1027.7M1375 995.8V1027.3M1376 991.5V1027.6M1377 1000V1023.5M1378 997V1027.6M1379 996.2V1028.2M1380 997V1028.7M1381 994.3V1028.6M1382 997.9V1028.1M1383 988.1V1027.7M1384 978.8V1027.9M1385 974.2V1027.8M1386 972V1026.7M1387 974.8V1027.8M1388 974.7V1027.3M1389 980V1027.3M1390 1000.7V1028.7M1391 1001.6V1028.5M1392 997.7V1028.3M1393 996.7V1028.2M1394 1000.3V1028.3M1395 996.4V1028.4M1396 994.9V1027.7M1397 1001.4V1027.4M1398 993.8V1027M1399 992.9V1027.7M1400 993.6V1026.7M1401 994V1026.8M1402 1003.1V1027.6M1403 1007.3V1027.5M1404 1001.4V1028M1405 1001.9V1028.5M1406 1007.2V1028M1407 1005.9V1028.5M1408 1005.5V1027.7M1409 1010V1025M1410 1004V1028.2M1411 1004.4V1027.5M1412 1003.8V1028.3M1413 1001.6V1028.2M1414 1001.8V1028.5M1415 1007.9V1028.3M1416 1001.6V1028.4M1417 1002.7V1026.9M1418 1003.8V1027.9M1419 1008.4V1027.5M1420 1010.5V1028.4M1421 1005.1V1028.2M1422 1010.7V1028M1423 1006.7V1027.5M1424 1005.1V1027.5M1425 1006.9V1026.6M1426 1007.9V1027.8M1427 997.4V1028.1M1428 1003.5V1028.6M1429 998.8V1028.1M1430 998.3V1028.8M1431 1004.6V1028.6M1432 998.3V1028.1M1433 999.1V1026.1M1434 1006.1V1026.5M1435 995.6V1028.6M1436 998.8V1028.4M1437 983.7V1027.3M1438 977.6V1027.6M1439 968.3V1027.7M1440 963.7V1026.8M1441 962.3V1027.5M1442 965.6V1027.4M1443 968.3V1027.6M1444 974.6V1027.5M1445 977.7V1028M1446 973.9V1026.6M1447 979.5V1027.7M1448 991.5V1026M1449 997.2V1027.2M1450 993.9V1024.5M1451 993.7V1024.4M1452 992.5V1025.6M1453 993.1V1022.9M1454 988.1V1024.7M1455 986.6V1024.2M1456 989.5V1023.6M1457 983.8V1022.7M1458 978.3V1022.4M1459 973.6V1021.9M1460 964.5V1022.5M1461 958.7V1021.9M1462 960.9V1022.1M117.7 961.6v.01M118.4 1025v.01M119.3 961.1v.01M122.7 957.1v.01M128.6 1025.8v.01M130.9 982.6v.01M132.8 979.5v.01M136.9 969.1v.01M137.7 970.2v.01M138.6 960.6v.01M140.7 950.1v.01M142.4 943.6v.01M142 939.8v.01M147.3 913.9v.01M146.5 915v.01M148.6 905.2v.01M149.7 1021.5v.01M149.7 908.8v.01M150.3 919.9v.01M150.6 908.1v.01M150.6 924.7v.01M152.4 909.4v.01M153.5 921.6v.01M153.8 912.7v.01M153.7 932.6v.01M155.3 950.5v.01M156 956.8v.01M161.7 972.7v.01M162.7 975.2v.01M164.4 972.1v.01M165.9 978.2v.01M166.5 979.8v.01M167.8 982.1v.01M169.4 979.1v.01M168.8 987.8v.01M170.7 978.4v.01M173.6 964.3v.01M174 1023.4v.01M174.7 968.8v.01M176.3 962.5v.01M177.6 971.2v.01M179.2 970.1v.01M180.5 974.6v.01M180.5 977v.01M182.8 986.6v.01M184.9 961.7v.01M186.9 954.7v.01M187.7 940.4v.01M190.9 964.5v.01M193.1 964.6v.01M196.8 1027.3v.01M201.7 939.8v.01M202.3 1025.2v.01M203.7 1018.9v.01M206.2 927.6v.01M211.1 899.2v.01M210.9 890.2v.01M211.6 1022.7v.01M213 906.5v.01M212.9 911.8v.01M213.4 901.6v.01M214.3 900.2v.01M213.6 918.5v.01M214.5 890.1v.01M216.9 931.7v.01M216.6 925v.01M217.6 898.4v.01M219.3 919.8v.01M219.1 886.8v.01M219 920.4v.01M219.9 922.2v.01M220.2 916.2v.01M221.2 888.8v.01M221.3 903.7v.01M222.2 891.1v.01M221.6 917.4v.01M221.8 899.8v.01M222.5 910.4v.01M223.1 904.6v.01M223.3 900.3v.01M224.5 919.5v.01M225.6 948.3v.01M226.9 938.7v.01M227.7 937.8v.01M228.3 1020.5v.01M229 945.2v.01M228.5 951.1v.01M229.6 1021.5v.01M230 964.7v.01M232.3 1020.9v.01M233.7 897.9v.01M233.6 918.5v.01M233.6 913.2v.01M235.9 880.3v.01M235.6 890.8v.01M236.2 907v.01M237.3 870.1v.01M236.8 903.1v.01M236.6 886.6v.01M238 881.7v.01M239.4 891.5v.01M239.3 915v.01M238.9 894.4v.01M240.4 901.3v.01M242.7 877.4v.01M243.1 898v.01M243.2 882.3v.01M243.7 904v.01M247.4 903v.01M248.8 914.4v.01M251.4 929v.01M251.8 920.1v.01M252 918.7v.01M253.4 1018.7v.01M252.7 920.5v.01M255 943.9v.01M255.5 938.3v.01M258.1 936.9v.01M257.6 939.6v.01M258.7 937v.01M260 916.3v.01M260.5 939.2v.01M265.1 900.9v.01M266.4 874.4v.01M266.9 886.7v.01M267.5 914.3v.01M268.4 925v.01M267.8 911.1v.01M267.9 902.4v.01M268.8 914.5v.01M271.3 916.3v.01M270.8 916.9v.01M272.9 879.1v.01M273.5 881.4v.01M273.6 891.8v.01M274.9 889.5v.01M275.1 863.8v.01M275.4 871.4v.01M276.3 871v.01M276.1 878.8v.01M276.1 877.3v.01M276.5 890v.01M277.8 873.5v.01M277.8 866.8v.01M278.8 886.7v.01M278.8 903v.01M280.2 887.8v.01M281.7 888.2v.01M283.3 890.7v.01M282.9 883.5v.01M283.3 874.1v.01M283.7 906.8v.01M284.4 890.1v.01M284.6 857.3v.01M284.7 903.4v.01M284.5 889v.01M284.6 907.4v.01M286.3 893.8v.01M285.7 861v.01M286.9 873.4v.01M286.7 885v.01M287.2 897v.01M288.4 894.9v.01M289.4 867.8v.01M289 907.3v.01M288.7 901.5v.01M290.5 908.6v.01M290.4 894.9v.01M289.7 895.4v.01M290.1 890.8v.01M291.8 909v.01M292.5 938.7v.01M292.5 930.7v.01M292.1 919.5v.01M293.4 922.7v.01M295.4 895.5v.01M296 902.3v.01M296.9 908.8v.01M298.3 895.8v.01M298.6 912.5v.01M298.7 893.8v.01M300.1 908v.01M300.3 923.3v.01M301.7 903.5v.01M303 913v.01M304.1 935.7v.01M305.6 934.7v.01M306.2 942.5v.01M306.8 958.6v.01M307.8 956.9v.01M312 940.7v.01M312.8 930.9v.01M313.2 937.1v.01M312.9 915.7v.01M314.3 936.5v.01M313.7 914.6v.01M315 927.7v.01M314.7 933.2v.01M315.7 922.1v.01M315.5 947.8v.01M315.9 929.9v.01M318 901.1v.01M318 902.7v.01M318.3 925.6v.01M320.1 1018.6v.01M321.9 881.3v.01M321.8 876.7v.01M325.1 903v.01M327 910v.01M327.4 900.3v.01M327.6 899.2v.01M329.3 902v.01M329.9 910.9v.01M330.5 910.7v.01M333.9 873.3v.01M335.1 838.7v.01M335.5 830.9v.01M336 874.6v.01M336.2 834.7v.01M337.1 903.3v.01M336.6 894.6v.01M336.7 871.7v.01M337.3 909.6v.01M337.6 904.4v.01M338.1 904.6v.01M337.6 916.5v.01M339.2 853.8v.01M338.8 887.2v.01M339 899.5v.01M339.6 879.7v.01M340.8 861.8v.01M343.5 897.4v.01M342.8 880.5v.01M343.9 915v.01M344.4 906.1v.01M344.2 919.3v.01M344.3 931.9v.01M346.3 934.8v.01M346.1 947.1v.01M347.3 937.8v.01M348.5 939.5v.01M348.3 1020.7v.01M348.3 962.7v.01M347.6 962.6v.01M349.4 957.2v.01M350.2 945.9v.01M351.1 914.1v.01M350.9 919.7v.01M351.1 942.8v.01M352.2 904.1v.01M351.8 917.4v.01M353.5 902.4v.01M355 928.8v.01M356.3 888.1v.01M355.7 888v.01M357.1 886.9v.01M357.1 910.9v.01M357.2 910v.01M357.4 900.2v.01M356.6 897.3v.01M358.5 907.6v.01M358.7 892.7v.01M358.7 915.2v.01M359.9 875v.01M359.8 876.2v.01M360.1 872.9v.01M362.9 848.6v.01M363.3 873.2v.01M363.1 878.6v.01M362.6 896.6v.01M363.2 881.4v.01M362.6 884.5v.01M363.2 872.8v.01M363.5 846.2v.01M365 877.1v.01M365.9 856.5v.01M367 853.1v.01M368.3 843v.01M368.4 872.2v.01M368.9 841v.01M369.4 861.7v.01M371.6 838v.01M372.7 857.2v.01M374.2 884.7v.01M373.9 886.6v.01M374.8 848.5v.01M375.2 869.1v.01M374.5 864.8v.01M375.6 889.7v.01M378.9 892.3v.01M378.9 901.7v.01M381.1 877.6v.01M381.1 889.2v.01M381.6 869.5v.01M384.4 842.5v.01M387.4 768.8v.01M388.6 766.8v.01M390.1 766.8v.01M390.5 1003.8v.01M391.2 716.7v.01M391.9 740.1v.01M393.1 750.6v.01M394.3 760.9v.01M394.7 713.3v.01M394.8 711.7v.01M396.3 710.8v.01M396 732v.01M396.6 753.1v.01M396.6 714.4v.01M396.9 750.8v.01M396.6 762.1v.01M397 728.1v.01M397.9 759.6v.01M398.9 758.5v.01M400.3 747.8v.01M400.6 763.2v.01M401.3 734.8v.01M400.7 755.4v.01M401.5 764v.01M403.4 721.4v.01M404.4 769.9v.01M405.8 822.9v.01M407.2 783.5v.01M408.7 1009.6v.01M409.2 728v.01M409.2 737.3v.01M409.1 729.7v.01M409.6 740.7v.01M410.1 710.1v.01M410.4 721.6v.01M410.1 708v.01M409.6 749.8v.01M410.3 748.5v.01M411 712.8v.01M410.9 718.3v.01M410.6 742.9v.01M411.9 707v.01M412.2 739.7v.01M411.6 711.3v.01M412.3 738.2v.01M412.2 719.1v.01M412.2 723.3v.01M411.7 745.8v.01M412.3 744v.01M412.3 727v.01M413.2 747.4v.01M413.2 741.4v.01M413.5 734.8v.01M413.3 744.5v.01M413.1 737.9v.01M412.6 725.9v.01M413.1 734.1v.01M413.4 742v.01M413.4 736v.01M413.3 746.8v.01M413 735.3v.01M414.2 740.7v.01M414.1 706.8v.01M414.2 710.9v.01M414 741.7v.01M413.8 742.1v.01M413.8 742.2v.01M415.2 744v.01M414.9 730.3v.01M415 717.8v.01M415.1 743.2v.01M415.1 700.5v.01M414.5 714.9v.01M416.4 737.3v.01M415.5 749.6v.01M415.7 705.8v.01M415.5 708v.01M416.3 749.1v.01M417.2 747.3v.01M417.3 736.9v.01M416.9 704.2v.01M417.2 730.5v.01M417.9 741v.01M417.8 720.3v.01M417.6 748.9v.01M418.2 739v.01M418.2 712.5v.01M418.1 716.5v.01M418.4 741.3v.01M417.7 717v.01M417.5 748.8v.01M418.8 746.6v.01M418.9 749.2v.01M419.1 700v.01M419.3 707.4v.01M419 746.8v.01M418.9 721.2v.01M419.5 723.6v.01M419.2 711.5v.01M420 732.1v.01M420.2 719.3v.01M420.5 726.6v.01M420.2 702v.01M419.9 732.9v.01M420.4 741.4v.01M420.8 749.5v.01M421.3 711.8v.01M420.9 742v.01M420.6 740.8v.01M420.6 749.6v.01M421.4 746.2v.01M422.3 753.6v.01M422.1 734.1v.01M421.9 750.9v.01M422.3 738.9v.01M422.6 754.6v.01M423.3 754.7v.01M424.8 871.3v.01M429.6 903.5v.01M432.2 1008.3v.01M449.6 1020v.01M451.8 1031.5v.01M453.2 1021v.01M454.1 1017.9v.01M456.6 1017.2v.01M463 1021.3v.01M467.6 1020v.01M470.5 1031.8v.01M479.4 1021.1v.01M480.4 1022.1v.01M484 1024.7v.01M486.3 1024.6v.01M489.1 1023.7v.01M489.6 1025.1v.01M493.5 1023.4v.01M500.6 1024v.01M501.6 1034.1v.01M504.7 1023v.01M505.5 1023.7v.01M508.8 1033.4v.01M521.3 1033.7v.01M522.9 1033.5v.01M524.1 1029.8v.01M527.5 1029.4v.01M529.4 1029.8v.01M538.2 1030.5v.01M543.2 1028.2v.01M542.7 1033v.01M545.4 1029.6v.01M546 1029.5v.01M550.8 1028.9v.01M553.9 1029.1v.01M555 1030.3v.01M555.7 1030.7v.01M562.5 1030v.01M567.5 1031v.01M569 1031.8v.01M570.5 1029.8v.01M572.7 1029.8v.01M574.6 1029.8v.01M576.4 1029.9v.01M576.1 1034.3v.01M580.3 1030.9v.01M583.4 1033.8v.01M585.3 1030v.01M585.1 1033.4v.01M596.5 1029.1v.01M597.8 1033.2v.01M605.5 1033.5v.01M605.7 1029.2v.01M610.6 1034.8v.01M618.5 1033.1v.01M620 1034.4v.01M624.4 1029.3v.01M623.9 1033.8v.01M626.2 1028.5v.01M631.6 1034.3v.01M633.9 1030.5v.01M638.5 1028.5v.01M641.5 1028.1v.01M644.6 1029v.01M653 1034.3v.01M654.1 1029.2v.01M654.6 1028.4v.01M660.4 1028v.01M667.9 1030.1v.01M672 1028.4v.01M673.5 1027.5v.01M679.5 1028.7v.01M679.6 1028.4v.01M685.3 1028v.01M687.6 1027.9v.01M693.6 1026.8v.01M696.2 1027.4v.01M697 1028.3v.01M698.6 1028.3v.01M711.1 1030.8v.01M719.6 1021.9v.01M721.9 1020.6v.01M724.5 1029.4v.01M730.4 1012.2v.01M733.6 1013.6v.01M733.7 1028.1v.01M738.2 1015.1v.01M745.2 1011.8v.01M745.7 1009.4v.01M747.2 1007.2v.01M749.3 997.7v.01M757.7 875.5v.01M758 863.7v.01M757.8 860.8v.01M758.4 861.5v.01M759.2 857.4v.01M759.3 853.5v.01M759.3 823.6v.01M759.8 868v.01M759.6 848.1v.01M760.2 835.2v.01M760.1 823.7v.01M761.2 869.9v.01M761.4 817.4v.01M760.7 855.9v.01M761.2 802.6v.01M761 865v.01M761.2 852.4v.01M762 870v.01M762.3 839v.01M762.1 818.8v.01M761.7 827.9v.01M762.4 852.4v.01M762.4 849.9v.01M762.1 821.9v.01M762 826.3v.01M761.8 845v.01M762.3 846.7v.01M763.3 819.7v.01M763.3 835.5v.01M762.8 863v.01M762.6 833.8v.01M762.6 865.6v.01M762.6 844.9v.01M762.6 869.8v.01M763.2 813.9v.01M762.7 862v.01M762.9 820.1v.01M763.9 842v.01M763.8 853.6v.01M763.8 856.5v.01M764 818.7v.01M764.3 859.2v.01M763.5 840.3v.01M764.1 806.3v.01M764.3 808.4v.01M763.9 850.1v.01M763.7 840.5v.01M765.7 831.7v.01M766.5 841v.01M766.3 860.8v.01M765.7 867.2v.01M765.5 865.6v.01M766.1 809.3v.01M765.6 853.3v.01M766 824.7v.01M766.1 801.8v.01M766.5 841.4v.01M767 867.9v.01M767.5 856v.01M767.3 818.6v.01M767.6 868v.01M768.8 841.4v.01M773.2 900.6v.01M775.4 901.9v.01M777.8 905.3v.01M779.7 910.5v.01M780.3 925v.01M785.5 930.5v.01M787.9 955.9v.01M789.6 944v.01M791.8 962.3v.01M792.3 953.8v.01M791.8 946.9v.01M793.8 951v.01M796 912.2v.01M795.6 914v.01M796.3 915.1v.01M799.1 912.6v.01M801.2 937.4v.01M801.4 938.8v.01M801.6 966.2v.01M804.7 1024.9v.01M815.8 966.7v.01M819.5 983.1v.01M820.1 1028.5v.01M827.7 1000.5v.01M829.5 997.7v.01M833.2 1005.3v.01M838.8 1001.2v.01M840.6 999.8v.01M842.2 997.5v.01M848 989.9v.01M849.9 1029.5v.01M858.1 1001.2v.01M858.7 1028.7v.01M862.1 1027.3v.01M862.6 977.9v.01M863.8 1026.6v.01M870.7 995v.01M874.5 999.9v.01M876 999v.01M876.8 1002.3v.01M878.1 997.6v.01M881.8 992.7v.01M883.8 991.9v.01M883.9 1033.1v.01M888.4 985.3v.01M894.6 1027.6v.01M896.6 990.6v.01M898.9 998.7v.01M902.6 1028v.01M906.2 1001.3v.01M913 1030.6v.01M913.8 1031.6v.01M918.5 1009v.01M918.9 1008.9v.01M918.8 1031.2v.01M922.9 1011.7v.01M927.5 1012.4v.01M929.6 1008.9v.01M931.3 1009.5v.01M932.4 1007.9v.01M932.8 1009.7v.01M938.8 1032.9v.01M940.4 1013.7v.01M942.5 1007.7v.01M943.5 1002.1v.01M944 1005v.01M944.5 1030v.01M945.4 1004.6v.01M947.3 1008.6v.01M955.5 1000.1v.01M960.5 1012.6v.01M962.2 1015.1v.01M965.6 1011.9v.01M969.6 1002.2v.01M972 1002.6v.01M972.8 1006v.01M975.6 1014.7v.01M977.4 1015.3v.01M983.8 1005.1v.01M985.3 1009.8v.01M988.1 1000.5v.01M989.3 1000.3v.01M993.2 1001.7v.01M999.6 1010.1v.01M1002.6 1003.2v.01M1005.9 1000.8v.01M1010.2 1007.6v.01M1014 1013.7v.01M1020.6 1013.9v.01M1021.9 1030.8v.01M1026 1008.9v.01M1032 1004.2v.01M1036 1030.7v.01M1039.3 1008.7v.01M1040.4 1010.9v.01M1046 1033.6v.01M1047.8 1007.5v.01M1053 1006.4v.01M1059.4 1010.7v.01M1061.6 1015.3v.01M1070.4 1014v.01M1070.6 1013.7v.01M1071.8 1014.2v.01M1074.5 1007.3v.01M1075.5 1006.3v.01M1079.7 1022.9v.01M1086.2 1033v.01M1094.7 1032.2v.01M1106.2 1033.9v.01M1109.5 1016.3v.01M1109.6 1031.2v.01M1114.9 1021.4v.01M1122.7 1020.6v.01M1125.5 1023.1v.01M1139.1 1020.2v.01M1140.2 1021.7v.01M1141.4 1020.5v.01M1141.7 1021.8v.01M1143 1031.8v.01M1144.7 1023.6v.01M1160.6 1030.2v.01M1161.8 1015.4v.01M1162.8 1017.1v.01M1166 1010.5v.01M1166.8 1005.5v.01M1168 1002.2v.01M1172.5 995.4v.01M1183.2 1029.4v.01M1183.6 1030.3v.01M1185.4 1014.7v.01M1188.9 1030.4v.01M1190.1 1008.9v.01M1203.2 1033.1v.01M1204.2 997.9v.01M1206.1 1005.4v.01M1208.1 1001.6v.01M1208.7 1030.4v.01M1209.7 999.4v.01M1218 1003v.01M1219.2 1005.5v.01M1229.5 1008.9v.01M1239.8 1005.7v.01M1240.4 1031.2v.01M1244.8 1003.4v.01M1248.4 1003.9v.01M1249.6 996.2v.01M1256.1 1031.9v.01M1261.3 1029.5v.01M1262.8 1010.2v.01M1265.3 1004.9v.01M1266.4 1003v.01M1269.7 990.8v.01M1274.7 1003.1v.01M1275.9 1002v.01M1278 1012.6v.01M1281.9 1029.7v.01M1282.5 1017v.01M1286.2 1018.1v.01M1290.5 1016.7v.01M1293.2 1015.9v.01M1300 1014.4v.01M1305.6 1015.1v.01M1306.7 1016.2v.01M1309.1 1014.3v.01M1312.1 1029.3v.01M1314.2 1011.1v.01M1315.3 1012.2v.01M1317 1010.6v.01M1329 1020.8v.01M1329.5 1023.6v.01M1331.5 1029.3v.01M1334.8 1031.4v.01M1335.9 1029.7v.01M1340.8 1018.9v.01M1344.7 1012.5v.01M1347.1 1027.8v.01M1354.2 977.8v.01M1354.6 962.3v.01M1363.3 984.3v.01M1366.1 1027.8v.01M1373.6 982.8v.01M1380.5 993.6v.01M1384.1 978.1v.01M1390.8 995.8v.01M1392.9 994.8v.01M1393.7 1030.9v.01M1406.2 1003.7v.01M1410.5 999.9v.01M1412.1 998.8v.01M1411.8 1031.4v.01M1412.9 999.9v.01M1413.3 1031v.01M1416.6 999.4v.01M1419.7 1001.8v.01M1419.9 1028.1v.01M1421.2 1002.1v.01M1422.2 1003.4v.01M1425.3 999.1v.01M1425.6 996.3v.01M1431.5 993.4v.01M1438.2 968.9v.01M1441.8 962.7v.01M1451.6 991.2v.01M1453.2 988.5v.01M1453.7 987.8v.01M1455.3 1025.5v.01M123.4 933v.01M123.4 937.6v.01M123.4 940.6v.01M147.6 894.6v.01M209.5 883.8v.01M219.4 883.5v.01M219.4 892.3v.01M219.4 898.4v.01M222.5 899.9v.01M241.4 835.3v.01M241.4 839.9v.01M237.6 850.3v.01M237.6 862.5v.01M371.3 783.8v.01M371.3 791.5v.01M371.3 800v.01M371.3 807.6v.01M371.3 816.9v.01M371.3 824.5v.01M371.3 775.4v.01M371.3 767.7v.01M371.3 758.5v.01M371.3 752.4v.01M371.3 741.6v.01M371.3 733.9v.01M371.3 724.7v.01M411.4 597.4v.01M411.4 607.6v.01M411.4 613.5v.01M411.4 634.5v.01M411.4 638.4v.01M411.4 663.7v.01M408.6 669.1v.01M411.4 670.6v.01M411.4 681.4v.01M410.9 686v.01M415.2 687.5v.01M411.7 698.6v.01M415.5 699v.01M411.4 705.9v.01M409.4 709.8v.01M409.4 719.8v.01M411.7 724.4v.01M410.2 738.2v.01M410.9 750.5v.01M391.6 600.4v.01M391.6 619.2v.01M391.6 649.4v.01M391.6 663.7v.01M391.6 666.8v.01M392.5 670.6v.01M391.6 689.4v.01M389.4 694.4v.01M392.5 701.6v.01M392.5 707.2v.01M389.4 719.8v.01M391.6 733.6v.01M388.2 742.5v.01M392.5 746.3v.01M388.7 752.5v.01M399.4 649.4v.01M399.4 661.4v.01M399.4 665.2v.01M399.4 685.5v.01M399.4 701.3v.01M399.4 705.9v.01M400.2 710.5v.01M400.2 715.2v.01M400.2 719.8v.01M398.7 730.5v.01M399.4 736.7v.01M401.7 741.3v.01M399.4 747.4v.01M399.4 753.5v.01M420.2 689.8v.01M420.2 694v.01M420.2 705.2v.01M420.2 717.5v.01M418.6 721.3v.01M420.2 730.5v.01M420.2 738.2v.01M420.2 748.9v.01M420.2 755.1v.01M415.5 687.5v.01M415.5 699v.01M415.5 710.5v.01M416.3 721.3v.01M415.5 727.4v.01M415.5 739.7v.01M415.5 745.9v.01M371.3 721.3v.01M371.3 734.4v.01M371.3 740.5v.01M371.3 746.6v.01M371.3 748.9v.01M371.3 754.3v.01M791.4 915.3v.01M791.4 927.6v.01M791.4 935.3v.01M797.8 897.6v.01M797.8 901.5v.01M865.4 943v.01M865.4 948.3v.01M865.4 957.8v.01M760.7 1020.5v.01M774.5 1023.6v.01M774.2 893v.01M766.3 745.3v.01M766.3 750.7v.01M766.3 754.6v.01M766.3 766.4v.01M766.3 776.5v.01M764.5 789.1v.01M766.8 789.4v.01M763.4 794.5v.01M765.6 801.4v.01M766.3 809.1v.01M765.6 812.9v.01M757.6 814.5v.01M763 817.5v.01M766.3 819.8v.01M766.3 826v.01M757.6 827.5v.01M757.6 829.8v.01M797.8 897.4v.01M774.5 891.2v.01M763 833.7v.01M766.3 832.1v.01M764.5 838.3v.01M766.8 842.9v.01M761.4 842.9v.01M759.1 847.5v.01M763.7 849v.01M767.6 850.5v.01M756.8 841.3v.01M756.1 849v.01M758.4 853.6v.01M765.3 829v.01M763.7 826v.01M766 836.7v.01M762.2 838.3v.01M760.7 850.5v.01M755.3 855.2v.01M767.6 845.9v.01M1176.2 944.5v.01M1176.2 948.5v.01M1176.2 957.7v.01M1176.2 961.8v.01M1176.2 974v.01M1176.2 976v.01M1358.6 937.3v.01M1385.5 963.8v.01" stroke="#1f77b4" stroke-width="5.56" stroke-linecap="round" fill="none"/>
<path d="M115 1007.1L116.6 996.9L118.2 993.1L119.8 990.7L121.4 989.9L123 996.8L124.6 1000.5L126.2 1001.5L127.8 1002.6L129.4 1010.8L130.4 1012.8L131 1008.3L132.6 1003L133.1 999L134.2 1004.4L135.8 1011L137.4 998.5L139 994.8L140.6 990.7L142.2 987.1L143.8 986.2L144.9 984.4L145.4 977.3L147 954.8L147.3 949.9L148.6 965L150.2 979.6L151.1 986.7L151.8 980.8L152.6 976L153.4 984.9L154.6 1002.1L155 1000.5L156.6 1001.1L158.2 1002L159.8 1004.7L161.4 1006.2L163 1007.9L164.6 1008.7L166.2 1011.7L167.8 1014.6L169.4 1012.2L171 1011.6L172.6 999L173.1 997.5L174.2 1005.5L175.8 1000.9L177.4 1000.1L179 1008.5L180.6 1012.3L182.2 1015.2L182.6 1018.2L183.8 1011.3L184.9 1006.7L185.4 1009L186 1009.8L187 993.8L188 978.3L188.6 989.8L190.2 1015L191.8 1001.5L192.6 997.5L193.4 1003.8L195 1013.3L195.6 1018.2L196.6 1014L198.2 1011.6L199.8 1015.4L201.4 990.2L201.8 984.4L203 982.3L204.6 982.8L206.2 976.6L207.8 967L208.4 962.2L209.4 965.8L210.2 972.9L211 962.8L212.1 949.9L212.6 962L214.2 995.3L214.5 1004.4L215.8 991.8L216.4 987.5L217.4 990.5L219 972.9L219.4 968.3L220.6 970.8L222.2 967.1L223.8 973.7L225.4 983.3L227 992L228.6 989.9L230.2 985.3L231.8 978.1L233.4 969.6L235 966.9L236.6 944.1L238.2 962.9L239.4 969.8L239.8 965.8L241.4 950.8L243 956.7L244.6 964.3L246.2 965.8L247.8 967.8L249.4 968.8L251 976L252.6 984.7L253.2 988.3L254.2 981.2L255.8 976L257.4 985.2L257.8 989.8L259 983.8L260.6 972.1L262.2 958.6L263.8 958.6L265.4 951.2L267 957.4L268.6 956.9L270.2 966.7L271.3 976L271.8 971.6L273.4 961.6L275 960.1L275.5 962.2L276.6 956.7L277.8 947.6L278.2 951.2L279.8 963.8L280.9 969.8L281.4 963.9L282.7 943.7L283 949.4L284.6 975.7L286.2 955.6L286.7 945.3L287.8 962.8L288.5 969.8L289.4 971.3L291 976.5L291.9 979L292.6 986.4L294.2 1001.8L295.8 957.4L297 933.7L297.4 941.8L299 963L300.6 967.4L302.2 984.5L303.8 988.1L305.4 987.5L307 993.3L308.6 991.2L310.2 983.9L310.3 988.3L311.8 980.4L313.4 972.6L315 979.3L315.7 982.1L316.6 978.1L318.2 969.8L319.8 965L321.4 938.6L321.6 937.6L323 961L324.2 976L324.6 976.5L326.2 963.9L327.5 943L327.8 945.4L329.4 964.8L329.5 969.8L331 954.7L331.1 951.4L332.6 984.9L334.2 960.5L334.5 954.5L335.7 983.7L335.8 981.3L337.4 997.4L338 1005.2L339 977L340.6 930.6L342.2 984.3L342.6 995.9L343.8 988.4L345.4 997.9L345.7 1000.5L347 995.8L347.2 991.3L348.6 991.9L350.2 984.1L351.8 974.8L353.4 969.6L353.8 967.5L355 979L355.6 986.7L356.6 975.6L358 955.2L358.2 957.8L359.8 968.8L360.3 971.4L361.4 959.9L361.8 953.7L363 957.2L363.3 959.1L364.6 948.9L365.2 942.2L366.2 944.5L367.8 946.9L367.9 949.9L369.4 912.1L370.7 881.5L371 887.9L372.6 916.6L373.3 949.9L374.2 955.1L375.8 965.7L376.4 969.8L377.4 966.4L378.7 959.8L379 963L380.6 977L381 978.3L382.2 963.8L383.3 946.8L383.8 950.5L385.4 949.7L385.6 949.9L387 889L387.6 864.5L388.2 879.2L388.6 883.3L390.2 897.2L391.8 875.7L392 872L393.4 901.4L394 914.5L395 912.3L395.6 908.4L396.6 892.8L398.2 867.8L398.7 858.9L399.8 873L401 888.4L401.4 886L402.5 880L403 887L404.6 910.3L406.2 935.9L406.6 942.2L407.8 923.6L408.6 908.4L409.4 882.4L410.9 826.1L411 827L412.6 908.5L413.7 960.6L414.2 927.7L415.5 846.7L415.8 861.5L417.4 948.4L419 862.4L419.7 828.4L420.6 867.9L422.2 943L422.5 953.7L423.8 944.7L425.4 962.7L426 972.9L427 967.3L428.6 955.1L428.6 959.1L430.2 970.6L431.7 1025.1L431.8 1024.1L433.4 1022.3L435 1023L436.6 1023.3L438.2 1024.3L439.8 1024.4L441.4 1024.8L443 1025.4L444.6 1025.5L446.2 1026.1L447.8 1025.9L449.4 1026.4L451 1026.5L452.6 1026.5L454.2 1026.1L455.8 1026.7L457.4 1026.2L459 1026.5L460.6 1026.9L462.2 1026.6L463.8 1026.7L465.4 1026.7L467 1026.3L468.6 1026.5L470.2 1026.6L471.8 1026.4L473.4 1026.3L475 1027L476.6 1026.9L478.2 1027L479.8 1027.2L481.4 1027.7L483 1028.1L484.6 1027.7L486.2 1028.7L487.8 1028L489.4 1028.7L491 1028.8L492.6 1028.7L494.2 1028.3L495.8 1028.6L497.4 1028L499 1028.1L500.6 1028.1L502.2 1028.1L503.8 1028.5L505.4 1028.8L507 1028.8L508.6 1029.2L510.2 1029.4L511.8 1029.8L513.4 1029.7L515 1029.9L516.6 1030.2L518.2 1030.2L519.8 1030.7L521.4 1030.7L523 1030.7L524.6 1031.2L526.2 1031.2L527.8 1031L529.4 1031.2L531 1031.2L532.6 1032L534.2 1031.6L535.8 1031.6L537.4 1031.5L539 1031.6L540.6 1031.9L542.2 1031.8L543.8 1031.7L545.4 1031.8L547 1032L548.6 1032L550.2 1032.1L551.8 1031.4L553.4 1031.9L555 1031.7L556.6 1032L558.2 1031.7L559.8 1032L561.4 1032.1L563 1031.7L564.6 1031.9L566.2 1031.7L567.8 1032L569.4 1031.5L571 1031.7L572.6 1032.3L574.2 1032.1L575.8 1032L577.4 1031.8L579 1031.8L580.6 1031.8L582.2 1031.8L583.8 1031.8L585.4 1032L587 1032L588.6 1032L590.2 1031.8L591.8 1032.3L593.4 1031.8L595 1031.9L596.6 1032L598.2 1032.3L599.8 1031.9L601.4 1031.9L603 1031.8L604.6 1032.5L606.2 1032L607.8 1031.6L609.4 1032.1L611 1032L612.6 1032L614.2 1032L615.8 1031.9L617.4 1031.8L619 1031.8L620.6 1031.4L622.2 1031.9L623.8 1031.7L625.4 1032L627 1032L628.6 1031.7L630.2 1031.5L631.8 1031L633.4 1031.7L635 1031.7L636.6 1031.6L638.2 1031.4L639.8 1031.3L641.4 1031.9L643 1031.2L644.6 1031.7L646.2 1031.5L647.8 1031.2L649.4 1031.9L651 1031.1L652.6 1031.3L654.2 1031.2L655.8 1031.3L657.4 1031.1L659 1031.4L660.6 1031.2L662.2 1030.9L663.8 1031.3L665.4 1030.9L667 1031.6L668.6 1030.8L670.2 1031.1L671.8 1031.1L673.4 1031.3L675 1031.3L676.6 1030.6L678.2 1030.6L679.8 1030.6L681.4 1030.7L683 1031.4L684.6 1030.6L686.2 1030.9L687.8 1030.6L689.4 1030.4L691 1030.7L692.6 1030.2L694.2 1030.3L695.8 1030.4L697.4 1030.3L699 1030.5L700.6 1030.3L702.2 1030.2L703.8 1030.2L705.4 1030.1L707 1029.6L708.6 1028.9L710.2 1028.9L711.8 1028.5L713.4 1027.7L715 1027.5L716.6 1027.3L718.2 1026.8L719.8 1025.8L721.4 1023.6L723 1024.2L724.6 1022.5L726.2 1021L727.8 1021L729.4 1021.2L731 1022.3L732.6 1022.4L734.2 1023.6L735.8 1022L737.4 1023.5L739 1022.3L740.6 1021.5L742.2 1021.8L743.8 1021.5L745.4 1020.3L747 1019.8L748.6 1019.4L750.2 1014.2L751.8 1003L753.4 976.8L755 949L755.6 942.2L756.6 950.5L756.8 952.9L758.2 942.6L759.6 954.5L759.8 952.2L761.4 936.9L762.2 931.4L763 919.2L764.6 900L765.3 894.6L766.2 908L766.3 908.4L767.8 951.3L768.7 963.7L769.4 962.2L769.9 962.2L771 984.1L772.6 965L774.2 961.3L775.8 966.7L777.4 979L779 995.2L779.4 998.2L780.6 984.7L781.4 976L782.2 975.1L783.8 978.1L785.4 989.6L787 992.4L788.6 996.1L789.4 996.7L790.2 991L791.8 979.1L792.2 977.5L793.4 989.4L794 995.2L795 983.1L796.6 962.6L797.1 957.5L798.2 971.4L799.8 996.1L800.1 1003.6L801.4 1007.7L803 1014.5L804.6 1018.1L806.2 1015.3L807.8 1013.3L809.4 1017.7L811 1023.2L812.6 1012.3L814.2 998.4L815.2 991.3L815.8 999.5L817.4 1016.8L818.3 1025.1L819 1022.4L820.6 1016.5L821.6 1011.3L822.2 1014L823.8 1021.4L825.4 1020.7L827 1020L828.6 1019.1L830.2 1015.4L831.8 1020.4L833.4 1019.9L835 1018.7L836.6 1019.4L838.2 1018.8L839.8 1019.5L841.4 1017.3L843 1014.6L844.6 1013.9L846.2 1012.7L847.8 1010.9L849.4 1015.3L851 1018.1L852.6 1016.9L854.2 1015.7L855.8 1015.1L857.4 1015.4L859 1017.4L860.6 1018.6L862.2 1018.4L863.8 1010.8L865.4 1001.1L867 1013.9L867.7 1019.7L868.6 1015L870.2 1009.8L871.8 1018.9L873.4 1017.4L875 1016.8L876.6 1015.7L878.2 1014.7L879.8 1015.8L881.4 1017.2L883 1019.4L884.6 1017.7L886.2 1014.1L887.8 1011.5L889.4 1011L891 1010.1L892.6 1012.1L894.2 1017.5L895.8 1015.9L897.4 1013.3L899 1015.2L900.6 1024L902.2 1021.6L903.8 1019.3L905.4 1016.9L907 1015.2L908.6 1016.5L910.2 1020.3L911.8 1019.4L913.4 1018L915 1017.9L916.6 1020.3L918.2 1023.2L919.8 1025.6L921.4 1022.9L923 1021.8L924.6 1021.6L926.2 1022.4L927.8 1022.8L929.4 1022.4L931 1021.5L932.6 1020.8L934.2 1021.2L935.8 1018.9L937.4 1021.6L939 1023.6L940.6 1022.7L942.2 1020.9L943.8 1019.6L945.4 1015.3L947 1018.7L948.6 1022.4L950.2 1022.5L951.8 1022.2L953.4 1017.9L955 1014.8L956.6 1017.7L958.2 1020.7L959.8 1026.5L961.4 1022L963 1020.4L964.6 1023.2L966.2 1022.4L967.8 1023.5L969.4 1021.6L971 1020.8L972.6 1025.5L974.2 1024.6L975.8 1023.6L977.4 1021.3L979 1020.8L980.6 1020.7L982.2 1020.2L983.8 1024L985.4 1025.8L987 1020.9L988.6 1018.9L990.2 1025.6L991.8 1027.1L993.4 1026L995 1024.6L996.6 1020.6L998.2 1019.8L999.8 1021.2L1001.4 1021.7L1003 1015.9L1004.6 1014.8L1006.2 1016.8L1007.8 1019.3L1009.4 1021.5L1011 1023.2L1012.6 1024L1014.2 1025.4L1015.8 1025L1017.4 1023.4L1019 1023.6L1020.6 1022.9L1022.2 1022.6L1023.8 1021.9L1025.4 1021.1L1027 1026.1L1028.6 1026.3L1030.2 1022.4L1031.8 1020.9L1033.4 1020L1035 1020.7L1036.6 1023.1L1038.2 1024.8L1039.8 1024.7L1041.4 1024.8L1043 1025.2L1044.6 1024.4L1046.2 1024.2L1047.8 1022.8L1049.4 1020.4L1051 1016.4L1052.6 1022.3L1054.2 1026.8L1055.8 1024L1057.4 1021.9L1059 1021.4L1060.6 1025.7L1062.2 1026.5L1063.8 1025.3L1065.4 1023.6L1067 1024.5L1068.6 1025.3L1070.2 1026L1071.8 1024.7L1073.4 1022.5L1075 1020.7L1076.6 1026.3L1078.2 1029L1079.8 1029.1L1081.4 1031.2L1083 1030.4L1084.6 1028.4L1086.2 1027.2L1087.8 1026L1089.4 1024.7L1091 1026.5L1092.6 1025.3L1094.2 1025.8L1095.8 1024.4L1097.4 1023L1099 1020.6L1100.6 1017.2L1102.2 1021.3L1103.8 1024.8L1105.4 1023.5L1107 1023L1108.6 1027.3L1110.2 1028L1111.8 1027.6L1113.4 1028.1L1115 1026.7L1116.6 1026.8L1118.2 1025.7L1119.8 1026.5L1121.4 1027L1123 1025.3L1124.6 1026.1L1126.2 1028.3L1127.8 1027L1129.4 1025.8L1131 1026.3L1132.6 1024L1134.2 1024.9L1135.8 1025.5L1137.4 1025.5L1139 1026.5L1140.6 1026L1142.2 1025.9L1143.8 1027.3L1145.4 1027.4L1147 1027.2L1148.6 1026.8L1150.2 1027L1151.8 1026.2L1153.4 1026.3L1155 1024.9L1156.6 1024.9L1158.2 1025.7L1159.8 1025.1L1161.4 1025.3L1163 1026.3L1164.6 1025.3L1166.2 1022.4L1167.8 1021.3L1169.4 1017.3L1171 1017.6L1172.6 1016.6L1174.2 1012.6L1175.8 1008.4L1177.4 1015.4L1179 1023.8L1180.6 1024.5L1182.2 1024.8L1183.8 1025L1185.4 1023.8L1187 1022.1L1188.6 1021L1190.2 1022.8L1191.8 1020.5L1193.4 1020.9L1195 1020.9L1196.6 1023L1198.2 1022.5L1199.8 1021.3L1201.4 1018.5L1203 1019.4L1204.6 1020.9L1206.2 1023.1L1207.8 1020.7L1209.4 1016.3L1211 1017.4L1212.6 1021.5L1214.2 1024.2L1215.8 1023.9L1217.4 1020.4L1219 1019.5L1220.6 1019.2L1222.2 1021.2L1223.8 1022.5L1225.4 1024.1L1227 1024.8L1228.6 1025.3L1230.2 1024.5L1231.8 1020.4L1233.4 1021.1L1235 1025.3L1236.6 1022.3L1238.2 1020.7L1239.8 1026.1L1241.4 1022.3L1243 1015.8L1244.6 1017.2L1246.2 1021.8L1247.8 1019.9L1249.4 1017.3L1251 1017.7L1252.6 1022.2L1254.2 1022.6L1255.8 1022.1L1257.4 1022L1259 1022.2L1260.6 1021.4L1262.2 1020.5L1263.8 1022.2L1265.4 1020.9L1267 1017L1268.6 1009.4L1269.3 1006.6L1270.2 1014.1L1271.8 1022L1273.4 1019.6L1275 1019L1276.6 1023.4L1278.2 1024.8L1279.8 1024.2L1281.4 1023.9L1283 1024.9L1284.6 1026.1L1286.2 1024.9L1287.8 1026.1L1289.4 1025.4L1291 1024.8L1292.6 1024.1L1294.2 1023.2L1295.8 1022.6L1297.4 1022.3L1299 1021.8L1300.6 1023.4L1302.2 1023.5L1303.8 1023.8L1305.4 1023.1L1307 1022.7L1308.6 1021.4L1310.2 1021.8L1311.8 1020.3L1313.4 1019.9L1315 1021.6L1316.6 1020.6L1318.2 1019.1L1319.8 1018.8L1321.4 1017.4L1323 1018.6L1324.6 1022.6L1326.2 1026.7L1327.8 1028.3L1329.4 1029.6L1331 1031L1332.6 1028.5L1334.2 1029.9L1335.8 1028.8L1337.4 1027.8L1339 1025.7L1340.6 1026.5L1342.2 1025.6L1343.8 1025.6L1345.4 1021.1L1347 1021.5L1348.6 1024.3L1350.2 1021L1351.8 1017.4L1353.4 1011.3L1355 1002.2L1356.6 992.7L1357.6 986.2L1358.2 990.7L1359.8 1004.1L1361.1 1012.7L1361.4 1010.8L1363 1005.1L1364.6 1010.2L1366.2 1015.5L1367.8 1015.9L1368.8 1016.8L1369.4 1012L1371 1004.2L1371.5 1001.5L1372.6 1006L1374.2 1009.2L1375.8 1011.7L1377.4 1015L1379 1014.7L1380.6 1013.7L1382.2 1009.4L1383.8 1005.5L1385.4 1002.1L1387 1005.3L1388.6 1012.6L1390.2 1016.9L1391.8 1018.6L1393.4 1019.8L1395 1017.8L1396.6 1015L1398.2 1012.7L1399.8 1014.4L1401.4 1016.5L1403 1016.2L1404.6 1017.7L1406.2 1018.7L1407.8 1019.2L1409.4 1017.6L1411 1017.1L1412.6 1017.3L1414.2 1017L1415.8 1016L1417.4 1015.3L1419 1018.3L1420.6 1019.1L1422.2 1017.7L1423.8 1015.7L1425.4 1016.5L1427 1015.8L1428.6 1015.7L1430.2 1013.7L1431.8 1013.4L1433.4 1015L1435 1013.8L1436.6 1010L1438.2 1006.9L1439.8 1003L1441.4 1000.9L1443 998L1444.6 999.9L1446.2 1005.8L1447.8 1009.1L1449.4 1011.3L1451 1010.5L1452.6 1007.3L1454.2 1007.8L1455.8 1008.7L1457.4 1007.2L1459 1004.1L1460.6 1003.1L1462.2 1000.5" stroke="#ff7f0e" stroke-width="2.08" stroke-linejoin="round" stroke-linecap="square" fill="none"/>
</g>
<path d="M115.5 1054.5v4.86M284.5 1054.5v4.86M452.5 1054.5v4.86M620.5 1054.5v4.86M789.5 1054.5v4.86M957.5 1054.5v4.86M1125.5 1054.5v4.86M1294.5 1054.5v4.86M115.5 1033.5h-4.86M115.5 971.5h-4.86M115.5 908.5h-4.86M115.5 846.5h-4.86M115.5 783.5h-4.86M115.5 721.5h-4.86M115.5 659.5h-4.86M115.5 596.5h-4.86" stroke="#000" stroke-width="1.11" fill="none"/>
<rect x="115.5" y="575.5" width="1347.0" height="479.0" fill="none" stroke="#000" stroke-width="1.11" stroke-linejoin="miter"/>
<text x="105.78" y="1041.94" text-anchor="end" font-size="22.222">0.00</text>
<text x="105.78" y="979.94" text-anchor="end" font-size="22.222">0.05</text>
<text x="105.78" y="916.94" text-anchor="end" font-size="22.222">0.10</text>
<text x="105.78" y="854.94" text-anchor="end" font-size="22.222">0.15</text>
<text x="105.78" y="791.94" text-anchor="end" font-size="22.222">0.20</text>
<text x="105.78" y="729.94" text-anchor="end" font-size="22.222">0.25</text>
<text x="105.78" y="667.94" text-anchor="end" font-size="22.222">0.30</text>
<text x="105.78" y="604.94" text-anchor="end" font-size="22.222">0.35</text>
<text transform="translate(40.6 815.0) rotate(-90)" text-anchor="middle" font-size="22.222">Peak Voltage [V]</text>
<text x="115.5" y="567.17" font-size="26.667">(b)</text>
<rect x="1047.19" y="585.70" width="406.05" height="79.5" rx="3.7" fill="#fff" fill-opacity="0.8" stroke="#ccc" stroke-opacity="0.8" stroke-width="1.39"/>
<circle cx="1073.4" cy="600.40" r="2.78" fill="#1f77b4"/>
<path d="M1053.1 639.10H1092.2" stroke="#ff7f0e" stroke-width="2.08" fill="none"/>
<text x="1106.42" y="606.23" font-size="18.511">Raw Data</text>
<text x="1106.42" y="633.40" font-size="18.511">Butterworth Filtered Data</text>
<text x="1106.42" y="654.13" font-size="18.511">(N=6, Tc=3.3333 min, Type: low)</text>
<text x="784.4" y="30.17" text-anchor="middle" font-size="26.667">10.0 MHz N0000007</text>
<text transform="translate(18.16 1133.21) rotate(-30)" font-size="22.222">05-22 00</text>
<text transform="translate(186.53 1133.21) rotate(-30)" font-size="22.222">05-22 03</text>
<text transform="translate(354.91 1133.21) rotate(-30)" font-size="22.222">05-22 06</text>
<text transform="translate(523.28 1133.21) rotate(-30)" font-size="22.222">05-22 09</text>
<text transform="translate(691.66 1133.21) rotate(-30)" font-size="22.222">05-22 12</text>
<text transform="translate(860.03 1133.21) rotate(-30)" font-size="22.222">05-22 15</text>
<text transform="translate(1028.41 1133.21) rotate(-30)" font-size="22.222">05-22 18</text>
<text transform="translate(1196.79 1133.21) rotate(-30)" font-size="22.222">05-22 21</text>
<text x="789" y="1160.15" text-anchor="middle" font-size="22.222">UTC</text>
</svg></body></html>
